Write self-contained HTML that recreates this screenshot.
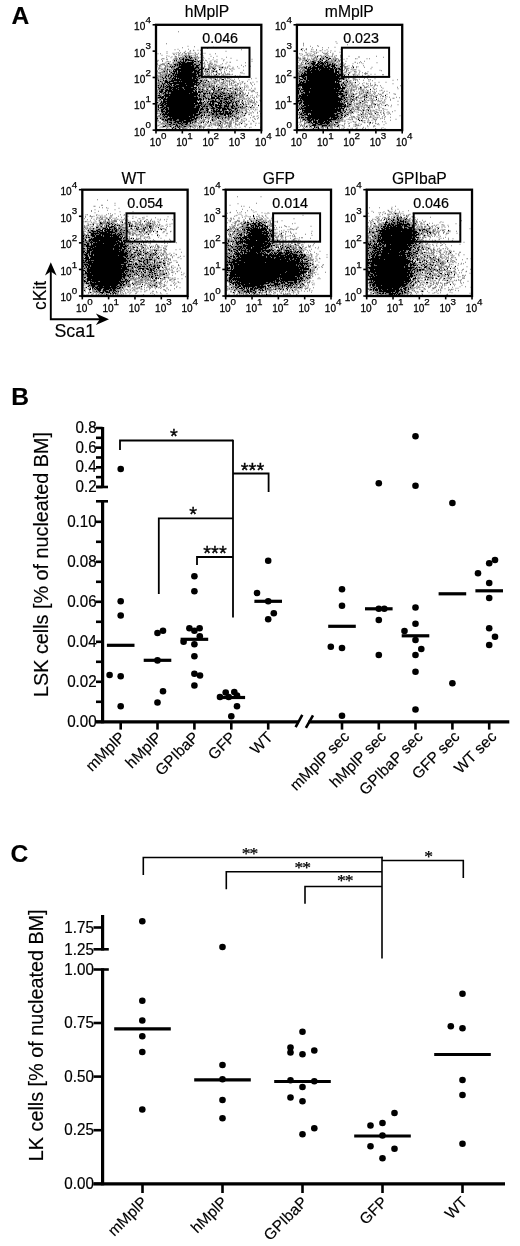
<!DOCTYPE html>
<html lang="en"><head><meta charset="utf-8"><title>Figure</title>
<style>html,body{margin:0;padding:0;background:#fff}svg{display:block}text:not([stroke-width]){stroke:#000;stroke-width:.15px}</style>
</head><body>
<svg width="520" height="1246" viewBox="0 0 520 1246" font-family='"Liberation Sans", sans-serif' fill="#000" stroke="none">
<rect width="520" height="1246" fill="#fff"/>
<text x="11.5" y="23.5" font-size="24.6" text-anchor="start" font-weight="bold">A</text>
<text x="11.2" y="405.2" font-size="24.6" text-anchor="start" font-weight="bold">B</text>
<text x="10.4" y="862" font-size="24.6" text-anchor="start" font-weight="bold">C</text>
<g>
<g transform="translate(156 25.5)" stroke="#000" stroke-width="1" fill="none" shape-rendering="crispEdges"><path d="M0 31h105" stroke-dasharray="0 29 1 3 1 176"/><path d="M0 32h105" stroke-dasharray="0 30 1 2 1 1 1 174"/><path d="M0 33h105" stroke-dasharray="0 23 1 3 1 6 1 175"/><path d="M0 34h105" stroke-dasharray="0 26 2 1 4 6 1 170"/><path d="M0 35h105" stroke-dasharray="0 18 1 1 1 6 1 1 2 1 6 172"/><path d="M0 36h105" stroke-dasharray="0 24 1 2 1 1 1 6 1 1 2 2 1 167"/><path d="M0 37h105" stroke-dasharray="0 22 2 1 4 2 7 6 1 165"/><path d="M0 38h105" stroke-dasharray="0 12 1 10 2 1 11 173"/><path d="M0 39h105" stroke-dasharray="0 18 2 1 1 1 14 1 2 3 1 166"/><path d="M0 40h105" stroke-dasharray="0 19 1 1 1 1 1 1 10 1 2 2 3 167"/><path d="M0 41h105" stroke-dasharray="0 14 1 1 1 1 1 4 15 2 2 3 1 164"/><path d="M0 42h105" stroke-dasharray="0 15 1 6 16 1 4 23 1 143"/><path d="M0 43h105" stroke-dasharray="0 20 3 2 15 2 1 4 1 9 1 152"/><path d="M0 44h105" stroke-dasharray="0 11 1 6 21 4 2 4 1 2 1 5 1 4 1 146"/><path d="M0 45h105" stroke-dasharray="0 17 1 1 2 1 19 1 2 166"/><path d="M0 46h105" stroke-dasharray="0 8 1 4 1 3 4 1 2 1 12 1 5 8 1 5 1 2 1 149"/><path d="M0 47h105" stroke-dasharray="0 15 1 2 1 1 1 1 14 2 2 1 3 1 1 164"/><path d="M0 48h105" stroke-dasharray="0 16 3 1 1 1 18 1 2 167"/><path d="M0 49h105" stroke-dasharray="0 13 1 3 1 1 22 1 1 17 1 149"/><path d="M0 50h105" stroke-dasharray="0 10 1 1 1 2 1 1 1 1 1 1 19 2 3 165"/><path d="M0 51h105" stroke-dasharray="0 9 1 2 1 2 1 2 23 1 2 3 1 162"/><path d="M0 52h105" stroke-dasharray="0 6 1 2 1 4 1 2 1 1 1 1 15 1 3 1 1 29 1 138"/><path d="M0 53h105" stroke-dasharray="0 7 1 2 1 2 1 2 4 1 1 1 13 1 4 2 1 166"/><path d="M0 54h105" stroke-dasharray="0 16 1 1 6 1 14 1 2 17 1 6 2 142"/><path d="M0 55h105" stroke-dasharray="1 1 1 4 1 1 2 4 27 2 2 4 1 159"/><path d="M0 56h105" stroke-dasharray="0 4 1 4 3 1 5 3 2 1 1 1 15 4 1 6 1 157"/><path d="M0 57h105" stroke-dasharray="0 9 5 3 20 1 5 1 1 4 1 160"/><path d="M0 58h105" stroke-dasharray="0 6 1 1 1 2 1 1 16 1 9 1 1 2 1 166"/><path d="M0 59h105" stroke-dasharray="0 7 1 4 1 1 2 2 2 3 18 1 1 167"/><path d="M0 60h105" stroke-dasharray="0 2 1 2 1 1 1 2 1 2 1 1 1 1 2 1 10 1 7 2 2 5 1 162"/><path d="M0 61h105" stroke-dasharray="0 5 1 1 1 1 1 1 4 3 20 15 1 6 1 149"/><path d="M0 62h105" stroke-dasharray="0 2 1 1 1 2 1 2 2 1 9 1 3 2 7 2 4 1 1 14 1 4 1 147"/><path d="M0 63h105" stroke-dasharray="0 3 1 5 1 3 3 1 3 1 6 1 10 1 1 18 1 7 1 1 1 5 1 9 1 125"/><path d="M0 64h105" stroke-dasharray="0 5 3 2 2 1 2 1 6 1 5 1 10 1 1 2 1 2 1 4 1 4 1 1 1 3 2 1 1 13 1 130"/><path d="M0 65h105" stroke-dasharray="0 5 2 2 7 1 20 2 1 17 1 4 1 8 1 138"/><path d="M0 66h105" stroke-dasharray="0 3 4 2 2 1 26 1 2 1 2 1 2 3 1 159"/><path d="M0 67h105" stroke-dasharray="0 4 2 2 2 2 1 2 21 1 4 1 3 8 1 3 1 8 1 12 1 130"/><path d="M0 68h105" stroke-dasharray="0 3 1 3 1 1 1 2 1 2 18 1 8 5 3 1 1 1 1 2 1 2 2 3 1 2 2 3 1 2 1 3 1 4 1 125"/><path d="M0 69h105" stroke-dasharray="0 9 33 1 1 4 1 7 1 8 1 144"/><path d="M0 70h105" stroke-dasharray="0 2 2 4 5 1 27 1 2 3 1 7 1 2 2 2 1 1 1 3 2 3 1 1 1 4 1 10 1 118"/><path d="M0 71h105" stroke-dasharray="0 4 1 1 2 1 29 2 1 2 1 3 2 6 1 3 2 1 5 6 3 134"/><path d="M0 72h105" stroke-dasharray="0 2 6 1 1 2 30 7 1 5 4 2 2 6 1 1 3 2 1 133"/><path d="M0 73h105" stroke-dasharray="0 5 2 1 2 1 31 1 2 2 1 2 1 1 1 2 4 1 4 1 2 1 1 1 1 2 1 4 1 131"/><path d="M0 74h105" stroke-dasharray="0 4 1 2 39 1 1 4 2 5 1 3 1 4 4 4 1 133"/><path d="M0 75h105" stroke-dasharray="0 7 2 2 30 1 1 1 1 11 2 1 1 4 2 8 2 10 1 123"/><path d="M0 76h105" stroke-dasharray="0 5 1 1 34 3 1 3 1 3 1 1 7 3 2 3 2 1 1 2 1 4 1 1 1 127"/><path d="M0 77h105" stroke-dasharray="0 1 1 3 1 1 3 1 31 1 3 1 1 3 1 2 1 1 2 3 3 1 1 1 2 1 2 1 2 2 1 1 1 130"/><path d="M0 78h105" stroke-dasharray="0 4 1 1 2 1 29 1 7 7 2 1 2 4 4 3 1 1 3 2 1 3 1 5 1 123"/><path d="M0 79h105" stroke-dasharray="0 5 2 1 2 1 30 1 1 2 1 3 1 3 5 1 2 1 1 1 1 5 1 1 1 3 1 3 1 3 1 2 1 122"/><path d="M0 80h105" stroke-dasharray="0 2 1 1 4 2 29 3 3 3 1 5 2 1 1 1 7 2 3 1 1 3 2 2 2 14 1 5 1 107"/><path d="M0 81h105" stroke-dasharray="0 2 1 3 2 2 29 1 4 1 1 1 2 1 2 3 2 2 2 2 2 3 5 2 2 1 1 7 1 3 1 119"/><path d="M0 82h105" stroke-dasharray="0 2 1 1 3 1 3 2 25 2 4 2 1 9 2 2 6 2 1 2 1 3 2 5 1 1 1 9 1 115"/><path d="M0 83h105" stroke-dasharray="0 7 2 1 2 1 30 2 2 3 2 3 4 3 3 1 4 1 2 3 2 1 2 129"/><path d="M0 84h105" stroke-dasharray="0 2 1 2 3 1 3 1 30 1 4 3 2 4 1 2 2 1 1 2 5 1 3 4 1 130"/><path d="M0 85h105" stroke-dasharray="0 5 2 3 33 1 1 5 2 3 1 1 2 1 1 1 2 2 2 5 1 1 1 5 1 128"/><path d="M0 86h105" stroke-dasharray="0 5 4 1 32 1 1 7 1 5 9 1 1 1 3 2 1 1 2 2 1 129"/><path d="M0 87h105" stroke-dasharray="0 6 1 2 3 1 29 1 3 2 1 2 1 1 1 1 1 2 1 1 1 3 1 2 1 1 3 1 2 1 1 5 1 3 1 123"/><path d="M0 88h105" stroke-dasharray="0 7 1 1 2 1 28 3 2 11 2 2 1 2 5 1 7 4 1 8 1 120"/><path d="M0 89h105" stroke-dasharray="1 3 1 1 31 1 6 4 1 7 2 2 2 2 3 1 2 1 2 1 1 135"/><path d="M0 90h105" stroke-dasharray="0 8 1 2 26 1 4 3 2 1 1 3 2 6 1 7 2 2 1 3 1 11 1 121"/><path d="M0 91h105" stroke-dasharray="0 7 1 1 3 1 20 1 5 6 1 13 1 3 1 8 1 1 1 3 1 131"/><path d="M0 92h105" stroke-dasharray="0 8 1 1 1 3 1 1 23 1 2 7 1 6 1 4 2 6 1 140"/><path d="M0 93h105" stroke-dasharray="0 1 1 2 1 7 24 2 3 4 1 16 1 3 1 9 1 4 1 128"/><path d="M0 94h105" stroke-dasharray="0 6 2 1 1 1 5 1 4 2 11 1 3 1 1 16 1 153"/><path d="M0 95h105" stroke-dasharray="0 9 3 2 2 1 3 3 5 2 7 19 1 153"/><path d="M0 96h105" stroke-dasharray="0 11 1 7 7 1 8 4 1 12 1 11 1 145"/><path d="M0 97h105" stroke-dasharray="0 11 1 1 3 2 2 1 2 2 1 1 5 2 1 1 1 8 1 1 1 6 1 155"/><path d="M0 98h105" stroke-dasharray="0 15 1 6 3 1 1 3 2 2 1 29 1 20 1 124"/><path d="M0 99h105" stroke-dasharray="0 13 2 2 2 1 1 4 1 3 2 179"/><path d="M0 100h105" stroke-dasharray="0 9 1 10 2 4 1 36 1 146"/><path d="M0 101h105" stroke-dasharray="0 7 2 5 1 4 1 1 1 1 1 4 2 4 1 8 1 166"/><path d="M0 102h105" stroke-dasharray="0 17 1 4 1 187"/><path d="M0 103h105" stroke-dasharray="0 16 1 2 1 3 1 186"/><path d="M0 104h105" stroke-dasharray="0 34 1 175"/></g><g transform="translate(156 25.25) scale(0.5)" stroke="#000" stroke-width="1" fill="none"><path d="M0 13h211" stroke-dasharray="0 44 2 376"/><path d="M0 18h211" stroke-dasharray="2 420"/><path d="M0 37h211" stroke-dasharray="0 20 2 400"/><path d="M0 42h211" stroke-dasharray="0 63 2 357"/><path d="M0 43h211" stroke-dasharray="0 76 2 344"/><path d="M0 44h211" stroke-dasharray="0 114 2 306"/><path d="M0 45h211" stroke-dasharray="0 52 2 65 2 301"/><path d="M0 46h211" stroke-dasharray="0 102 2 318"/><path d="M0 48h211" stroke-dasharray="0 43 2 19 2 356"/><path d="M0 49h211" stroke-dasharray="0 37 2 131 2 250"/><path d="M0 50h211" stroke-dasharray="0 74 2 7 2 3 2 332"/><path d="M0 51h211" stroke-dasharray="0 46 2 20 2 5 2 345"/><path d="M0 52h211" stroke-dasharray="0 58 2 7 2 70 2 281"/><path d="M0 53h211" stroke-dasharray="0 21 2 399"/><path d="M0 54h211" stroke-dasharray="0 56 2 9 2 353"/><path d="M0 55h211" stroke-dasharray="0 41 2 1 2 2 2 5 2 6 2 12 2 343"/><path d="M0 56h211" stroke-dasharray="0 21 2 10 2 2 2 18 2 5 2 3 2 7 2 4 2 7 2 2 2 323"/><path d="M0 57h211" stroke-dasharray="0 3 2 3 2 36 2 4 2 4 4 4 3 4 2 43 2 302"/><path d="M0 58h211" stroke-dasharray="0 34 2 4 2 2 2 18 2 15 2 5 2 17 2 313"/><path d="M0 59h211" stroke-dasharray="0 36 2 13 2 6 2 16 2 2 2 339"/><path d="M0 60h211" stroke-dasharray="0 11 2 33 2 1 2 4 4 5 4 10 2 11 2 329"/><path d="M0 61h211" stroke-dasharray="0 21 2 21 2 11 2 1 2 1 2 4 4 2 2 16 2 327"/><path d="M0 62h211" stroke-dasharray="0 25 2 11 2 12 2 1 2 1 13 7 2 2 2 25 2 10 2 299"/><path d="M0 63h211" stroke-dasharray="0 31 2 4 2 1 2 16 2 6 2 13 2 339"/><path d="M0 64h211" stroke-dasharray="0 20 2 17 2 3 2 2 3 2 3 2 4 1 2 1 6 3 2 2 2 2 2 4 2 3 2 44 2 280"/><path d="M0 65h211" stroke-dasharray="0 29 2 16 2 1 3 2 3 2 2 2 4 1 6 1 2 1 2 4 2 27 2 306"/><path d="M0 66h211" stroke-dasharray="0 37 6 3 2 5 4 3 4 4 6 3 4 2 3 9 2 52 2 271"/><path d="M0 67h211" stroke-dasharray="0 12 5 20 2 2 2 3 3 2 6 1 2 1 2 2 5 1 2 4 2 11 2 13 2 24 2 289"/><path d="M0 68h211" stroke-dasharray="0 10 2 8 4 10 2 4 3 3 4 1 6 1 9 2 2 3 2 2 2 1 2 108 2 229"/><path d="M0 69h211" stroke-dasharray="0 37 4 2 2 4 8 1 12 1 2 2 2 1 4 11 2 18 2 6 2 12 2 285"/><path d="M0 70h211" stroke-dasharray="0 3 2 28 2 1 2 2 2 3 2 2 2 3 2 2 18 6 2 7 2 1 2 2 2 61 2 259"/><path d="M0 71h211" stroke-dasharray="0 3 2 7 2 22 2 1 3 6 2 1 2 1 2 1 5 1 13 1 2 2 2 3 4 10 2 7 2 6 2 15 2 286"/><path d="M0 72h211" stroke-dasharray="0 12 2 7 3 11 2 2 4 1 9 1 2 1 4 2 2 4 11 1 7 33 2 68 2 229"/><path d="M0 73h211" stroke-dasharray="0 2 2 20 3 1 2 6 2 5 2 3 2 1 2 1 7 2 2 4 2 1 2 1 5 1 2 1 2 21 2 7 2 1 2 301"/><path d="M0 74h211" stroke-dasharray="0 19 2 12 2 4 2 1 6 1 10 2 15 12 4 4 2 4 2 5 2 30 2 4 3 272"/><path d="M0 75h211" stroke-dasharray="0 34 2 7 33 3 3 1 4 1 2 31 2 55 2 242"/><path d="M0 76h211" stroke-dasharray="0 17 2 4 5 5 3 1 3 1 2 1 6 1 24 2 10 1 2 1 2 2 2 10 3 1 2 309"/><path d="M0 77h211" stroke-dasharray="0 2 2 8 4 5 2 1 2 14 4 1 34 11 2 3 2 10 2 23 2 5 2 281"/><path d="M0 78h211" stroke-dasharray="0 9 2 5 2 9 2 1 2 4 4 1 4 1 34 1 2 3 2 9 2 4 2 5 4 2 3 303"/><path d="M0 79h211" stroke-dasharray="0 2 2 5 7 5 2 3 2 1 2 2 42 1 5 3 7 15 2 1 2 8 2 8 2 291"/><path d="M0 80h211" stroke-dasharray="0 5 2 9 2 3 3 4 2 5 2 1 10 1 30 1 9 15 2 39 2 23 2 250"/><path d="M0 81h211" stroke-dasharray="0 6 4 8 2 10 3 5 2 1 3 1 25 1 5 1 2 1 7 9 2 8 3 5 3 2 4 2 2 51 2 6 2 234"/><path d="M0 82h211" stroke-dasharray="0 19 2 1 4 1 3 2 2 1 3 1 2 4 31 3 5 1 2 3 3 4 2 5 2 5 2 5 2 3 2 2 2 18 2 39 2 232"/><path d="M0 83h211" stroke-dasharray="0 1 2 3 2 1 2 7 2 1 2 4 4 1 9 1 42 1 2 3 2 4 2 8 5 4 2 16 2 8 2 17 2 10 2 246"/><path d="M0 84h211" stroke-dasharray="0 26 2 2 4 1 2 5 44 1 4 4 2 14 2 13 2 2 4 4 2 2 2 9 2 267"/><path d="M0 85h211" stroke-dasharray="0 5 2 10 4 2 2 4 4 1 5 2 2 1 33 1 9 4 5 8 4 1 2 1 2 1 4 6 2 1 3 1 2 1 2 285"/><path d="M0 86h211" stroke-dasharray="0 5 4 2 2 3 4 20 6 3 32 2 6 2 6 9 2 4 4 3 2 10 2 5 2 1 2 10 2 10 2 255"/><path d="M0 87h211" stroke-dasharray="0 7 2 6 2 5 2 6 9 1 6 1 35 1 3 3 3 2 2 2 5 1 2 2 2 3 4 1 2 26 2 3 2 269"/><path d="M0 88h211" stroke-dasharray="0 4 2 5 2 5 3 1 6 8 54 1 2 5 2 3 4 8 4 7 4 6 2 10 2 5 2 265"/><path d="M0 89h211" stroke-dasharray="0 10 4 1 4 3 2 3 4 1 47 2 2 3 7 2 2 1 8 10 2 8 2 2 2 290"/><path d="M0 90h211" stroke-dasharray="0 7 2 13 3 2 2 5 49 1 4 9 2 7 2 2 4 26 2 9 2 21 2 246"/><path d="M0 91h211" stroke-dasharray="0 1 2 11 3 1 4 4 2 2 2 2 2 2 4 1 45 11 2 13 2 4 3 5 2 292"/><path d="M0 92h211" stroke-dasharray="0 2 2 10 4 2 3 3 2 1 2 3 8 1 5 1 26 1 10 7 2 1 2 3 3 7 8 1 2 14 2 13 2 269"/><path d="M0 93h211" stroke-dasharray="0 11 3 2 2 1 2 1 2 2 3 3 10 2 31 1 15 1 2 3 8 1 2 6 2 2 4 24 2 274"/><path d="M0 94h211" stroke-dasharray="0 1 2 3 2 1 2 3 2 5 2 4 6 2 8 1 28 1 2 1 4 1 11 14 2 2 4 7 2 7 2 4 2 33 2 249"/><path d="M0 95h211" stroke-dasharray="0 4 2 2 2 1 3 2 2 1 2 1 2 5 3 3 3 1 50 1 2 1 2 4 4 18 2 45 2 252"/><path d="M0 96h211" stroke-dasharray="0 5 4 4 2 7 2 5 2 1 6 2 2 1 44 1 2 12 5 2 2 10 2 7 2 6 2 31 2 249"/><path d="M0 97h211" stroke-dasharray="0 1 2 4 2 8 5 1 2 2 4 1 49 1 5 2 2 3 2 2 2 14 2 8 5 6 2 5 2 1 2 28 2 245"/><path d="M0 98h211" stroke-dasharray="0 8 3 2 2 4 4 2 4 4 53 1 2 1 3 1 2 14 2 8 2 4 2 17 2 5 2 268"/><path d="M0 99h211" stroke-dasharray="0 9 2 4 6 3 5 2 6 1 44 1 8 8 6 1 2 7 2 2 3 3 2 5 4 2 7 1 2 1 2 271"/><path d="M0 100h211" stroke-dasharray="4 1 2 1 2 1 4 5 2 1 10 1 3 1 2 1 41 2 6 9 2 2 5 1 2 6 2 2 2 7 2 35 2 253"/><path d="M0 101h211" stroke-dasharray="0 13 2 2 5 1 3 3 52 2 10 3 3 4 2 6 2 3 4 3 2 8 4 21 2 262"/><path d="M0 102h211" stroke-dasharray="0 3 5 1 4 4 5 1 3 3 53 1 8 1 6 5 4 7 2 5 2 13 5 15 2 4 2 258"/><path d="M0 103h211" stroke-dasharray="0 8 2 3 2 3 2 1 5 1 5 4 52 1 2 3 3 4 2 2 2 3 2 5 2 1 2 3 2 1 2 3 2 6 2 5 2 11 2 17 2 240"/><path d="M0 104h211" stroke-dasharray="0 2 3 2 7 1 5 1 2 4 6 1 2 1 43 1 3 1 2 13 3 5 2 1 2 7 5 10 2 5 2 13 2 263"/><path d="M0 105h211" stroke-dasharray="0 12 2 4 2 4 3 1 3 3 7 1 31 1 13 1 2 2 2 7 2 10 2 6 2 16 2 1 2 6 2 270"/><path d="M0 106h211" stroke-dasharray="0 1 5 1 2 2 2 1 8 3 15 2 3 1 26 1 16 1 2 5 4 4 2 2 4 5 2 6 2 1 3 5 2 4 2 54 2 221"/><path d="M0 107h211" stroke-dasharray="0 14 3 3 2 1 6 2 9 1 4 1 37 2 4 4 3 11 4 3 4 4 2 4 2 7 2 4 2 1 2 16 2 24 2 230"/><path d="M0 108h211" stroke-dasharray="0 3 2 3 8 3 3 1 2 2 22 1 35 2 2 2 3 6 3 14 3 11 5 2 2 8 2 6 2 264"/><path d="M0 109h211" stroke-dasharray="0 3 3 1 2 4 2 6 2 3 3 2 3 2 42 2 6 10 3 11 2 6 5 3 2 2 6 49 2 235"/><path d="M0 110h211" stroke-dasharray="2 1 4 2 2 3 3 1 5 3 58 1 2 1 4 4 2 1 4 19 2 1 2 14 2 7 4 268"/><path d="M0 111h211" stroke-dasharray="2 2 2 7 3 1 6 1 2 4 57 1 8 1 2 1 3 10 4 3 2 2 3 8 2 2 3 1 2 1 2 6 2 10 2 254"/><path d="M0 112h211" stroke-dasharray="0 4 2 1 4 6 7 1 11 1 2 2 10 1 32 3 2 1 2 1 2 4 2 2 3 3 2 2 2 4 2 4 2 8 2 4 2 4 2 4 3 1 2 23 2 238"/><path d="M0 113h211" stroke-dasharray="0 7 7 1 9 2 10 1 9 2 35 5 5 1 2 7 3 1 2 7 2 1 4 11 2 7 2 1 2 23 4 26 2 219"/><path d="M0 114h211" stroke-dasharray="2 1 4 2 4 3 13 4 57 3 4 1 2 15 2 9 2 3 2 1 2 2 2 6 2 8 2 1 2 32 2 227"/><path d="M0 115h211" stroke-dasharray="0 5 2 5 2 4 11 2 43 1 12 1 2 5 6 2 5 1 2 5 2 1 2 8 4 17 2 3 2 10 2 3 2 14 2 232"/><path d="M0 116h211" stroke-dasharray="0 3 4 4 7 4 3 1 52 1 6 1 2 1 4 2 3 11 2 1 3 2 2 13 7 2 2 8 2 1 2 21 2 10 2 231"/><path d="M0 117h211" stroke-dasharray="0 1 2 2 4 2 4 1 4 1 4 1 33 1 23 1 4 3 4 6 3 2 2 3 2 3 3 8 2 4 2 11 3 1 2 10 4 3 2 5 2 244"/><path d="M0 118h211" stroke-dasharray="0 7 2 3 5 1 2 2 10 3 6 3 39 1 7 1 5 2 2 2 4 15 2 7 2 9 2 19 2 25 2 4 2 224"/><path d="M0 119h211" stroke-dasharray="0 1 2 2 4 1 2 1 6 2 2 1 3 1 4 2 10 1 42 8 6 4 4 1 2 12 2 3 4 4 2 7 2 2 2 6 2 8 2 252"/><path d="M0 120h211" stroke-dasharray="0 4 2 4 2 2 2 3 4 1 9 1 27 1 17 1 6 1 2 3 4 4 2 1 2 5 3 1 4 2 2 11 2 2 4 6 2 2 2 4 5 15 2 2 2 239"/><path d="M0 121h211" stroke-dasharray="0 2 10 1 5 2 5 1 2 2 3 1 4 1 38 3 5 2 2 4 7 3 2 1 2 1 2 1 2 7 2 6 2 9 3 10 2 2 2 3 2 28 2 228"/><path d="M0 122h211" stroke-dasharray="0 7 2 1 2 1 4 1 12 1 2 1 42 6 2 2 5 4 7 3 3 1 2 2 5 2 3 3 2 5 3 3 2 1 2 39 2 237"/><path d="M0 123h211" stroke-dasharray="2 2 2 2 5 1 6 2 12 1 41 3 3 2 2 3 3 1 2 10 7 3 2 3 2 5 2 2 2 25 3 5 2 8 2 2 2 240"/><path d="M0 124h211" stroke-dasharray="0 2 4 2 10 1 5 1 19 1 8 2 27 2 3 2 2 2 2 2 2 2 8 3 6 5 4 4 2 4 2 3 2 8 3 12 2 8 2 243"/><path d="M0 125h211" stroke-dasharray="0 4 6 3 4 2 52 2 9 2 3 5 3 1 2 2 3 5 2 3 3 1 2 5 6 1 2 6 2 12 2 6 2 6 2 1 2 9 2 237"/><path d="M0 126h211" stroke-dasharray="0 5 5 3 3 1 3 2 18 1 14 1 25 3 2 1 2 3 4 4 2 8 2 4 2 4 3 5 4 1 4 9 5 6 3 3 2 1 2 6 2 12 2 5 2 223"/><path d="M0 127h211" stroke-dasharray="2 3 3 2 5 2 5 3 7 1 22 1 21 1 6 1 5 11 2 1 2 5 7 2 2 7 2 1 9 2 8 4 2 2 2 2 2 3 2 40 1 211"/><path d="M0 128h211" stroke-dasharray="0 3 4 1 16 1 20 1 10 1 25 1 12 7 2 7 3 2 2 1 2 3 8 4 2 1 4 9 2 2 8 33 2 223"/><path d="M0 129h211" stroke-dasharray="0 1 2 2 3 1 7 4 4 1 5 1 47 2 2 3 4 3 5 3 4 5 9 6 4 2 2 3 2 21 2 1 2 3 2 2 2 3 3 9 2 233"/><path d="M0 130h211" stroke-dasharray="0 5 4 1 4 1 2 1 15 1 42 1 4 3 3 2 2 1 4 1 2 4 3 1 2 5 2 7 4 1 2 4 2 1 2 2 3 3 2 5 2 7 2 1 2 5 2 5 2 3 2 6 2 227"/><path d="M0 131h211" stroke-dasharray="4 3 7 3 58 2 6 4 3 3 2 1 4 1 2 3 4 4 13 9 2 4 5 1 2 11 4 3 2 19 2 2 3 226"/><path d="M0 132h211" stroke-dasharray="3 3 11 1 4 2 52 2 4 2 4 2 5 1 2 1 7 9 8 4 4 2 2 11 5 2 2 1 3 10 5 21 3 224"/><path d="M0 133h211" stroke-dasharray="0 1 2 3 9 3 64 2 10 6 3 3 4 4 3 2 2 1 4 1 2 1 2 2 2 3 2 10 2 1 2 2 2 2 2 5 2 19 4 228"/><path d="M0 134h211" stroke-dasharray="3 1 10 1 5 1 7 1 53 2 6 1 6 3 3 3 2 6 4 2 9 1 8 3 2 4 2 2 2 5 2 6 4 1 2 249"/><path d="M0 135h211" stroke-dasharray="0 8 5 1 7 2 4 1 44 1 20 2 2 1 3 4 3 1 4 1 2 2 2 1 2 2 2 1 2 1 3 1 2 2 4 7 2 1 4 1 2 1 2 9 4 8 2 13 2 1 2 218"/><path d="M0 136h211" stroke-dasharray="0 2 6 2 2 1 8 2 4 1 38 1 17 3 2 5 6 1 8 2 4 2 6 5 3 2 6 2 2 1 2 4 3 2 2 1 4 4 4 8 2 242"/><path d="M0 137h211" stroke-dasharray="3 3 2 3 6 1 4 1 4 2 55 4 2 4 10 1 18 2 17 1 14 1 2 5 2 1 2 3 3 8 2 236"/><path d="M0 138h211" stroke-dasharray="0 1 2 3 2 4 5 1 67 1 2 1 4 3 2 9 4 1 3 5 3 2 8 5 2 4 6 1 3 1 4 1 4 3 2 4 2 2 2 243"/><path d="M0 139h211" stroke-dasharray="0 5 2 1 4 3 70 1 2 1 2 2 8 1 2 6 8 1 2 1 4 1 2 1 7 3 4 1 2 10 2 4 5 3 2 3 2 24 2 218"/><path d="M0 140h211" stroke-dasharray="0 3 9 4 10 1 62 2 2 1 3 4 8 1 2 4 5 1 4 1 3 2 12 1 10 2 6 2 2 3 5 7 2 8 2 228"/><path d="M0 141h211" stroke-dasharray="9 5 68 1 5 2 3 1 6 8 13 3 6 5 6 3 4 2 3 3 2 2 4 2 3 11 4 5 2 14 2 215"/><path d="M0 142h211" stroke-dasharray="0 7 75 3 3 1 10 4 4 3 3 4 17 1 4 6 10 1 2 8 10 3 2 19 2 220"/><path d="M0 143h211" stroke-dasharray="2 1 2 1 4 1 6 1 58 1 2 1 4 1 6 3 6 1 3 2 2 2 12 2 10 6 4 2 6 1 2 6 2 259"/><path d="M0 144h211" stroke-dasharray="0 1 16 1 3 1 63 2 2 1 10 5 2 3 8 2 11 1 2 3 3 1 8 1 4 1 2 1 4 5 2 4 2 8 2 3 2 2 2 2 2 3 2 219"/><path d="M0 145h211" stroke-dasharray="0 1 2 1 12 2 3 2 62 1 2 3 2 5 7 5 8 3 5 5 2 2 15 1 7 8 6 2 3 245"/><path d="M0 146h211" stroke-dasharray="0 2 4 1 2 1 5 1 5 1 63 1 5 3 2 2 21 1 8 2 9 1 9 2 8 3 5 18 2 7 2 226"/><path d="M0 147h211" stroke-dasharray="0 3 2 1 2 2 10 1 63 1 7 1 6 1 2 2 2 3 26 1 6 3 6 5 3 2 2 9 2 1 4 1 3 3 2 234"/><path d="M0 148h211" stroke-dasharray="0 7 3 3 83 1 5 1 8 2 2 3 4 3 7 1 2 1 9 2 4 1 5 3 2 7 2 4 2 7 2 10 2 224"/><path d="M0 149h211" stroke-dasharray="0 2 2 2 5 2 79 2 2 8 5 1 5 2 3 4 4 5 15 1 5 1 3 7 3 1 2 8 2 8 2 231"/><path d="M0 150h211" stroke-dasharray="0 1 2 5 4 2 5 2 62 1 2 1 4 3 2 8 2 5 5 1 4 2 3 1 6 1 8 1 4 1 5 1 3 4 2 2 3 4 2 16 2 4 2 9 3 212"/><path d="M0 151h211" stroke-dasharray="0 3 5 6 69 1 2 1 8 4 4 4 9 1 4 2 2 2 7 1 2 2 2 6 5 5 2 3 5 5 2 8 2 1 2 5 2 16 1 211"/><path d="M0 152h211" stroke-dasharray="0 6 2 2 3 1 69 4 4 5 2 1 3 2 19 4 15 2 2 4 2 1 4 2 3 2 4 3 2 4 2 4 2 1 5 17 2 212"/><path d="M0 153h211" stroke-dasharray="0 9 73 5 3 6 2 4 5 1 25 4 9 1 8 1 10 5 2 5 2 9 2 5 2 2 2 220"/><path d="M0 154h211" stroke-dasharray="0 1 5 2 4 1 71 2 7 1 2 5 4 3 21 1 2 2 4 1 12 1 5 1 5 2 2 4 5 13 4 1 2 5 2 219"/><path d="M0 155h211" stroke-dasharray="0 2 2 5 12 1 63 1 10 1 3 2 3 3 2 2 5 4 8 1 2 1 6 1 5 1 7 1 2 2 2 6 2 2 2 7 2 2 3 1 2 4 2 1 2 224"/><path d="M0 156h211" stroke-dasharray="2 5 4 1 4 1 59 2 14 1 3 3 2 2 2 1 4 2 7 5 11 1 15 1 4 2 6 8 3 18 2 227"/><path d="M0 157h211" stroke-dasharray="0 2 3 1 71 1 17 2 14 1 5 7 9 4 3 1 7 1 2 1 3 4 4 1 2 6 4 2 2 4 2 12 2 222"/><path d="M0 158h211" stroke-dasharray="0 7 76 1 2 1 16 2 12 1 5 1 2 1 3 1 2 2 2 3 3 1 2 6 2 2 2 2 2 6 2 4 2 3 2 2 3 1 2 7 2 1 2 221"/><path d="M0 159h211" stroke-dasharray="0 3 5 2 4 1 5 1 65 1 2 1 3 2 2 1 2 2 15 1 5 1 2 2 5 2 2 1 11 3 4 2 6 1 2 1 4 2 2 1 2 1 2 240"/><path d="M0 160h211" stroke-dasharray="90 1 9 2 10 1 3 1 31 1 9 2 5 6 2 1 3 2 2 11 2 10 2 216"/><path d="M0 161h211" stroke-dasharray="0 4 2 1 10 2 59 1 2 2 10 3 2 2 2 5 9 1 15 1 2 1 6 2 2 2 2 2 4 3 6 1 2 24 2 3 2 5 2 216"/><path d="M0 162h211" stroke-dasharray="3 1 2 5 6 2 59 1 9 2 16 3 6 3 4 4 5 5 10 1 11 1 4 4 2 3 2 6 2 4 2 2 2 230"/><path d="M0 163h211" stroke-dasharray="0 2 4 5 78 1 3 1 5 1 4 1 4 1 4 3 8 1 21 2 6 1 2 1 2 2 3 1 7 3 7 238"/><path d="M0 164h211" stroke-dasharray="0 4 2 2 81 3 5 1 2 1 2 3 2 1 2 1 26 1 2 1 6 1 10 4 3 1 4 2 3 1 2 5 2 2 4 1 4 225"/><path d="M0 165h211" stroke-dasharray="0 3 12 1 7 2 52 2 10 2 3 1 2 3 4 4 2 1 6 2 14 2 10 4 6 2 5 1 3 1 7 1 4 8 4 4 2 4 2 219"/><path d="M0 166h211" stroke-dasharray="0 1 2 2 3 1 85 2 23 2 2 1 23 3 6 1 6 2 2 4 8 243"/><path d="M0 167h211" stroke-dasharray="2 3 2 1 3 2 6 1 5 1 60 1 2 1 7 2 5 5 22 1 9 1 9 1 12 4 5 7 2 9 2 229"/><path d="M0 168h211" stroke-dasharray="0 1 5 3 7 1 8 1 61 1 9 1 8 1 2 4 5 1 6 1 5 1 20 5 6 8 2 10 3 3 2 3 2 2 2 222"/><path d="M0 169h211" stroke-dasharray="0 4 2 4 6 1 70 1 8 5 5 4 2 1 4 3 4 2 2 4 10 2 7 5 4 2 3 1 2 7 2 1 3 20 2 219"/><path d="M0 170h211" stroke-dasharray="6 1 2 1 5 2 2 1 70 1 2 1 2 3 5 6 2 1 6 1 2 1 6 2 5 1 5 3 9 1 10 2 2 2 2 7 2 240"/><path d="M0 171h211" stroke-dasharray="0 6 3 1 4 1 4 1 66 2 5 3 2 1 7 3 20 2 8 7 2 2 2 1 3 6 2 1 3 7 2 1 2 6 2 9 2 223"/><path d="M0 172h211" stroke-dasharray="0 1 2 2 2 2 10 1 65 1 4 3 2 2 3 1 5 3 4 1 19 1 11 1 4 1 13 5 4 7 2 24 2 214"/><path d="M0 173h211" stroke-dasharray="0 1 4 1 2 1 76 1 2 2 8 1 2 1 2 1 3 4 21 1 2 2 8 1 3 1 5 4 3 3 2 13 2 9 2 228"/><path d="M0 174h211" stroke-dasharray="2 8 6 2 7 1 58 2 6 1 8 1 3 1 6 1 6 1 2 1 2 2 3 2 18 2 2 2 7 1 2 2 6 5 4 19 2 218"/><path d="M0 175h211" stroke-dasharray="0 11 3 1 70 1 8 1 4 1 5 1 2 1 3 3 7 2 7 3 2 1 7 2 5 1 2 1 2 4 6 5 2 11 2 2 2 3 2 226"/><path d="M0 176h211" stroke-dasharray="0 1 4 1 4 1 71 1 7 6 5 5 2 2 26 1 16 7 2 1 2 10 2 1 4 7 2 11 2 218"/><path d="M0 177h211" stroke-dasharray="0 3 2 4 3 2 2 1 6 1 57 2 2 1 10 8 2 2 2 1 5 3 4 3 26 1 3 2 4 5 2 4 2 3 2 28 2 212"/><path d="M0 178h211" stroke-dasharray="2 6 3 1 76 3 4 1 2 2 3 6 7 1 30 1 6 2 5 2 3 4 3 4 2 6 3 234"/><path d="M0 179h211" stroke-dasharray="2 6 2 2 62 1 13 2 2 4 2 6 7 1 6 1 5 1 2 1 7 1 4 1 10 3 2 7 2 20 2 235"/><path d="M0 180h211" stroke-dasharray="0 6 3 3 2 1 4 1 54 1 9 1 2 2 5 1 3 1 2 2 5 1 3 4 9 5 2 3 5 4 3 2 2 1 5 3 2 5 2 3 2 2 3 11 2 230"/><path d="M0 181h211" stroke-dasharray="0 4 3 2 3 1 6 3 63 3 6 2 2 2 8 4 3 2 2 1 2 1 7 2 8 4 5 2 3 2 3 10 2 3 4 25 2 217"/><path d="M0 182h211" stroke-dasharray="0 6 2 4 55 1 19 2 3 2 2 4 2 1 2 5 11 2 9 6 2 1 5 1 6 3 2 1 2 3 2 29 2 4 2 6 2 211"/><path d="M0 183h211" stroke-dasharray="0 2 4 1 2 4 4 1 6 2 40 1 11 3 2 2 7 16 2 3 2 2 7 1 4 2 4 4 3 2 7 2 7 3 2 3 3 2 2 20 2 225"/><path d="M0 184h211" stroke-dasharray="0 1 2 5 4 3 3 1 4 3 5 1 46 2 8 1 2 3 2 1 3 1 2 1 3 5 2 4 2 2 4 5 2 1 2 1 5 3 7 7 3 1 2 4 2 22 2 227"/><path d="M0 185h211" stroke-dasharray="0 7 2 2 14 2 51 1 6 2 7 4 6 2 2 3 4 1 2 3 5 1 2 1 4 1 2 1 3 1 4 1 2 9 2 1 6 21 2 14 2 216"/><path d="M0 186h211" stroke-dasharray="0 1 4 3 5 3 2 1 53 1 2 1 12 2 2 22 2 2 3 2 3 2 2 2 2 3 3 1 2 2 3 4 2 3 2 3 2 2 2 9 2 243"/><path d="M0 187h211" stroke-dasharray="0 2 2 3 3 2 5 4 2 1 48 1 9 8 2 2 2 5 2 1 4 3 2 6 2 3 4 1 2 1 2 3 2 4 3 5 4 5 4 1 2 8 2 19 2 4 2 218"/><path d="M0 188h211" stroke-dasharray="0 11 9 1 11 1 48 2 2 1 2 10 2 4 2 4 4 2 2 2 2 7 2 1 4 1 2 4 4 12 3 1 3 5 2 7 2 16 2 222"/><path d="M0 189h211" stroke-dasharray="0 2 2 6 6 2 24 1 2 1 22 1 7 1 5 11 5 14 4 3 2 10 2 12 2 3 6 2 2 10 2 250"/><path d="M0 190h211" stroke-dasharray="0 4 2 6 3 3 6 3 14 2 2 1 37 1 2 2 3 4 2 14 4 2 2 6 2 7 2 3 3 1 3 33 2 11 2 228"/><path d="M0 191h211" stroke-dasharray="0 2 3 9 19 1 22 3 16 4 2 11 2 2 2 5 2 3 2 1 4 1 3 4 2 1 2 4 2 3 2 10 2 2 3 3 2 1 2 7 2 2 2 245"/><path d="M0 192h211" stroke-dasharray="0 3 2 9 4 1 6 1 3 2 2 4 44 5 2 1 2 3 3 7 2 7 3 5 2 2 6 3 5 8 2 1 2 6 7 4 2 2 2 10 2 7 2 226"/><path d="M0 193h211" stroke-dasharray="0 7 2 8 2 3 3 2 6 1 19 1 17 6 5 9 4 2 2 1 2 2 2 22 2 8 2 7 2 27 2 17 2 225"/><path d="M0 194h211" stroke-dasharray="0 7 3 5 2 5 11 1 12 1 18 2 4 1 2 1 2 1 3 4 2 1 4 2 2 6 2 4 2 7 4 2 2 5 2 6 5 5 2 7 2 263"/><path d="M0 195h211" stroke-dasharray="0 5 2 5 2 4 3 1 2 1 8 2 5 1 6 2 3 1 13 1 3 2 6 1 2 1 2 6 2 2 2 5 2 1 2 2 2 11 2 5 2 1 4 6 4 1 2 2 2 2 2 10 4 2 2 248"/><path d="M0 196h211" stroke-dasharray="2 11 2 2 2 2 2 5 4 3 6 1 12 1 9 2 4 1 3 2 3 6 2 2 2 11 2 5 3 1 4 5 2 1 5 3 2 2 4 1 2 5 2 7 2 10 2 17 2 8 2 4 2 215"/><path d="M0 197h211" stroke-dasharray="0 9 4 1 3 2 7 4 6 3 3 1 7 1 6 2 5 4 5 11 2 1 2 9 2 18 3 3 2 2 2 15 6 8 2 4 2 3 2 5 2 243"/><path d="M0 198h211" stroke-dasharray="0 11 2 2 2 4 2 1 9 1 4 1 6 2 6 1 8 1 4 12 2 14 2 10 2 7 2 6 2 6 2 2 3 4 2 2 2 10 2 20 2 6 2 231"/><path d="M0 199h211" stroke-dasharray="0 7 2 8 2 4 2 1 4 3 10 3 2 1 6 2 7 1 4 3 5 22 3 7 2 2 3 2 2 2 2 3 2 1 2 15 4 7 3 2 2 1 2 12 2 240"/><path d="M0 200h211" stroke-dasharray="0 1 2 2 2 11 6 1 2 1 2 1 3 5 6 1 3 1 4 1 2 4 7 1 2 3 2 1 2 2 2 1 3 1 2 7 2 6 2 3 2 5 2 3 7 33 2 15 2 17 2 222"/><path d="M0 201h211" stroke-dasharray="0 4 2 7 2 3 2 5 2 2 3 1 2 3 7 2 2 2 6 2 2 6 2 7 2 1 2 9 2 14 2 11 2 5 2 2 4 6 3 1 4 1 2 271"/><path d="M0 202h211" stroke-dasharray="0 1 2 10 5 1 2 5 5 4 2 1 2 2 2 1 3 1 2 4 10 1 8 3 4 5 2 1 2 3 2 1 2 4 6 19 2 10 2 2 2 1 4 6 2 17 2 244"/><path d="M0 203h211" stroke-dasharray="0 9 2 3 12 2 3 4 2 1 15 1 7 6 4 4 2 5 2 2 4 1 2 31 2 3 2 1 2 5 2 5 2 30 2 242"/><path d="M0 204h211" stroke-dasharray="0 11 4 7 2 6 2 2 5 3 10 1 6 5 2 6 2 12 5 2 2 1 2 13 2 16 2 6 2 7 2 19 2 20 2 17 2 212"/><path d="M0 205h211" stroke-dasharray="0 7 2 23 4 2 2 1 2 1 3 5 2 7 2 5 2 4 2 2 2 5 2 7 2 34 2 1 2 10 2 4 2 6 2 25 2 234"/><path d="M0 206h211" stroke-dasharray="0 20 3 2 2 4 4 3 2 6 4 2 5 4 2 4 2 7 2 4 2 2 2 1 2 3 2 27 2 4 2 10 2 279"/><path d="M0 207h211" stroke-dasharray="0 32 2 2 6 4 2 7 2 1 3 42 2 17 2 1 2 295"/><path d="M0 208h211" stroke-dasharray="0 20 2 5 2 7 2 5 2 1 2 5 4 1 2 7 3 12 2 21 3 22 2 16 2 3 2 1 2 1 2 4 2 4 2 249"/><path d="M0 209h211" stroke-dasharray="0 16 2 8 2 2 2 8 2 6 2 7 2 8 4 47 2 27 2 273"/><path d="M0 210h211" stroke-dasharray="0 4 2 27 4 4 4 12 6 5 2 6 2 4 2 12 2 10 2 8 2 15 2 48 2 235"/></g>
<rect x="156" y="24.8" width="105.32" height="105.32" fill="none" stroke="#000" stroke-width="2.3"/>
<path d="M152.6 130.12L156 130.12" stroke="#000" stroke-width="1.6" stroke-linecap="butt"/>
<path d="M156 130.12L156 133.52" stroke="#000" stroke-width="1.6" stroke-linecap="butt"/>
<text x="145.3" y="135.52" font-size="11.6" text-anchor="end" textLength="11.2" lengthAdjust="spacingAndGlyphs" stroke="#000" stroke-width=".3">10</text>
<text x="145.5" y="128.22" font-size="9.8" text-anchor="start" stroke="#000" stroke-width=".25">0</text>
<text x="161" y="145.72" font-size="11.6" text-anchor="end" textLength="11.2" lengthAdjust="spacingAndGlyphs" stroke="#000" stroke-width=".3">10</text>
<text x="160.9" y="139.02" font-size="9.8" text-anchor="start" stroke="#000" stroke-width=".25">0</text>
<path d="M152.6 103.79L156 103.79" stroke="#000" stroke-width="1.6" stroke-linecap="butt"/>
<path d="M182.33 130.12L182.33 133.52" stroke="#000" stroke-width="1.6" stroke-linecap="butt"/>
<text x="145.3" y="109.19" font-size="11.6" text-anchor="end" textLength="11.2" lengthAdjust="spacingAndGlyphs" stroke="#000" stroke-width=".3">10</text>
<text x="145.5" y="101.89" font-size="9.8" text-anchor="start" stroke="#000" stroke-width=".25">1</text>
<text x="187.33" y="145.72" font-size="11.6" text-anchor="end" textLength="11.2" lengthAdjust="spacingAndGlyphs" stroke="#000" stroke-width=".3">10</text>
<text x="187.23" y="139.02" font-size="9.8" text-anchor="start" stroke="#000" stroke-width=".25">1</text>
<path d="M152.6 77.46L156 77.46" stroke="#000" stroke-width="1.6" stroke-linecap="butt"/>
<path d="M208.66 130.12L208.66 133.52" stroke="#000" stroke-width="1.6" stroke-linecap="butt"/>
<text x="145.3" y="82.86" font-size="11.6" text-anchor="end" textLength="11.2" lengthAdjust="spacingAndGlyphs" stroke="#000" stroke-width=".3">10</text>
<text x="145.5" y="75.56" font-size="9.8" text-anchor="start" stroke="#000" stroke-width=".25">2</text>
<text x="213.66" y="145.72" font-size="11.6" text-anchor="end" textLength="11.2" lengthAdjust="spacingAndGlyphs" stroke="#000" stroke-width=".3">10</text>
<text x="213.56" y="139.02" font-size="9.8" text-anchor="start" stroke="#000" stroke-width=".25">2</text>
<path d="M152.6 51.13L156 51.13" stroke="#000" stroke-width="1.6" stroke-linecap="butt"/>
<path d="M234.99 130.12L234.99 133.52" stroke="#000" stroke-width="1.6" stroke-linecap="butt"/>
<text x="145.3" y="56.53" font-size="11.6" text-anchor="end" textLength="11.2" lengthAdjust="spacingAndGlyphs" stroke="#000" stroke-width=".3">10</text>
<text x="145.5" y="49.23" font-size="9.8" text-anchor="start" stroke="#000" stroke-width=".25">3</text>
<text x="239.99" y="145.72" font-size="11.6" text-anchor="end" textLength="11.2" lengthAdjust="spacingAndGlyphs" stroke="#000" stroke-width=".3">10</text>
<text x="239.89" y="139.02" font-size="9.8" text-anchor="start" stroke="#000" stroke-width=".25">3</text>
<path d="M152.6 24.8L156 24.8" stroke="#000" stroke-width="1.6" stroke-linecap="butt"/>
<path d="M261.32 130.12L261.32 133.52" stroke="#000" stroke-width="1.6" stroke-linecap="butt"/>
<text x="145.3" y="30.2" font-size="11.6" text-anchor="end" textLength="11.2" lengthAdjust="spacingAndGlyphs" stroke="#000" stroke-width=".3">10</text>
<text x="145.5" y="22.9" font-size="9.8" text-anchor="start" stroke="#000" stroke-width=".25">4</text>
<text x="266.32" y="145.72" font-size="11.6" text-anchor="end" textLength="11.2" lengthAdjust="spacingAndGlyphs" stroke="#000" stroke-width=".3">10</text>
<text x="266.22" y="139.02" font-size="9.8" text-anchor="start" stroke="#000" stroke-width=".25">4</text>
<rect x="201.8" y="47.7" width="47.7" height="29.2" fill="none" stroke="#000" stroke-width="2"/>
<text x="202.3" y="42.6" font-size="14.3" text-anchor="start" stroke="#000" stroke-width=".2">0.046</text>
<text x="206.96" y="17.3" font-size="15.7" text-anchor="middle">hMplP</text>
</g>
<g>
<g transform="translate(297 25.5)" stroke="#000" stroke-width="1" fill="none" shape-rendering="crispEdges"><path d="M0 24h105" stroke-dasharray="0 4 1 205"/><path d="M0 31h105" stroke-dasharray="0 20 1 7 1 181"/><path d="M0 32h105" stroke-dasharray="0 29 2 179"/><path d="M0 33h105" stroke-dasharray="0 23 1 2 1 5 2 176"/><path d="M0 34h105" stroke-dasharray="0 23 1 7 1 178"/><path d="M0 35h105" stroke-dasharray="0 9 1 15 1 3 1 8 1 171"/><path d="M0 36h105" stroke-dasharray="0 10 1 4 2 4 1 1 1 4 1 181"/><path d="M0 37h105" stroke-dasharray="0 16 3 2 2 1 2 1 1 1 2 14 1 164"/><path d="M0 38h105" stroke-dasharray="0 8 1 2 1 2 4 2 2 1 4 1 1 1 1 4 1 174"/><path d="M0 39h105" stroke-dasharray="0 15 3 1 2 1 1 2 2 3 1 1 2 1 1 1 1 172"/><path d="M0 40h105" stroke-dasharray="0 16 1 1 4 1 3 1 1 2 3 2 3 1 1 170"/><path d="M0 41h105" stroke-dasharray="0 9 1 3 1 2 2 2 6 1 5 2 4 5 1 166"/><path d="M0 42h105" stroke-dasharray="0 7 3 1 3 1 12 1 2 1 2 2 1 1 2 17 1 153"/><path d="M0 43h105" stroke-dasharray="0 8 2 1 1 1 8 1 14 1 1 1 1 1 2 167"/><path d="M0 44h105" stroke-dasharray="0 10 4 1 3 1 2 1 1 1 8 1 4 1 2 2 2 166"/><path d="M0 45h105" stroke-dasharray="0 10 3 1 8 1 14 1 2 170"/><path d="M0 46h105" stroke-dasharray="0 8 29 1 4 168"/><path d="M0 47h105" stroke-dasharray="1 6 1 2 4 1 22 1 4 168"/><path d="M0 48h105" stroke-dasharray="0 5 1 1 2 1 30 1 1 168"/><path d="M0 49h105" stroke-dasharray="1 3 1 1 35 1 2 1 1 5 1 158"/><path d="M0 50h105" stroke-dasharray="0 4 35 1 4 3 1 162"/><path d="M0 51h105" stroke-dasharray="0 2 6 2 33 3 1 163"/><path d="M0 52h105" stroke-dasharray="0 5 2 1 1 1 32 168"/><path d="M0 53h105" stroke-dasharray="0 2 1 3 3 1 37 163"/><path d="M0 54h105" stroke-dasharray="0 3 3 1 2 1 31 1 1 3 1 163"/><path d="M0 55h105" stroke-dasharray="0 2 1 6 2 1 30 7 1 160"/><path d="M0 56h105" stroke-dasharray="0 2 1 1 1 1 2 1 29 1 5 6 1 159"/><path d="M0 57h105" stroke-dasharray="1 2 4 2 29 1 1 1 1 4 1 11 1 151"/><path d="M0 58h105" stroke-dasharray="0 2 2 1 37 4 1 163"/><path d="M0 59h105" stroke-dasharray="0 1 42 1 1 2 1 162"/><path d="M0 60h105" stroke-dasharray="0 1 42 1 1 3 1 161"/><path d="M0 61h105" stroke-dasharray="0 1 1 3 38 2 1 164"/><path d="M0 62h105" stroke-dasharray="0 5 39 1 3 15 1 146"/><path d="M0 63h105" stroke-dasharray="0 1 2 3 7 1 23 1 2 1 7 162"/><path d="M0 64h105" stroke-dasharray="1 1 1 1 39 2 1 27 1 136"/><path d="M0 65h105" stroke-dasharray="2 1 1 3 35 2 2 164"/><path d="M0 66h105" stroke-dasharray="0 1 1 1 1 2 6 1 34 163"/><path d="M0 67h105" stroke-dasharray="0 1 1 2 2 2 4 1 26 1 1 2 1 4 2 20 1 139"/><path d="M0 68h105" stroke-dasharray="2 4 1 1 38 164"/><path d="M0 69h105" stroke-dasharray="0 4 37 1 4 3 1 6 1 153"/><path d="M0 70h105" stroke-dasharray="0 2 2 1 5 1 31 3 3 1 1 19 1 18 1 121"/><path d="M0 71h105" stroke-dasharray="1 1 39 3 3 7 1 1 1 10 1 142"/><path d="M0 72h105" stroke-dasharray="0 2 1 1 38 2 1 2 1 1 1 9 1 9 1 9 1 130"/><path d="M0 73h105" stroke-dasharray="0 1 1 1 42 2 1 162"/><path d="M0 74h105" stroke-dasharray="0 3 1 1 41 2 1 6 1 11 1 11 1 130"/><path d="M0 75h105" stroke-dasharray="0 1 4 1 38 3 1 162"/><path d="M0 76h105" stroke-dasharray="0 1 1 2 1 2 34 1 1 1 1 4 1 4 1 10 1 144"/><path d="M0 77h105" stroke-dasharray="1 2 2 1 37 4 1 15 1 146"/><path d="M0 78h105" stroke-dasharray="0 2 2 2 40 4 1 159"/><path d="M0 79h105" stroke-dasharray="1 1 1 4 40 1 1 3 2 24 1 131"/><path d="M0 80h105" stroke-dasharray="0 4 1 1 5 1 33 2 2 39 1 121"/><path d="M0 81h105" stroke-dasharray="0 5 2 2 40 1 1 159"/><path d="M0 82h105" stroke-dasharray="0 4 1 2 34 1 1 1 1 2 1 23 1 138"/><path d="M0 83h105" stroke-dasharray="0 2 1 1 34 1 2 1 5 163"/><path d="M0 84h105" stroke-dasharray="0 1 1 1 1 1 1 2 36 2 1 2 1 160"/><path d="M0 85h105" stroke-dasharray="0 1 1 3 9 1 29 2 1 6 1 12 1 4 1 138"/><path d="M0 86h105" stroke-dasharray="0 5 1 1 33 1 3 4 1 161"/><path d="M0 87h105" stroke-dasharray="0 2 1 3 34 3 2 2 1 7 1 154"/><path d="M0 88h105" stroke-dasharray="0 4 1 1 1 2 2 3 23 3 3 2 1 32 1 131"/><path d="M0 89h105" stroke-dasharray="0 3 2 2 4 1 1 1 24 1 2 3 1 5 1 13 1 145"/><path d="M0 90h105" stroke-dasharray="0 5 2 3 31 3 2 2 1 161"/><path d="M0 91h105" stroke-dasharray="0 11 27 2 2 5 1 162"/><path d="M0 92h105" stroke-dasharray="0 2 1 1 3 1 25 1 7 3 1 165"/><path d="M0 93h105" stroke-dasharray="0 10 4 1 17 2 1 1 4 1 1 1 1 166"/><path d="M0 94h105" stroke-dasharray="1 5 2 2 3 1 3 1 3 1 17 22 1 148"/><path d="M0 95h105" stroke-dasharray="0 8 1 2 4 1 1 1 1 2 9 1 3 28 1 1 1 145"/><path d="M0 96h105" stroke-dasharray="0 12 2 2 4 1 6 1 4 1 2 175"/><path d="M0 97h105" stroke-dasharray="0 11 2 1 1 1 4 1 5 1 6 5 3 32 1 136"/><path d="M0 98h105" stroke-dasharray="0 15 1 2 3 2 5 1 3 178"/><path d="M0 99h105" stroke-dasharray="0 16 3 2 4 5 1 6 1 172"/><path d="M0 100h105" stroke-dasharray="0 15 4 6 5 2 1 8 1 168"/><path d="M0 101h105" stroke-dasharray="0 9 1 3 1 3 1 7 1 14 1 169"/><path d="M0 102h105" stroke-dasharray="0 17 1 1 1 1 1 8 1 179"/><path d="M0 103h105" stroke-dasharray="0 16 1 4 1 8 1 179"/><path d="M0 104h105" stroke-dasharray="0 29 1 180"/></g><g transform="translate(297 25.25) scale(0.5)" stroke="#000" stroke-width="1" fill="none"><path d="M0 33h211" stroke-dasharray="0 77 2 343"/><path d="M0 36h211" stroke-dasharray="0 12 2 65 2 341"/><path d="M0 38h211" stroke-dasharray="0 12 2 408"/><path d="M0 39h211" stroke-dasharray="0 100 2 320"/><path d="M0 41h211" stroke-dasharray="0 12 2 26 2 380"/><path d="M0 42h211" stroke-dasharray="0 26 2 14 2 378"/><path d="M0 44h211" stroke-dasharray="0 75 2 345"/><path d="M0 45h211" stroke-dasharray="0 30 2 18 2 10 2 358"/><path d="M0 47h211" stroke-dasharray="0 9 4 5 2 402"/><path d="M0 48h211" stroke-dasharray="0 8 2 7 2 9 2 57 2 333"/><path d="M0 49h211" stroke-dasharray="0 7 3 8 2 11 2 5 2 10 2 7 2 361"/><path d="M0 50h211" stroke-dasharray="0 38 2 382"/><path d="M0 51h211" stroke-dasharray="0 10 2 2 2 29 4 6 2 10 2 353"/><path d="M0 52h211" stroke-dasharray="0 27 3 31 2 12 2 345"/><path d="M0 53h211" stroke-dasharray="0 31 2 2 2 385"/><path d="M0 54h211" stroke-dasharray="0 17 2 14 2 3 2 1 2 7 2 14 2 17 2 335"/><path d="M0 55h211" stroke-dasharray="0 17 2 41 2 360"/><path d="M0 56h211" stroke-dasharray="0 23 2 2 2 9 2 12 5 1 2 11 2 349"/><path d="M0 57h211" stroke-dasharray="0 4 2 1 2 10 2 13 3 20 2 2 2 359"/><path d="M0 58h211" stroke-dasharray="0 10 2 45 2 11 3 349"/><path d="M0 59h211" stroke-dasharray="0 19 3 3 2 4 3 21 2 3 2 360"/><path d="M0 60h211" stroke-dasharray="0 7 2 8 2 2 2 3 3 5 2 11 2 37 3 333"/><path d="M0 61h211" stroke-dasharray="0 14 2 7 2 4 3 9 4 1 2 5 2 3 3 1 2 6 2 5 3 9 2 331"/><path d="M0 62h211" stroke-dasharray="0 11 2 23 3 1 2 7 2 5 2 7 2 2 2 3 2 10 2 15 2 53 2 262"/><path d="M0 63h211" stroke-dasharray="0 21 2 4 2 2 2 7 2 6 2 2 3 1 2 5 2 4 2 52 2 297"/><path d="M0 64h211" stroke-dasharray="0 2 2 31 3 11 2 6 5 13 2 46 2 47 2 248"/><path d="M0 65h211" stroke-dasharray="0 5 2 4 2 1 3 18 2 1 4 7 2 2 3 2 4 1 2 10 2 9 3 333"/><path d="M0 66h211" stroke-dasharray="0 2 2 9 2 5 2 6 2 3 4 9 2 1 2 1 2 10 4 3 3 348"/><path d="M0 67h211" stroke-dasharray="0 4 4 3 6 14 2 5 2 3 2 1 2 2 4 3 11 7 7 17 2 15 2 1 2 18 2 3 2 276"/><path d="M0 68h211" stroke-dasharray="0 5 4 11 2 1 3 6 3 3 2 6 3 3 4 5 4 3 3 1 2 4 2 2 2 9 2 327"/><path d="M0 69h211" stroke-dasharray="0 13 3 1 2 4 2 4 4 7 2 2 8 5 2 3 2 9 2 1 2 8 2 334"/><path d="M0 70h211" stroke-dasharray="0 3 2 5 2 3 2 1 2 6 2 5 7 4 2 1 5 5 4 8 2 2 6 3 3 3 2 332"/><path d="M0 71h211" stroke-dasharray="0 5 2 5 2 2 4 2 2 9 2 2 2 4 2 4 3 6 5 2 2 1 3 5 2 5 4 335"/><path d="M0 72h211" stroke-dasharray="0 15 2 2 4 4 2 1 6 5 7 8 6 8 3 1 5 1 2 2 2 11 2 35 2 286"/><path d="M0 73h211" stroke-dasharray="0 10 2 8 2 4 8 1 3 1 6 1 5 2 5 1 2 1 8 3 2 8 2 41 2 294"/><path d="M0 74h211" stroke-dasharray="0 1 3 20 4 3 7 4 4 1 5 1 12 3 2 10 3 7 2 23 3 304"/><path d="M0 75h211" stroke-dasharray="0 8 2 1 3 3 3 3 2 3 10 4 10 1 4 1 4 1 2 1 2 2 5 3 2 10 3 31 2 2 2 29 2 261"/><path d="M0 76h211" stroke-dasharray="0 8 2 6 3 2 5 2 10 2 15 1 2 2 2 1 5 2 3 2 2 8 2 2 4 27 2 300"/><path d="M0 77h211" stroke-dasharray="2 3 2 9 2 2 4 2 10 4 4 1 14 1 4 3 2 1 4 1 3 4 2 3 2 7 2 13 2 18 2 289"/><path d="M0 78h211" stroke-dasharray="0 9 2 15 11 1 20 2 2 1 6 1 7 2 2 5 2 2 2 2 2 326"/><path d="M0 79h211" stroke-dasharray="2 5 2 1 3 2 6 2 3 4 12 1 3 3 6 2 15 2 4 5 4 4 2 329"/><path d="M0 80h211" stroke-dasharray="0 5 5 13 4 2 5 1 9 2 7 1 2 1 11 1 7 2 3 2 2 5 4 328"/><path d="M0 81h211" stroke-dasharray="0 2 4 21 4 1 2 1 23 1 7 1 15 11 2 8 2 5 2 20 2 288"/><path d="M0 82h211" stroke-dasharray="0 12 4 2 2 1 2 2 6 1 4 1 2 1 25 2 9 3 2 1 3 1 2 2 2 2 2 4 2 320"/><path d="M0 83h211" stroke-dasharray="0 3 5 1 2 4 2 1 4 2 4 1 2 1 6 2 13 1 12 1 9 10 2 3 2 3 4 10 4 4 2 1 2 299"/><path d="M0 84h211" stroke-dasharray="0 1 2 6 11 2 7 1 31 1 4 4 9 6 2 3 2 2 4 14 2 20 2 13 2 271"/><path d="M0 85h211" stroke-dasharray="0 4 7 2 7 2 7 1 25 1 5 1 6 2 3 1 4 2 5 2 4 17 2 2 2 4 2 302"/><path d="M0 86h211" stroke-dasharray="0 3 2 4 4 1 7 1 21 1 29 1 13 2 3 3 4 1 5 317"/><path d="M0 87h211" stroke-dasharray="0 2 4 3 2 5 8 1 18 1 33 1 2 1 5 1 2 8 2 12 2 34 2 273"/><path d="M0 88h211" stroke-dasharray="0 9 2 1 3 4 9 1 14 1 2 1 17 1 24 5 2 4 2 7 2 311"/><path d="M0 89h211" stroke-dasharray="0 6 3 4 3 3 9 1 7 1 37 2 5 2 5 10 2 7 2 4 6 303"/><path d="M0 90h211" stroke-dasharray="0 6 2 3 4 2 2 1 24 1 29 1 5 2 2 1 2 3 2 1 2 3 2 2 2 19 2 40 2 255"/><path d="M0 91h211" stroke-dasharray="5 5 2 1 6 1 6 2 46 1 5 3 2 1 4 1 2 6 2 10 2 55 2 252"/><path d="M0 92h211" stroke-dasharray="0 4 2 1 2 1 3 1 60 1 10 1 3 1 2 6 2 15 2 8 2 295"/><path d="M0 93h211" stroke-dasharray="0 1 2 2 4 6 59 2 10 1 3 7 2 8 2 5 2 1 2 22 2 279"/><path d="M0 94h211" stroke-dasharray="2 3 2 2 2 2 4 1 10 1 45 1 9 2 3 5 5 4 2 12 2 5 2 296"/><path d="M0 95h211" stroke-dasharray="4 1 8 1 4 1 67 2 2 1 2 10 4 23 2 4 2 284"/><path d="M0 96h211" stroke-dasharray="0 1 3 5 4 1 4 1 61 2 3 2 2 15 2 9 2 22 2 281"/><path d="M0 97h211" stroke-dasharray="0 1 2 1 3 2 3 1 67 2 9 1 2 5 2 22 2 9 7 41 2 238"/><path d="M0 98h211" stroke-dasharray="7 1 3 1 71 1 9 1 4 4 2 7 2 1 2 1 2 17 2 9 2 6 2 265"/><path d="M0 99h211" stroke-dasharray="2 6 2 1 78 1 4 8 2 8 2 9 2 45 4 248"/><path d="M0 100h211" stroke-dasharray="0 2 86 1 4 1 2 16 2 1 2 3 2 8 2 9 2 279"/><path d="M0 101h211" stroke-dasharray="0 3 2 3 71 1 8 1 2 3 2 6 2 39 2 277"/><path d="M0 102h211" stroke-dasharray="0 3 14 2 68 4 6 1 2 3 2 10 2 1 3 9 2 290"/><path d="M0 103h211" stroke-dasharray="0 1 17 1 76 2 2 2 2 5 2 1 3 25 2 16 2 26 2 235"/><path d="M0 104h211" stroke-dasharray="0 4 2 2 10 2 65 4 6 54 2 271"/><path d="M0 105h211" stroke-dasharray="0 1 3 6 4 1 73 1 2 2 3 20 2 304"/><path d="M0 106h211" stroke-dasharray="6 5 87 5 2 8 2 19 2 4 2 280"/><path d="M0 107h211" stroke-dasharray="0 1 2 1 5 2 7 2 75 3 2 2 2 7 4 40 2 265"/><path d="M0 108h211" stroke-dasharray="0 6 7 1 4 1 76 4 2 14 4 5 2 296"/><path d="M0 109h211" stroke-dasharray="0 2 11 1 69 1 3 2 2 1 4 1 2 14 2 4 2 21 2 1 3 52 2 220"/><path d="M0 110h211" stroke-dasharray="0 4 5 2 2 3 7 1 62 11 4 2 2 7 2 2 2 2 2 10 2 57 2 229"/><path d="M0 111h211" stroke-dasharray="0 1 2 1 2 5 6 1 67 3 2 8 2 6 3 41 2 270"/><path d="M0 112h211" stroke-dasharray="0 3 3 1 3 2 64 2 12 5 2 3 2 3 2 36 2 277"/><path d="M0 113h211" stroke-dasharray="0 3 8 1 4 1 59 1 12 4 4 3 3 1 2 15 2 299"/><path d="M0 114h211" stroke-dasharray="2 3 10 2 59 1 9 1 2 3 2 4 4 3 2 2 2 5 2 45 2 12 2 243"/><path d="M0 115h211" stroke-dasharray="76 1 3 2 3 5 4 1 4 2 2 3 2 5 2 1 2 15 2 20 2 265"/><path d="M0 116h211" stroke-dasharray="2 1 81 5 5 3 3 5 2 2 2 13 2 12 2 6 2 274"/><path d="M0 117h211" stroke-dasharray="0 4 4 1 78 2 2 1 4 7 2 4 2 19 2 9 2 48 2 229"/><path d="M0 118h211" stroke-dasharray="87 1 3 3 7 1 3 3 2 5 2 22 2 5 2 7 2 265"/><path d="M0 119h211" stroke-dasharray="0 2 84 2 4 2 2 13 3 9 3 32 2 264"/><path d="M0 120h211" stroke-dasharray="0 2 85 1 13 6 2 4 2 16 2 17 2 5 2 263"/><path d="M0 121h211" stroke-dasharray="0 1 86 1 2 1 2 2 4 6 3 2 2 4 2 1 2 11 2 8 2 2 4 4 2 4 2 4 2 38 2 214"/><path d="M0 122h211" stroke-dasharray="87 3 4 3 5 1 2 7 2 1 2 17 2 286"/><path d="M0 123h211" stroke-dasharray="0 2 3 5 78 2 2 4 2 7 2 2 2 6 2 6 2 12 3 11 2 267"/><path d="M0 124h211" stroke-dasharray="0 1 4 1 2 2 78 2 7 6 2 7 4 3 2 5 4 5 2 1 2 3 2 23 2 30 2 220"/><path d="M0 125h211" stroke-dasharray="0 1 2 2 2 3 78 2 10 8 3 6 2 7 3 5 5 12 2 269"/><path d="M0 126h211" stroke-dasharray="0 2 7 2 15 1 53 1 16 3 2 20 2 3 2 42 2 249"/><path d="M0 127h211" stroke-dasharray="0 1 6 1 67 1 20 5 2 1 2 1 4 7 2 4 5 23 2 4 2 41 2 219"/><path d="M0 128h211" stroke-dasharray="2 1 4 1 87 18 2 2 2 8 2 2 4 11 2 7 2 265"/><path d="M0 129h211" stroke-dasharray="6 2 78 3 3 2 2 2 2 2 2 3 3 1 2 2 2 5 2 3 2 9 2 6 2 6 2 266"/><path d="M0 130h211" stroke-dasharray="12 1 73 1 7 2 3 1 2 4 4 1 3 16 2 9 2 25 3 251"/><path d="M0 131h211" stroke-dasharray="4 2 2 4 72 2 7 5 2 3 2 8 2 12 2 2 3 1 2 3 3 22 2 255"/><path d="M0 132h211" stroke-dasharray="0 1 4 1 2 3 83 1 6 1 2 2 4 4 2 3 2 8 2 15 2 2 2 6 2 14 2 3 2 28 2 211"/><path d="M0 133h211" stroke-dasharray="0 2 3 1 18 1 69 1 2 2 2 23 3 5 2 3 2 2 2 10 2 267"/><path d="M0 134h211" stroke-dasharray="0 2 2 2 6 3 9 1 65 2 10 4 2 1 2 18 2 2 2 5 3 2 2 7 2 15 3 248"/><path d="M0 135h211" stroke-dasharray="0 1 6 1 6 1 63 1 4 2 4 6 5 2 2 19 3 6 2 2 6 14 2 26 2 236"/><path d="M0 136h211" stroke-dasharray="7 1 6 1 79 6 2 1 2 1 2 3 2 6 2 6 2 13 3 1 2 4 2 16 3 249"/><path d="M0 137h211" stroke-dasharray="4 5 2 1 81 1 7 7 2 1 2 4 3 4 2 2 4 6 3 14 2 5 2 29 2 227"/><path d="M0 138h211" stroke-dasharray="0 1 2 5 74 1 10 2 7 7 5 3 2 8 2 4 2 2 2 4 2 4 2 3 2 9 4 10 2 14 3 224"/><path d="M0 139h211" stroke-dasharray="7 1 87 3 2 2 5 5 5 8 2 7 3 1 2 25 2 255"/><path d="M0 140h211" stroke-dasharray="2 2 5 1 10 1 66 2 8 1 2 7 2 15 3 8 2 1 4 4 5 9 2 6 2 6 2 244"/><path d="M0 141h211" stroke-dasharray="0 3 81 2 14 2 4 2 4 10 2 7 2 2 2 1 2 4 2 5 2 4 3 16 2 244"/><path d="M0 142h211" stroke-dasharray="82 4 8 9 2 3 2 1 5 16 4 3 2 6 3 3 2 2 2 11 4 248"/><path d="M0 143h211" stroke-dasharray="2 1 79 1 2 2 10 6 2 1 5 1 2 5 4 7 2 2 4 4 2 8 2 1 2 9 2 3 2 6 2 241"/><path d="M0 144h211" stroke-dasharray="3 1 2 1 78 2 5 1 4 1 5 1 2 4 2 6 6 2 4 1 2 1 2 2 2 7 2 7 4 16 2 6 2 12 2 222"/><path d="M0 145h211" stroke-dasharray="0 2 88 1 6 1 3 2 2 1 2 4 2 2 4 15 2 1 5 15 2 44 2 216"/><path d="M0 146h211" stroke-dasharray="0 2 97 1 2 5 2 3 2 4 2 3 2 4 2 14 2 1 2 2 2 37 4 227"/><path d="M0 147h211" stroke-dasharray="0 2 3 1 85 2 3 10 4 4 2 1 2 6 4 5 3 8 2 2 2 11 2 3 2 1 2 5 2 243"/><path d="M0 148h211" stroke-dasharray="0 1 3 2 88 1 11 1 5 1 2 1 5 13 2 22 2 26 2 234"/><path d="M0 149h211" stroke-dasharray="0 6 2 1 84 3 2 3 2 3 2 2 4 20 2 2 2 7 2 1 2 6 2 15 2 245"/><path d="M0 150h211" stroke-dasharray="0 2 87 1 2 1 3 3 2 5 3 2 4 3 3 6 2 4 2 6 4 6 5 6 2 10 2 10 2 234"/><path d="M0 151h211" stroke-dasharray="0 1 9 2 77 3 4 1 6 2 2 3 3 1 2 3 2 3 2 3 2 3 4 3 2 4 4 5 2 3 2 5 2 252"/><path d="M0 152h211" stroke-dasharray="0 2 2 1 2 1 3 1 75 1 2 4 2 1 4 3 2 2 3 3 2 7 2 5 3 4 2 25 4 33 2 219"/><path d="M0 153h211" stroke-dasharray="0 2 10 1 70 1 3 1 3 1 2 2 7 3 4 20 4 15 4 8 2 8 2 2 2 245"/><path d="M0 154h211" stroke-dasharray="2 1 84 2 2 2 3 1 2 1 2 5 3 14 5 5 2 2 2 7 2 1 2 270"/><path d="M0 155h211" stroke-dasharray="5 1 4 2 80 1 4 5 3 1 2 4 3 11 2 8 2 2 2 28 2 1 2 247"/><path d="M0 156h211" stroke-dasharray="0 1 8 3 83 5 5 3 2 7 9 8 2 14 4 11 4 4 2 247"/><path d="M0 157h211" stroke-dasharray="2 1 8 1 81 1 2 4 3 2 2 7 2 10 3 1 4 14 2 4 2 3 2 261"/><path d="M0 158h211" stroke-dasharray="2 2 2 1 4 3 84 5 8 7 4 1 2 26 2 1 4 264"/><path d="M0 159h211" stroke-dasharray="2 2 4 1 3 2 81 1 2 2 3 1 4 5 2 4 2 4 2 3 2 3 4 9 2 3 2 1 2 3 5 2 2 8 4 19 2 219"/><path d="M0 160h211" stroke-dasharray="0 1 2 1 2 2 14 1 69 1 6 1 5 2 2 5 3 14 2 4 5 3 2 13 2 9 2 3 2 10 2 232"/><path d="M0 161h211" stroke-dasharray="0 1 4 3 2 1 79 1 7 1 2 2 2 4 2 11 3 2 2 5 2 7 4 1 2 5 2 4 2 12 3 4 2 238"/><path d="M0 162h211" stroke-dasharray="0 7 2 1 89 1 7 10 2 20 3 8 2 11 2 257"/><path d="M0 163h211" stroke-dasharray="0 1 4 1 3 1 5 2 86 2 3 1 2 4 2 1 5 2 2 1 5 11 3 7 2 31 2 233"/><path d="M0 164h211" stroke-dasharray="0 3 8 1 75 1 3 2 5 1 2 2 2 6 2 6 3 1 2 9 2 1 2 3 2 4 2 4 2 6 3 2 2 40 2 211"/><path d="M0 165h211" stroke-dasharray="0 1 2 5 4 2 69 1 7 3 2 3 2 1 2 7 3 3 2 2 4 7 2 7 6 3 2 270"/><path d="M0 166h211" stroke-dasharray="0 4 79 1 11 15 2 10 2 4 2 292"/><path d="M0 167h211" stroke-dasharray="0 4 2 1 69 1 19 2 2 4 2 1 3 3 2 5 3 11 2 8 2 17 3 4 4 248"/><path d="M0 168h211" stroke-dasharray="0 1 3 2 82 1 5 3 3 1 2 1 2 3 2 1 2 2 3 1 2 1 2 7 2 6 2 3 2 10 2 16 2 245"/><path d="M0 169h211" stroke-dasharray="0 1 7 2 3 2 73 3 3 3 3 3 2 3 2 1 2 4 2 2 2 7 2 6 2 1 3 15 2 18 2 241"/><path d="M0 170h211" stroke-dasharray="0 2 2 6 19 1 59 1 5 2 2 6 4 5 2 6 6 3 6 5 2 3 2 2 3 9 2 7 2 248"/><path d="M0 171h211" stroke-dasharray="0 2 2 5 80 2 5 3 4 3 3 18 2 3 2 5 2 1 2 2 2 6 2 9 2 1 2 25 2 225"/><path d="M0 172h211" stroke-dasharray="0 7 2 1 3 1 76 1 2 1 4 7 2 1 2 3 2 4 2 7 2 13 2 6 2 4 2 263"/><path d="M0 173h211" stroke-dasharray="0 6 2 2 2 1 67 1 7 1 2 1 2 2 2 6 2 3 4 2 2 14 2 4 2 7 3 8 2 14 2 6 2 7 2 230"/><path d="M0 174h211" stroke-dasharray="0 4 2 3 71 6 6 2 2 5 11 10 2 7 3 5 2 13 2 2 4 5 2 14 2 237"/><path d="M0 175h211" stroke-dasharray="0 3 3 1 4 1 71 2 6 3 4 1 4 4 2 1 2 7 2 9 2 9 2 4 2 12 3 2 2 4 2 5 2 241"/><path d="M0 176h211" stroke-dasharray="0 4 2 1 4 1 2 1 62 2 8 2 5 3 3 2 2 8 2 12 2 2 4 2 2 4 3 2 2 7 2 14 2 9 3 236"/><path d="M0 177h211" stroke-dasharray="0 5 12 1 4 5 48 2 15 13 5 27 2 5 2 3 2 4 3 15 2 247"/><path d="M0 178h211" stroke-dasharray="4 2 6 1 9 2 2 1 49 1 6 2 7 3 9 24 2 3 2 9 2 1 2 10 2 7 2 4 2 5 2 3 2 234"/><path d="M0 179h211" stroke-dasharray="0 3 7 4 8 1 3 2 55 2 2 1 2 3 2 4 3 19 3 1 2 1 5 3 2 1 3 5 4 10 3 258"/><path d="M0 180h211" stroke-dasharray="0 4 2 1 9 1 66 2 2 1 4 1 5 4 2 2 2 15 2 8 2 24 2 261"/><path d="M0 181h211" stroke-dasharray="2 7 6 1 2 1 65 1 2 1 4 4 2 27 2 24 4 9 2 7 3 29 2 215"/><path d="M0 182h211" stroke-dasharray="0 4 2 2 2 4 4 4 57 1 4 1 2 1 4 2 2 1 4 7 2 1 2 8 2 6 3 4 2 2 2 4 2 274"/><path d="M0 183h211" stroke-dasharray="0 5 3 1 4 2 2 3 56 1 11 6 2 16 4 3 2 7 2 2 2 3 2 8 2 4 2 15 2 4 2 244"/><path d="M0 184h211" stroke-dasharray="0 4 2 1 7 1 67 1 8 4 2 10 2 2 2 15 2 2 3 3 2 4 4 1 2 6 2 1 2 1 2 21 2 234"/><path d="M0 185h211" stroke-dasharray="0 4 2 2 6 2 50 1 15 1 2 3 6 10 2 3 2 3 3 4 5 29 2 17 2 246"/><path d="M0 186h211" stroke-dasharray="0 1 5 2 2 5 2 3 9 1 36 2 3 1 8 2 3 1 2 34 2 7 2 2 2 4 2 9 2 5 2 8 3 250"/><path d="M0 187h211" stroke-dasharray="0 7 2 1 55 1 19 1 6 17 2 6 3 5 2 3 2 6 2 11 2 13 2 254"/><path d="M0 188h211" stroke-dasharray="2 4 2 4 31 1 35 2 3 3 2 10 2 1 3 5 2 10 2 18 2 10 2 1 2 15 2 21 2 223"/><path d="M0 189h211" stroke-dasharray="2 8 7 2 7 1 7 1 48 1 2 3 4 12 3 1 2 8 2 1 2 29 2 2 3 262"/><path d="M0 190h211" stroke-dasharray="0 6 2 2 4 1 19 1 4 3 26 1 2 2 2 2 6 1 3 2 2 4 2 27 2 2 4 9 2 6 2 35 2 234"/><path d="M0 191h211" stroke-dasharray="0 16 2 3 10 1 9 1 18 1 9 1 6 4 3 2 3 35 2 1 4 2 4 6 2 11 2 264"/><path d="M0 192h211" stroke-dasharray="0 6 3 1 2 2 2 5 8 3 9 1 13 1 14 1 2 2 2 4 2 1 2 3 3 1 4 14 2 309"/><path d="M0 193h211" stroke-dasharray="0 7 2 9 4 1 7 2 23 1 9 1 4 6 2 3 2 2 2 14 2 9 3 2 2 11 2 9 2 13 2 12 2 3 2 245"/><path d="M0 194h211" stroke-dasharray="0 3 2 14 11 1 9 1 11 1 13 2 3 1 3 1 10 21 2 24 2 5 2 4 2 3 2 269"/><path d="M0 195h211" stroke-dasharray="0 6 2 6 3 1 3 1 4 1 3 1 35 3 2 5 6 33 3 16 3 6 5 274"/><path d="M0 196h211" stroke-dasharray="0 14 3 10 6 3 20 1 8 2 6 6 2 13 3 7 2 17 2 19 4 2 2 4 2 19 2 243"/><path d="M0 197h211" stroke-dasharray="0 15 4 2 2 2 4 1 3 2 7 1 2 1 22 4 2 5 5 18 2 53 2 3 2 258"/><path d="M0 198h211" stroke-dasharray="0 4 2 2 2 4 2 7 2 5 8 3 12 1 9 2 5 1 2 1 6 36 4 7 3 30 2 260"/><path d="M0 199h211" stroke-dasharray="0 13 2 10 2 4 19 1 2 2 2 3 6 3 3 2 2 5 2 2 2 7 2 17 2 2 2 2 2 21 2 17 2 8 2 247"/><path d="M0 200h211" stroke-dasharray="0 6 4 15 2 1 17 4 11 3 3 1 6 3 2 3 4 4 2 31 2 298"/><path d="M0 201h211" stroke-dasharray="0 1 2 7 2 1 3 3 4 1 2 3 10 5 16 1 8 4 4 5 2 6 3 11 2 11 6 2 2 13 2 11 3 266"/><path d="M0 202h211" stroke-dasharray="0 6 2 2 2 2 2 2 2 5 5 3 6 2 3 3 12 1 4 4 3 8 4 10 2 8 2 8 2 1 2 37 2 265"/><path d="M0 203h211" stroke-dasharray="0 18 4 4 2 6 2 3 4 7 3 2 2 1 2 1 2 1 5 5 2 1 2 1 2 1 2 56 2 9 2 268"/><path d="M0 204h211" stroke-dasharray="0 3 2 7 2 2 2 10 2 4 10 5 5 2 2 1 3 4 2 2 2 11 2 47 2 288"/><path d="M0 205h211" stroke-dasharray="0 19 2 3 2 8 2 2 3 1 2 3 4 9 2 6 2 24 2 23 2 50 2 249"/><path d="M0 206h211" stroke-dasharray="0 13 2 12 2 1 4 1 4 1 5 2 2 3 2 6 3 6 3 12 2 3 2 1 2 13 2 1 2 19 2 3 2 30 2 252"/><path d="M0 207h211" stroke-dasharray="0 11 2 1 2 16 2 8 4 4 3 7 3 2 2 34 2 14 4 9 2 24 2 17 2 245"/><path d="M0 208h211" stroke-dasharray="0 22 2 3 2 13 2 6 2 4 6 7 2 2 2 1 2 21 2 16 2 6 2 9 2 4 2 12 3 263"/><path d="M0 209h211" stroke-dasharray="0 6 2 16 2 8 2 2 2 1 2 4 2 9 2 2 2 1 4 105 2 246"/><path d="M0 210h211" stroke-dasharray="0 39 2 13 2 1 3 11 2 2 2 18 2 23 2 56 2 242"/></g>
<rect x="296.9" y="24.8" width="105.32" height="105.32" fill="none" stroke="#000" stroke-width="2.3"/>
<path d="M293.5 130.12L296.9 130.12" stroke="#000" stroke-width="1.6" stroke-linecap="butt"/>
<path d="M296.9 130.12L296.9 133.52" stroke="#000" stroke-width="1.6" stroke-linecap="butt"/>
<text x="286.2" y="135.52" font-size="11.6" text-anchor="end" textLength="11.2" lengthAdjust="spacingAndGlyphs" stroke="#000" stroke-width=".3">10</text>
<text x="286.4" y="128.22" font-size="9.8" text-anchor="start" stroke="#000" stroke-width=".25">0</text>
<text x="301.9" y="145.72" font-size="11.6" text-anchor="end" textLength="11.2" lengthAdjust="spacingAndGlyphs" stroke="#000" stroke-width=".3">10</text>
<text x="301.8" y="139.02" font-size="9.8" text-anchor="start" stroke="#000" stroke-width=".25">0</text>
<path d="M293.5 103.79L296.9 103.79" stroke="#000" stroke-width="1.6" stroke-linecap="butt"/>
<path d="M323.23 130.12L323.23 133.52" stroke="#000" stroke-width="1.6" stroke-linecap="butt"/>
<text x="286.2" y="109.19" font-size="11.6" text-anchor="end" textLength="11.2" lengthAdjust="spacingAndGlyphs" stroke="#000" stroke-width=".3">10</text>
<text x="286.4" y="101.89" font-size="9.8" text-anchor="start" stroke="#000" stroke-width=".25">1</text>
<text x="328.23" y="145.72" font-size="11.6" text-anchor="end" textLength="11.2" lengthAdjust="spacingAndGlyphs" stroke="#000" stroke-width=".3">10</text>
<text x="328.13" y="139.02" font-size="9.8" text-anchor="start" stroke="#000" stroke-width=".25">1</text>
<path d="M293.5 77.46L296.9 77.46" stroke="#000" stroke-width="1.6" stroke-linecap="butt"/>
<path d="M349.56 130.12L349.56 133.52" stroke="#000" stroke-width="1.6" stroke-linecap="butt"/>
<text x="286.2" y="82.86" font-size="11.6" text-anchor="end" textLength="11.2" lengthAdjust="spacingAndGlyphs" stroke="#000" stroke-width=".3">10</text>
<text x="286.4" y="75.56" font-size="9.8" text-anchor="start" stroke="#000" stroke-width=".25">2</text>
<text x="354.56" y="145.72" font-size="11.6" text-anchor="end" textLength="11.2" lengthAdjust="spacingAndGlyphs" stroke="#000" stroke-width=".3">10</text>
<text x="354.46" y="139.02" font-size="9.8" text-anchor="start" stroke="#000" stroke-width=".25">2</text>
<path d="M293.5 51.13L296.9 51.13" stroke="#000" stroke-width="1.6" stroke-linecap="butt"/>
<path d="M375.89 130.12L375.89 133.52" stroke="#000" stroke-width="1.6" stroke-linecap="butt"/>
<text x="286.2" y="56.53" font-size="11.6" text-anchor="end" textLength="11.2" lengthAdjust="spacingAndGlyphs" stroke="#000" stroke-width=".3">10</text>
<text x="286.4" y="49.23" font-size="9.8" text-anchor="start" stroke="#000" stroke-width=".25">3</text>
<text x="380.89" y="145.72" font-size="11.6" text-anchor="end" textLength="11.2" lengthAdjust="spacingAndGlyphs" stroke="#000" stroke-width=".3">10</text>
<text x="380.79" y="139.02" font-size="9.8" text-anchor="start" stroke="#000" stroke-width=".25">3</text>
<path d="M293.5 24.8L296.9 24.8" stroke="#000" stroke-width="1.6" stroke-linecap="butt"/>
<path d="M402.22 130.12L402.22 133.52" stroke="#000" stroke-width="1.6" stroke-linecap="butt"/>
<text x="286.2" y="30.2" font-size="11.6" text-anchor="end" textLength="11.2" lengthAdjust="spacingAndGlyphs" stroke="#000" stroke-width=".3">10</text>
<text x="286.4" y="22.9" font-size="9.8" text-anchor="start" stroke="#000" stroke-width=".25">4</text>
<text x="407.22" y="145.72" font-size="11.6" text-anchor="end" textLength="11.2" lengthAdjust="spacingAndGlyphs" stroke="#000" stroke-width=".3">10</text>
<text x="407.12" y="139.02" font-size="9.8" text-anchor="start" stroke="#000" stroke-width=".25">4</text>
<rect x="341.9" y="47.7" width="47.2" height="29.2" fill="none" stroke="#000" stroke-width="2"/>
<text x="343.2" y="42.6" font-size="14.3" text-anchor="start" stroke="#000" stroke-width=".2">0.023</text>
<text x="349.26" y="17.3" font-size="15.7" text-anchor="middle">mMplP</text>
</g>
<g>
<g transform="translate(83 190.5)" stroke="#000" stroke-width="1" fill="none" shape-rendering="crispEdges"><path d="M0 29h105" stroke-dasharray="0 25 1 184"/><path d="M0 31h105" stroke-dasharray="0 61 1 148"/><path d="M0 32h105" stroke-dasharray="0 17 1 6 1 14 1 5 1 164"/><path d="M0 33h105" stroke-dasharray="0 17 2 6 1 2 1 38 1 142"/><path d="M0 34h105" stroke-dasharray="0 10 1 15 1 2 1 2 1 13 1 163"/><path d="M0 35h105" stroke-dasharray="0 23 1 1 1 5 1 2 1 1 1 9 1 1 1 161"/><path d="M0 36h105" stroke-dasharray="0 18 1 4 1 1 1 2 3 15 1 1 1 3 1 13 2 142"/><path d="M0 37h105" stroke-dasharray="0 13 2 8 1 2 3 2 1 23 1 6 1 3 1 8 1 134"/><path d="M0 38h105" stroke-dasharray="0 10 1 9 3 1 1 1 1 4 2 3 1 11 1 4 1 6 1 6 1 142"/><path d="M0 39h105" stroke-dasharray="0 15 2 2 1 2 6 1 1 1 1 1 1 4 1 15 1 6 1 16 1 131"/><path d="M0 40h105" stroke-dasharray="0 5 1 2 2 3 2 2 3 1 2 1 3 2 1 2 2 3 1 3 1 2 1 16 1 148"/><path d="M0 41h105" stroke-dasharray="0 9 4 1 3 2 1 2 8 2 2 10 1 11 1 13 1 3 1 135"/><path d="M0 42h105" stroke-dasharray="0 6 2 2 1 3 1 1 8 1 7 5 1 2 1 22 1 146"/><path d="M0 43h105" stroke-dasharray="0 8 8 1 10 1 1 3 1 2 1 2 1 171"/><path d="M0 44h105" stroke-dasharray="0 8 3 1 1 3 2 1 10 1 3 1 1 1 3 26 1 144"/><path d="M0 45h105" stroke-dasharray="1 2 1 1 1 2 4 1 5 1 1 1 13 1 2 37 1 135"/><path d="M0 46h105" stroke-dasharray="1 8 3 1 7 1 6 1 1 1 6 1 1 1 1 170"/><path d="M0 47h105" stroke-dasharray="0 3 1 1 2 4 25 2 1 2 1 168"/><path d="M0 48h105" stroke-dasharray="1 7 1 1 29 1 1 3 1 3 1 1 1 159"/><path d="M0 49h105" stroke-dasharray="0 2 1 3 32 172"/><path d="M0 50h105" stroke-dasharray="0 2 1 3 2 1 7 1 18 1 3 1 3 2 1 5 1 158"/><path d="M0 51h105" stroke-dasharray="1 5 1 1 1 1 23 1 2 2 1 1 2 2 4 162"/><path d="M0 52h105" stroke-dasharray="0 3 1 3 3 2 1 1 23 1 2 1 2 17 1 149"/><path d="M0 53h105" stroke-dasharray="0 4 2 2 1 1 10 1 13 1 5 1 1 7 1 6 1 153"/><path d="M0 54h105" stroke-dasharray="0 1 2 1 2 2 1 1 22 1 9 16 1 151"/><path d="M0 55h105" stroke-dasharray="0 3 3 2 23 1 4 1 3 2 1 1 1 165"/><path d="M0 56h105" stroke-dasharray="0 3 9 1 23 1 7 166"/><path d="M0 57h105" stroke-dasharray="0 4 1 2 3 1 28 1 2 8 2 2 1 5 1 6 1 142"/><path d="M0 58h105" stroke-dasharray="2 2 4 1 21 1 8 2 2 2 1 164"/><path d="M0 59h105" stroke-dasharray="0 4 1 1 24 1 5 1 1 1 3 168"/><path d="M0 60h105" stroke-dasharray="0 4 5 1 28 1 2 2 1 3 1 5 2 1 1 3 1 10 1 1 1 136"/><path d="M0 61h105" stroke-dasharray="2 2 3 2 27 1 4 3 1 1 1 10 1 152"/><path d="M0 62h105" stroke-dasharray="1 1 1 1 3 1 33 1 2 7 2 7 1 3 1 7 1 137"/><path d="M0 63h105" stroke-dasharray="0 3 2 1 1 1 37 10 1 6 2 6 1 2 1 136"/><path d="M0 64h105" stroke-dasharray="0 1 3 2 1 1 2 1 33 4 2 4 1 1 2 9 1 4 1 137"/><path d="M0 65h105" stroke-dasharray="0 2 3 1 4 1 24 1 7 1 1 3 1 6 1 4 1 6 1 142"/><path d="M0 66h105" stroke-dasharray="0 3 2 2 33 2 3 2 1 3 1 23 1 134"/><path d="M0 67h105" stroke-dasharray="0 2 4 2 33 2 1 5 2 8 1 6 1 2 1 4 1 135"/><path d="M0 68h105" stroke-dasharray="0 1 5 1 36 1 2 12 1 1 1 14 1 134"/><path d="M0 69h105" stroke-dasharray="0 3 40 4 1 2 1 12 2 1 3 141"/><path d="M0 70h105" stroke-dasharray="1 1 2 1 1 1 1 3 33 2 1 8 2 4 1 2 1 6 1 8 1 129"/><path d="M0 71h105" stroke-dasharray="0 2 1 2 38 1 1 1 3 7 3 1 1 3 1 6 1 138"/><path d="M0 72h105" stroke-dasharray="2 1 6 1 31 3 1 15 1 3 1 6 1 4 2 132"/><path d="M0 73h105" stroke-dasharray="0 5 39 8 2 7 1 2 1 15 2 128"/><path d="M0 74h105" stroke-dasharray="0 1 4 1 32 3 2 2 4 1 1 1 3 3 1 3 1 4 1 142"/><path d="M0 75h105" stroke-dasharray="0 2 1 1 3 1 35 2 1 20 1 4 1 2 1 1 1 4 1 128"/><path d="M0 76h105" stroke-dasharray="1 2 1 1 2 1 31 1 3 1 4 3 1 3 3 1 3 2 1 3 1 1 2 138"/><path d="M0 77h105" stroke-dasharray="0 3 1 1 39 5 1 2 1 1 1 11 1 5 1 1 3 2 1 130"/><path d="M0 78h105" stroke-dasharray="0 1 1 2 2 1 31 1 5 5 1 6 5 2 2 2 1 2 2 3 1 134"/><path d="M0 79h105" stroke-dasharray="0 4 42 9 1 3 2 3 2 1 2 4 1 136"/><path d="M0 80h105" stroke-dasharray="2 2 38 3 1 1 1 1 1 3 1 8 1 4 2 1 1 6 1 132"/><path d="M0 81h105" stroke-dasharray="0 2 1 1 37 1 3 2 1 1 2 3 1 1 1 3 1 7 1 2 1 138"/><path d="M0 82h105" stroke-dasharray="0 2 2 1 2 1 33 1 1 7 1 7 1 2 2 3 2 1 1 140"/><path d="M0 83h105" stroke-dasharray="0 2 37 1 2 1 1 9 1 17 2 10 1 126"/><path d="M0 84h105" stroke-dasharray="1 3 39 3 2 3 1 2 1 5 1 5 1 2 1 10 2 128"/><path d="M0 85h105" stroke-dasharray="0 4 5 1 29 1 3 1 2 9 1 4 1 4 1 6 1 1 1 135"/><path d="M0 86h105" stroke-dasharray="0 4 38 3 1 1 1 1 1 8 1 3 1 3 1 1 2 140"/><path d="M0 87h105" stroke-dasharray="0 1 2 2 34 1 2 4 1 12 1 8 1 4 1 7 1 128"/><path d="M0 88h105" stroke-dasharray="0 4 35 2 1 27 1 2 2 1 1 1 1 132"/><path d="M0 89h105" stroke-dasharray="0 4 4 1 29 1 1 2 2 166"/><path d="M0 90h105" stroke-dasharray="0 1 1 2 34 4 1 1 1 1 1 24 1 138"/><path d="M0 91h105" stroke-dasharray="0 1 2 1 1 2 1 1 6 2 19 1 5 1 1 1 1 164"/><path d="M0 92h105" stroke-dasharray="0 3 1 3 2 2 1 1 24 1 1 1 1 2 1 29 1 136"/><path d="M0 93h105" stroke-dasharray="0 3 3 1 31 1 1 3 1 5 1 160"/><path d="M0 94h105" stroke-dasharray="0 8 27 2 2 1 2 8 1 8 1 150"/><path d="M0 95h105" stroke-dasharray="0 6 1 1 4 3 19 3 2 1 1 26 1 3 1 138"/><path d="M0 96h105" stroke-dasharray="0 5 1 3 3 2 6 1 6 1 5 1 2 9 1 12 1 14 1 136"/><path d="M0 97h105" stroke-dasharray="0 3 1 5 2 1 3 1 18 2 2 1 1 170"/><path d="M0 98h105" stroke-dasharray="0 7 1 1 1 1 1 1 6 2 7 1 4 1 3 173"/><path d="M0 99h105" stroke-dasharray="0 6 2 4 1 1 4 2 6 1 2 1 2 178"/><path d="M0 100h105" stroke-dasharray="0 1 1 13 3 2 3 3 3 1 3 177"/><path d="M0 101h105" stroke-dasharray="0 13 1 2 1 3 1 1 3 1 1 3 1 2 1 1 1 174"/><path d="M0 102h105" stroke-dasharray="0 7 1 9 4 2 4 2 1 1 1 178"/><path d="M0 103h105" stroke-dasharray="0 19 1 7 1 2 1 1 1 177"/><path d="M0 104h105" stroke-dasharray="0 23 1 186"/><path d="M0 105h105" stroke-dasharray="0 18 1 191"/></g><g transform="translate(82.5 189.75) scale(0.5)" stroke="#000" stroke-width="1" fill="none"><path d="M0 20h211" stroke-dasharray="0 29 2 391"/><path d="M0 21h211" stroke-dasharray="0 49 2 371"/><path d="M0 27h211" stroke-dasharray="0 64 2 356"/><path d="M0 31h211" stroke-dasharray="0 37 4 23 2 356"/><path d="M0 33h211" stroke-dasharray="0 22 4 396"/><path d="M0 35h211" stroke-dasharray="0 33 2 387"/><path d="M0 36h211" stroke-dasharray="0 39 2 6 2 373"/><path d="M0 37h211" stroke-dasharray="0 50 2 20 2 348"/><path d="M0 40h211" stroke-dasharray="0 24 2 38 2 356"/><path d="M0 41h211" stroke-dasharray="0 49 2 371"/><path d="M0 42h211" stroke-dasharray="0 17 2 403"/><path d="M0 43h211" stroke-dasharray="0 17 2 12 2 389"/><path d="M0 44h211" stroke-dasharray="0 74 2 24 2 320"/><path d="M0 46h211" stroke-dasharray="0 24 2 396"/><path d="M0 48h211" stroke-dasharray="0 51 2 2 2 7 2 356"/><path d="M0 50h211" stroke-dasharray="0 6 2 1 2 17 2 17 2 10 2 14 2 6 2 337"/><path d="M0 51h211" stroke-dasharray="0 27 2 3 2 4 2 42 2 338"/><path d="M0 52h211" stroke-dasharray="0 15 2 27 2 9 5 362"/><path d="M0 53h211" stroke-dasharray="0 5 2 7 3 5 2 11 2 34 2 17 2 8 2 26 2 292"/><path d="M0 54h211" stroke-dasharray="0 17 4 17 2 4 2 10 2 112 2 250"/><path d="M0 55h211" stroke-dasharray="0 5 2 21 4 2 2 4 2 11 2 1 2 19 2 27 2 14 2 298"/><path d="M0 56h211" stroke-dasharray="0 35 2 1 2 4 2 1 2 18 2 50 2 24 2 275"/><path d="M0 57h211" stroke-dasharray="0 17 2 30 2 2 4 3 2 2 2 17 2 14 3 20 2 298"/><path d="M0 58h211" stroke-dasharray="0 3 2 23 2 2 3 2 4 6 2 63 4 306"/><path d="M0 59h211" stroke-dasharray="0 22 2 3 2 9 2 5 2 3 3 11 2 2 4 4 2 10 2 30 2 15 2 11 2 3 2 11 2 252"/><path d="M0 60h211" stroke-dasharray="0 9 2 24 2 1 2 2 2 7 3 3 2 21 4 2 2 39 4 32 2 14 2 241"/><path d="M0 61h211" stroke-dasharray="0 15 2 16 2 9 2 7 2 3 2 3 3 7 2 15 2 17 2 5 2 18 2 16 2 266"/><path d="M0 62h211" stroke-dasharray="0 24 2 6 2 11 2 4 2 8 2 1 5 9 2 5 2 28 2 8 2 8 2 285"/><path d="M0 63h211" stroke-dasharray="0 6 2 25 2 6 2 1 2 4 2 6 2 3 2 1 2 9 2 9 2 4 2 6 2 19 2 6 2 7 2 1 2 5 2 15 2 253"/><path d="M0 64h211" stroke-dasharray="0 2 2 1 3 2 2 2 2 10 2 8 2 6 4 5 2 1 2 2 2 2 5 6 2 2 2 18 2 1 4 4 2 3 3 5 2 2 2 6 2 2 2 281"/><path d="M0 65h211" stroke-dasharray="0 17 2 3 2 11 2 4 2 6 2 1 3 3 2 1 2 16 2 10 2 1 2 17 2 17 2 10 2 5 3 268"/><path d="M0 66h211" stroke-dasharray="0 33 8 2 2 1 2 1 5 5 2 15 2 1 2 3 5 2 6 8 4 3 2 1 2 12 5 8 2 278"/><path d="M0 67h211" stroke-dasharray="0 10 2 8 4 2 2 7 13 1 10 1 2 1 2 19 2 6 5 29 2 2 3 1 3 1 2 2 3 277"/><path d="M0 68h211" stroke-dasharray="0 30 2 3 4 8 3 1 3 3 2 3 2 5 2 13 5 5 2 2 2 4 4 2 2 3 2 2 2 11 2 1 2 1 2 38 2 242"/><path d="M0 69h211" stroke-dasharray="0 10 2 4 2 1 4 5 2 3 6 1 2 5 2 3 3 4 4 2 5 4 2 4 4 3 9 2 2 6 6 2 2 2 3 5 5 8 2 4 2 2 2 2 2 13 2 4 2 7 2 237"/><path d="M0 70h211" stroke-dasharray="0 12 2 1 2 4 2 11 2 3 2 3 4 2 2 1 4 1 3 3 3 4 2 4 4 12 2 4 2 13 3 1 2 6 2 2 2 1 3 5 3 10 2 266"/><path d="M0 71h211" stroke-dasharray="0 11 2 15 3 8 2 5 3 1 3 10 2 4 6 3 2 8 2 3 2 2 2 1 2 3 2 6 3 5 4 3 2 2 2 1 2 5 2 6 2 14 2 254"/><path d="M0 72h211" stroke-dasharray="0 3 2 3 4 9 2 9 6 5 2 2 6 4 4 2 9 1 3 3 2 1 2 3 2 4 7 8 2 7 3 7 9 1 2 1 2 5 2 4 2 3 2 262"/><path d="M0 73h211" stroke-dasharray="0 6 2 10 3 9 3 3 3 4 2 2 2 1 5 2 7 12 2 14 11 1 4 1 3 4 2 3 3 5 2 1 8 1 2 2 2 13 2 7 2 3 2 246"/><path d="M0 74h211" stroke-dasharray="0 3 2 9 2 2 2 6 3 1 2 3 5 5 4 1 4 1 12 5 7 9 4 1 2 2 3 3 5 9 3 6 2 5 5 10 2 6 2 264"/><path d="M0 75h211" stroke-dasharray="0 4 2 3 2 16 5 4 2 2 2 4 3 3 7 1 2 1 5 4 6 1 5 27 3 11 5 3 6 12 2 269"/><path d="M0 76h211" stroke-dasharray="0 3 2 1 2 7 2 10 4 1 2 4 12 2 10 1 2 1 3 2 2 7 2 2 4 1 3 4 2 9 6 7 7 2 2 2 2 1 2 2 2 4 2 3 2 14 2 253"/><path d="M0 77h211" stroke-dasharray="0 8 2 2 2 4 7 3 2 2 2 1 2 1 2 1 10 2 16 3 5 3 6 10 4 3 2 2 4 5 2 2 4 1 2 8 2 2 2 1 2 12 2 264"/><path d="M0 78h211" stroke-dasharray="2 3 2 2 2 2 5 3 2 3 2 5 2 5 7 1 3 2 2 7 6 3 4 2 2 10 2 4 4 5 2 1 2 2 2 3 2 3 2 1 2 1 2 1 3 2 5 15 2 2 5 258"/><path d="M0 79h211" stroke-dasharray="0 7 2 12 3 6 6 3 18 1 3 1 10 3 6 5 2 2 2 4 2 2 2 6 11 2 5 26 2 1 4 7 2 254"/><path d="M0 80h211" stroke-dasharray="0 3 2 6 3 1 2 3 2 4 11 2 3 2 22 1 3 1 2 1 2 1 2 3 2 8 3 4 2 6 4 1 2 5 3 1 2 4 4 2 2 2 2 3 2 11 2 5 3 16 2 237"/><path d="M0 81h211" stroke-dasharray="0 11 2 3 7 4 4 1 9 2 12 1 16 3 2 1 7 4 2 1 2 8 2 1 3 2 2 6 2 3 2 10 2 2 2 281"/><path d="M0 82h211" stroke-dasharray="0 9 5 2 5 1 4 1 7 1 6 2 4 1 7 3 4 2 5 1 4 1 5 2 4 2 3 11 2 15 6 6 5 1 2 5 2 20 2 254"/><path d="M0 83h211" stroke-dasharray="0 2 2 1 2 4 2 3 11 1 13 2 19 2 7 2 3 4 2 7 3 4 2 1 2 4 2 1 2 3 2 2 4 9 2 1 2 6 2 6 2 25 2 244"/><path d="M0 84h211" stroke-dasharray="0 2 2 8 4 2 18 2 5 1 25 1 2 2 6 2 2 5 6 17 5 4 3 2 5 4 4 2 2 4 4 10 4 10 2 245"/><path d="M0 85h211" stroke-dasharray="0 1 2 5 2 3 6 1 11 2 17 1 17 2 2 2 6 1 3 6 4 10 2 9 4 8 3 3 2 14 2 271"/><path d="M0 86h211" stroke-dasharray="0 10 7 2 5 2 2 1 36 1 4 2 5 1 7 5 2 1 4 3 3 5 2 4 2 5 2 3 3 6 2 23 2 260"/><path d="M0 87h211" stroke-dasharray="0 2 2 11 19 1 27 3 2 1 2 1 3 2 3 2 4 1 5 1 2 1 3 1 2 2 2 13 2 4 2 4 2 14 2 20 2 252"/><path d="M0 88h211" stroke-dasharray="0 1 3 6 2 5 38 1 3 1 2 1 4 1 7 1 4 6 2 5 2 7 2 1 2 9 2 6 2 6 2 34 2 252"/><path d="M0 89h211" stroke-dasharray="0 4 2 3 2 5 7 1 35 1 8 1 11 2 3 2 2 4 2 5 3 9 4 7 2 3 2 1 2 16 2 271"/><path d="M0 90h211" stroke-dasharray="2 1 3 4 2 4 11 1 2 3 5 1 33 1 10 7 2 3 2 2 2 5 4 2 2 5 2 10 2 5 2 10 2 270"/><path d="M0 91h211" stroke-dasharray="6 1 6 1 11 2 11 1 30 1 8 2 6 12 5 4 2 1 2 6 2 29 2 271"/><path d="M0 92h211" stroke-dasharray="0 1 2 1 2 1 2 2 2 1 2 1 21 1 3 1 32 1 2 1 2 6 3 26 2 3 2 26 2 2 2 11 2 254"/><path d="M0 93h211" stroke-dasharray="3 4 2 2 2 4 25 1 16 1 18 1 2 2 2 3 2 3 2 20 2 305"/><path d="M0 94h211" stroke-dasharray="3 2 2 1 2 4 2 3 6 2 28 2 16 1 4 1 2 4 2 3 2 16 2 8 2 4 2 4 4 288"/><path d="M0 95h211" stroke-dasharray="0 2 15 5 51 3 5 1 7 4 2 20 2 11 2 3 2 16 2 269"/><path d="M0 96h211" stroke-dasharray="2 5 2 2 4 2 4 2 56 2 4 13 2 24 2 2 2 292"/><path d="M0 97h211" stroke-dasharray="0 1 3 2 4 4 2 1 62 2 5 1 5 1 2 2 2 2 2 4 2 3 2 8 3 9 2 20 2 264"/><path d="M0 98h211" stroke-dasharray="5 9 2 1 2 1 59 1 4 5 2 4 4 2 2 5 2 2 2 1 2 15 2 288"/><path d="M0 99h211" stroke-dasharray="0 1 3 1 2 5 66 2 4 4 4 1 2 5 2 5 3 1 2 3 2 55 2 247"/><path d="M0 100h211" stroke-dasharray="0 2 2 1 2 5 68 3 4 1 2 2 2 11 3 1 2 14 2 14 2 279"/><path d="M0 101h211" stroke-dasharray="3 2 4 3 21 2 36 1 8 1 8 1 4 9 2 58 2 10 2 245"/><path d="M0 102h211" stroke-dasharray="0 3 4 1 2 1 6 1 53 1 7 2 7 1 5 1 2 6 4 9 2 1 2 5 2 1 2 4 2 3 2 1 2 277"/><path d="M0 103h211" stroke-dasharray="0 1 3 2 3 1 10 1 54 2 2 1 5 1 11 2 2 3 2 1 2 10 2 8 2 14 2 29 2 244"/><path d="M0 104h211" stroke-dasharray="3 1 2 2 4 1 3 1 51 1 5 2 11 2 10 6 2 20 2 23 2 268"/><path d="M0 105h211" stroke-dasharray="4 1 5 1 2 1 7 1 2 1 50 1 5 1 5 9 2 23 2 4 2 6 2 21 2 14 2 246"/><path d="M0 106h211" stroke-dasharray="0 4 2 1 5 2 7 1 5 1 53 2 4 7 3 3 2 6 4 5 2 2 2 1 4 36 2 21 2 233"/><path d="M0 107h211" stroke-dasharray="0 2 2 2 7 1 5 2 61 1 7 9 2 1 2 9 2 6 2 9 2 29 2 4 2 251"/><path d="M0 108h211" stroke-dasharray="4 5 7 1 2 1 21 1 28 1 15 4 7 1 3 5 2 4 3 20 2 285"/><path d="M0 109h211" stroke-dasharray="0 1 6 2 5 3 2 1 45 1 19 1 2 2 2 5 3 7 5 2 2 1 2 28 2 273"/><path d="M0 110h211" stroke-dasharray="2 1 11 2 73 2 2 1 3 5 2 13 2 3 4 22 2 272"/><path d="M0 111h211" stroke-dasharray="4 2 8 2 71 1 4 11 2 6 2 3 2 4 2 2 2 17 2 275"/><path d="M0 112h211" stroke-dasharray="0 2 62 1 8 1 8 2 9 5 2 5 2 12 2 3 3 6 2 14 3 6 2 4 2 2 2 252"/><path d="M0 113h211" stroke-dasharray="0 1 3 3 18 1 47 1 15 2 2 1 2 2 5 3 4 2 2 2 4 8 2 7 2 1 3 6 2 1 2 268"/><path d="M0 114h211" stroke-dasharray="0 2 89 3 3 3 2 14 2 1 2 15 2 7 2 3 3 11 2 1 2 253"/><path d="M0 115h211" stroke-dasharray="0 9 70 1 6 2 2 2 2 1 2 4 4 2 4 7 2 1 2 2 2 8 2 15 2 268"/><path d="M0 116h211" stroke-dasharray="3 5 4 2 8 1 56 1 10 4 2 3 6 1 2 1 2 7 5 6 3 3 2 2 2 2 3 4 4 2 2 3 2 259"/><path d="M0 117h211" stroke-dasharray="0 1 5 2 72 3 6 2 8 11 2 6 2 2 4 24 2 10 2 1 2 255"/><path d="M0 118h211" stroke-dasharray="6 2 9 1 44 1 19 1 5 3 3 6 3 6 2 1 2 3 3 6 2 2 3 14 2 13 2 258"/><path d="M0 119h211" stroke-dasharray="2 2 2 2 54 1 11 1 3 1 7 1 5 3 2 1 2 1 2 4 3 7 2 15 3 6 2 5 2 12 4 26 2 226"/><path d="M0 120h211" stroke-dasharray="3 1 2 3 2 2 75 8 4 2 3 3 2 3 4 4 5 1 2 9 2 1 2 2 2 9 3 8 2 17 2 234"/><path d="M0 121h211" stroke-dasharray="0 2 5 2 10 1 57 1 6 2 7 2 2 6 8 2 2 6 2 2 2 12 2 2 2 2 6 1 2 266"/><path d="M0 122h211" stroke-dasharray="0 1 3 2 80 1 3 2 2 1 3 9 4 1 4 4 3 12 3 5 6 7 2 3 4 257"/><path d="M0 123h211" stroke-dasharray="5 2 8 1 71 1 3 1 4 3 2 4 5 5 4 3 4 8 2 9 2 16 4 255"/><path d="M0 124h211" stroke-dasharray="5 4 6 1 2 1 54 1 10 2 5 1 6 13 2 2 2 1 2 5 2 1 2 3 2 3 2 7 2 273"/><path d="M0 125h211" stroke-dasharray="3 2 3 1 6 2 73 2 6 3 7 1 2 2 2 1 2 3 3 4 5 2 2 1 2 4 3 3 2 1 2 7 2 33 2 223"/><path d="M0 126h211" stroke-dasharray="0 1 82 1 6 1 3 2 2 4 7 2 2 2 3 3 2 1 3 2 2 14 2 9 2 6 4 254"/><path d="M0 127h211" stroke-dasharray="3 1 2 1 5 1 81 1 2 5 2 4 2 1 3 2 2 5 6 2 2 4 9 1 2 8 2 15 2 6 2 238"/><path d="M0 128h211" stroke-dasharray="2 2 2 1 9 1 74 2 2 2 2 1 2 1 2 4 8 1 2 5 5 2 3 1 2 2 4 3 3 1 2 7 3 4 2 253"/><path d="M0 129h211" stroke-dasharray="0 2 13 2 76 3 6 3 2 2 2 1 7 3 2 1 4 1 2 2 5 3 2 1 2 8 2 3 3 1 2 6 2 12 2 234"/><path d="M0 130h211" stroke-dasharray="9 1 2 1 3 1 4 1 68 3 2 1 10 3 2 2 5 6 2 3 2 4 3 1 8 2 2 8 2 7 3 6 2 8 2 233"/><path d="M0 131h211" stroke-dasharray="0 5 6 2 9 1 49 1 15 1 3 1 8 3 9 1 2 2 5 2 2 4 2 1 6 1 4 2 2 5 2 5 2 13 2 244"/><path d="M0 132h211" stroke-dasharray="0 2 9 1 10 1 71 2 3 4 3 5 2 4 2 1 3 4 2 4 4 2 2 1 2 2 2 8 4 6 2 8 2 4 2 238"/><path d="M0 133h211" stroke-dasharray="0 3 8 1 71 1 7 4 3 3 9 2 3 11 2 9 5 9 2 4 2 8 2 26 2 5 2 218"/><path d="M0 134h211" stroke-dasharray="0 6 6 2 68 1 8 1 10 1 2 6 3 10 4 2 8 9 2 2 2 10 2 14 2 241"/><path d="M0 135h211" stroke-dasharray="2 3 8 1 71 1 4 2 4 3 7 3 2 7 3 3 5 2 5 3 2 5 2 1 2 2 2 14 2 21 2 228"/><path d="M0 136h211" stroke-dasharray="0 1 2 2 8 3 67 3 6 2 9 1 2 4 2 1 2 1 2 1 2 5 2 5 4 1 4 2 2 1 4 12 2 2 2 10 2 9 2 230"/><path d="M0 137h211" stroke-dasharray="13 2 73 1 5 1 5 12 2 1 9 4 3 1 3 1 2 10 7 9 5 253"/><path d="M0 138h211" stroke-dasharray="0 3 10 1 74 1 7 4 2 2 2 3 2 1 2 2 4 1 3 1 2 7 2 2 4 1 2 6 3 3 4 1 2 6 3 1 2 20 2 224"/><path d="M0 139h211" stroke-dasharray="0 6 82 7 10 1 4 6 2 4 2 2 5 2 7 4 3 5 2 2 2 6 2 5 2 2 2 245"/><path d="M0 140h211" stroke-dasharray="0 1 3 1 89 1 2 4 2 6 4 3 4 2 2 1 15 2 3 2 2 8 2 13 2 248"/><path d="M0 141h211" stroke-dasharray="4 1 5 1 3 1 2 1 77 6 8 2 4 2 3 1 4 1 2 1 5 1 2 6 4 3 2 9 4 1 3 6 2 245"/><path d="M0 142h211" stroke-dasharray="10 1 9 2 68 2 3 16 6 6 2 1 2 1 2 3 2 2 7 1 2 6 2 5 2 19 2 2 2 234"/><path d="M0 143h211" stroke-dasharray="4 1 5 1 81 1 12 5 2 1 6 2 2 2 2 1 3 12 2 8 2 9 2 3 4 249"/><path d="M0 144h211" stroke-dasharray="2 1 4 1 80 1 3 1 7 13 12 2 8 8 5 1 2 4 4 3 3 257"/><path d="M0 145h211" stroke-dasharray="0 1 83 2 2 1 5 3 3 1 2 3 4 2 3 3 2 1 3 5 2 1 2 1 2 1 2 3 2 5 2 1 8 16 2 8 4 231"/><path d="M0 146h211" stroke-dasharray="5 1 14 1 70 1 2 5 2 4 2 5 2 7 14 3 3 2 2 2 10 4 2 1 3 6 4 245"/><path d="M0 147h211" stroke-dasharray="0 2 2 2 85 10 8 3 2 2 2 2 12 7 2 1 3 1 4 6 2 3 6 2 2 1 2 248"/><path d="M0 148h211" stroke-dasharray="0 2 6 2 80 1 4 1 3 1 2 3 5 3 4 6 2 4 2 4 2 5 2 4 2 2 2 6 5 257"/><path d="M0 149h211" stroke-dasharray="0 2 9 1 65 5 5 1 11 2 2 2 7 3 4 3 2 1 2 1 2 2 10 1 3 4 2 10 2 5 2 1 2 248"/><path d="M0 150h211" stroke-dasharray="0 2 9 1 75 1 2 1 9 1 2 1 7 2 2 1 3 1 9 2 2 2 3 6 2 2 4 4 3 2 2 1 2 5 3 17 2 229"/><path d="M0 151h211" stroke-dasharray="4 1 2 1 80 3 2 5 4 3 4 1 10 2 4 1 2 2 9 1 11 1 2 1 2 5 2 26 2 229"/><path d="M0 152h211" stroke-dasharray="2 2 11 1 72 2 7 1 2 2 3 3 2 6 2 2 2 6 4 1 2 1 2 4 4 3 2 1 3 8 4 13 2 10 2 228"/><path d="M0 153h211" stroke-dasharray="0 1 2 2 4 1 5 1 64 1 6 1 9 1 2 2 3 6 6 2 6 1 2 1 3 5 3 1 7 2 2 2 2 2 2 6 2 2 2 5 2 243"/><path d="M0 154h211" stroke-dasharray="4 2 3 1 91 1 3 1 19 1 6 1 2 1 10 3 4 1 4 264"/><path d="M0 155h211" stroke-dasharray="0 2 3 1 3 2 79 2 2 3 5 3 2 1 9 6 3 2 2 3 3 5 14 4 2 1 4 11 2 5 2 236"/><path d="M0 156h211" stroke-dasharray="0 5 84 1 3 3 2 1 2 1 5 2 2 1 2 2 2 3 3 1 2 3 2 1 2 1 2 1 2 3 3 2 6 4 2 4 4 9 2 14 2 226"/><path d="M0 157h211" stroke-dasharray="0 3 75 1 14 3 2 1 4 4 2 1 2 1 19 2 4 3 6 2 5 12 2 5 2 6 2 6 2 231"/><path d="M0 158h211" stroke-dasharray="2 1 2 4 4 1 76 3 2 1 5 5 2 2 13 1 2 1 6 1 11 5 3 8 2 5 2 25 2 225"/><path d="M0 159h211" stroke-dasharray="0 1 2 2 2 2 85 1 3 3 2 8 5 3 5 2 7 1 7 1 2 3 2 3 3 12 2 2 2 5 2 8 2 232"/><path d="M0 160h211" stroke-dasharray="0 7 87 2 2 2 2 4 2 2 3 1 3 2 5 4 6 1 5 1 5 1 2 14 3 2 2 3 2 247"/><path d="M0 161h211" stroke-dasharray="5 2 78 1 8 1 7 2 2 1 2 3 2 5 8 7 12 4 4 1 4 1 2 3 2 2 2 5 2 244"/><path d="M0 162h211" stroke-dasharray="7 2 76 1 2 2 8 1 4 1 6 4 3 7 3 4 8 1 3 4 3 3 4 2 4 16 2 11 2 228"/><path d="M0 163h211" stroke-dasharray="0 4 4 1 83 2 12 2 3 2 5 3 3 1 2 3 4 1 4 4 4 2 2 3 4 1 4 25 2 232"/><path d="M0 164h211" stroke-dasharray="3 1 4 1 75 1 8 2 2 2 4 5 4 1 2 2 2 1 3 3 2 2 2 2 2 1 2 4 2 1 3 4 2 10 2 3 2 10 2 5 2 231"/><path d="M0 165h211" stroke-dasharray="2 3 11 1 67 1 2 1 7 2 6 3 2 3 2 4 3 3 4 1 2 2 5 1 7 2 2 1 2 8 2 9 2 4 4 16 2 223"/><path d="M0 166h211" stroke-dasharray="2 3 5 1 73 1 5 4 4 3 9 4 2 1 2 4 4 5 10 10 4 2 2 2 2 3 2 11 2 240"/><path d="M0 167h211" stroke-dasharray="0 3 82 2 5 5 4 2 6 1 2 6 2 9 2 1 3 2 3 3 6 6 3 3 2 3 3 33 2 218"/><path d="M0 168h211" stroke-dasharray="3 1 76 1 5 1 2 1 2 1 4 10 2 2 3 1 2 1 6 1 2 1 2 6 2 1 3 1 4 1 3 3 2 4 2 1 6 3 2 11 2 235"/><path d="M0 169h211" stroke-dasharray="4 1 86 2 5 4 9 3 2 2 2 1 2 1 2 6 4 2 3 1 2 2 2 1 2 2 12 3 2 2 2 248"/><path d="M0 170h211" stroke-dasharray="6 2 80 2 7 1 4 1 2 4 2 6 6 5 2 2 5 1 3 2 3 8 2 2 2 1 4 32 2 1 2 220"/><path d="M0 171h211" stroke-dasharray="0 4 84 1 8 2 2 1 2 2 3 2 3 4 5 1 2 1 7 2 2 7 7 27 2 241"/><path d="M0 172h211" stroke-dasharray="4 4 11 1 60 1 12 3 2 4 2 2 2 3 4 2 2 2 2 1 2 2 2 1 2 3 2 1 4 1 4 1 8 1 3 5 6 250"/><path d="M0 173h211" stroke-dasharray="0 1 2 6 77 1 6 2 2 1 3 11 2 3 2 3 6 2 5 2 4 15 2 4 2 258"/><path d="M0 174h211" stroke-dasharray="0 4 83 3 7 1 4 13 8 2 3 5 3 1 10 6 2 50 2 215"/><path d="M0 175h211" stroke-dasharray="0 1 6 2 80 1 2 1 2 5 2 1 2 6 2 1 2 3 3 1 2 1 4 3 2 2 2 1 2 4 4 1 4 8 2 1 3 1 3 249"/><path d="M0 176h211" stroke-dasharray="0 3 4 4 69 1 4 8 3 5 2 4 2 3 3 4 3 6 2 2 2 2 6 2 5 12 6 3 2 2 2 8 2 236"/><path d="M0 177h211" stroke-dasharray="2 1 2 3 72 2 3 7 2 3 4 1 2 1 2 1 3 1 2 3 3 5 2 4 2 2 2 2 3 3 8 2 2 6 2 6 2 5 4 240"/><path d="M0 178h211" stroke-dasharray="0 4 2 2 81 1 2 2 3 1 2 1 2 9 3 7 2 3 3 9 2 4 4 2 2 2 6 29 2 6 2 222"/><path d="M0 179h211" stroke-dasharray="3 4 82 1 2 4 2 2 4 2 2 2 2 3 2 1 2 2 5 3 2 2 3 10 2 11 6 8 2 7 4 235"/><path d="M0 180h211" stroke-dasharray="2 3 2 1 10 1 59 1 2 4 5 1 2 3 2 5 5 8 4 8 5 8 4 1 2 28 4 2 2 238"/><path d="M0 181h211" stroke-dasharray="0 2 5 1 70 1 2 3 3 1 3 2 4 1 2 4 2 11 4 1 2 4 2 1 2 1 2 7 2 1 2 7 2 1 3 12 4 245"/><path d="M0 182h211" stroke-dasharray="0 1 4 4 69 3 11 1 2 7 2 7 6 1 2 5 3 6 13 35 2 238"/><path d="M0 183h211" stroke-dasharray="0 2 6 1 3 3 17 2 60 10 5 1 2 4 2 7 2 2 2 6 2 2 4 12 2 6 2 2 2 251"/><path d="M0 184h211" stroke-dasharray="0 2 9 4 3 1 14 1 39 1 11 1 3 1 5 13 4 2 2 4 2 14 2 4 2 6 2 3 2 21 2 10 2 230"/><path d="M0 185h211" stroke-dasharray="0 4 2 1 2 1 4 1 4 1 59 1 12 7 2 4 3 3 2 3 2 1 2 2 2 1 2 12 2 4 3 6 2 6 2 18 2 6 2 229"/><path d="M0 186h211" stroke-dasharray="0 3 2 2 3 2 10 1 3 1 49 1 6 4 2 3 3 7 2 3 3 3 2 1 3 1 2 9 2 1 3 9 3 3 3 1 2 10 2 24 2 226"/><path d="M0 187h211" stroke-dasharray="3 1 10 1 67 5 3 9 2 3 4 17 4 1 2 2 2 1 2 3 3 2 3 2 4 25 2 3 2 234"/><path d="M0 188h211" stroke-dasharray="0 6 8 1 63 1 4 2 4 2 3 4 4 1 3 4 2 3 2 11 2 15 2 10 3 262"/><path d="M0 189h211" stroke-dasharray="0 2 2 9 2 1 56 2 6 1 4 3 8 5 2 6 2 1 5 2 2 3 2 6 2 4 3 3 2 7 4 6 2 19 2 236"/><path d="M0 190h211" stroke-dasharray="2 6 2 1 2 2 56 1 8 1 7 6 2 5 2 1 4 4 2 5 2 11 4 6 2 2 2 14 2 258"/><path d="M0 191h211" stroke-dasharray="0 4 2 6 14 1 2 1 41 1 2 1 4 2 3 4 9 3 2 6 2 14 2 3 2 3 3 3 8 1 2 15 2 7 4 4 2 237"/><path d="M0 192h211" stroke-dasharray="0 1 2 8 5 1 10 1 42 2 13 1 2 19 2 14 2 10 2 1 3 1 4 10 2 5 3 256"/><path d="M0 193h211" stroke-dasharray="0 9 4 1 13 1 14 1 12 1 11 1 8 1 2 1 2 3 2 4 3 1 2 6 2 12 3 10 4 4 2 7 2 6 2 3 2 1 2 23 2 232"/><path d="M0 194h211" stroke-dasharray="0 11 2 5 8 1 28 1 17 1 4 5 2 4 6 19 2 1 2 18 2 5 7 10 2 259"/><path d="M0 195h211" stroke-dasharray="0 1 2 1 5 4 4 1 5 1 8 1 36 1 2 1 4 2 3 22 2 6 2 16 2 1 2 1 2 1 2 6 2 4 2 32 2 233"/><path d="M0 196h211" stroke-dasharray="0 7 2 10 4 1 47 2 8 3 2 8 2 3 2 1 2 6 2 1 2 8 2 2 2 15 2 5 2 4 2 9 2 24 2 226"/><path d="M0 197h211" stroke-dasharray="0 4 2 8 3 2 2 1 4 1 14 1 15 1 18 2 5 23 6 2 2 1 2 14 4 18 2 265"/><path d="M0 198h211" stroke-dasharray="0 2 2 6 3 2 2 2 3 1 2 1 14 1 27 1 7 22 2 45 2 21 2 13 2 237"/><path d="M0 199h211" stroke-dasharray="0 12 5 2 2 3 15 2 12 2 4 1 8 3 2 1 4 3 2 1 2 1 2 12 5 2 2 8 2 302"/><path d="M0 200h211" stroke-dasharray="0 4 2 7 4 3 8 1 8 3 25 1 5 5 3 10 2 3 2 20 2 5 2 8 2 26 4 6 2 249"/><path d="M0 201h211" stroke-dasharray="0 2 4 7 2 4 5 3 11 2 9 1 2 1 15 22 2 3 2 31 2 34 2 9 2 245"/><path d="M0 202h211" stroke-dasharray="0 3 2 21 2 2 8 1 9 2 2 1 6 1 7 2 5 1 6 2 2 14 2 1 4 20 2 37 2 255"/><path d="M0 203h211" stroke-dasharray="0 13 2 5 2 1 2 2 2 2 6 2 12 1 8 1 2 1 2 1 7 1 2 5 2 26 2 27 4 23 2 254"/><path d="M0 204h211" stroke-dasharray="0 5 2 13 4 1 6 1 3 5 4 1 10 3 2 1 2 1 5 2 2 19 2 12 2 8 2 5 3 21 2 273"/><path d="M0 205h211" stroke-dasharray="0 15 2 6 2 3 4 3 9 1 11 3 2 2 5 1 2 4 3 12 2 4 2 10 2 312"/><path d="M0 206h211" stroke-dasharray="0 11 8 6 2 3 2 1 11 3 9 2 7 6 2 6 2 4 2 51 2 8 2 5 2 265"/><path d="M0 207h211" stroke-dasharray="0 11 2 7 3 10 2 1 5 5 2 3 2 1 3 4 11 3 2 17 2 11 2 26 2 285"/><path d="M0 208h211" stroke-dasharray="0 27 2 9 3 2 3 2 2 5 8 2 3 13 2 3 2 17 2 33 2 14 2 10 2 252"/><path d="M0 209h211" stroke-dasharray="0 28 2 1 2 4 2 1 5 2 2 1 2 7 4 5 3 3 2 1 2 1 2 340"/><path d="M0 210h211" stroke-dasharray="0 10 2 5 5 4 2 4 2 1 2 9 6 3 2 3 2 3 2 3 2 49 2 20 2 277"/><path d="M0 211h211" stroke-dasharray="0 3 2 2 2 15 2 6 2 3 2 10 9 7 3 2 2 12 2 7 2 23 2 2 2 34 2 262"/><path d="M0 212h211" stroke-dasharray="0 23 2 11 8 1 3 4 2 2 5 17 2 12 2 35 2 291"/></g>
<rect x="82.3" y="189.7" width="105.32" height="106.3" fill="none" stroke="#000" stroke-width="2.3"/>
<path d="M78.9 296L82.3 296" stroke="#000" stroke-width="1.6" stroke-linecap="butt"/>
<path d="M82.3 296L82.3 299.4" stroke="#000" stroke-width="1.6" stroke-linecap="butt"/>
<text x="71.6" y="301.4" font-size="11.6" text-anchor="end" textLength="11.2" lengthAdjust="spacingAndGlyphs" stroke="#000" stroke-width=".3">10</text>
<text x="71.8" y="294.1" font-size="9.8" text-anchor="start" stroke="#000" stroke-width=".25">0</text>
<text x="87.3" y="311.6" font-size="11.6" text-anchor="end" textLength="11.2" lengthAdjust="spacingAndGlyphs" stroke="#000" stroke-width=".3">10</text>
<text x="87.2" y="304.9" font-size="9.8" text-anchor="start" stroke="#000" stroke-width=".25">0</text>
<path d="M78.9 269.43L82.3 269.43" stroke="#000" stroke-width="1.6" stroke-linecap="butt"/>
<path d="M108.63 296L108.63 299.4" stroke="#000" stroke-width="1.6" stroke-linecap="butt"/>
<text x="71.6" y="274.82" font-size="11.6" text-anchor="end" textLength="11.2" lengthAdjust="spacingAndGlyphs" stroke="#000" stroke-width=".3">10</text>
<text x="71.8" y="267.53" font-size="9.8" text-anchor="start" stroke="#000" stroke-width=".25">1</text>
<text x="113.63" y="311.6" font-size="11.6" text-anchor="end" textLength="11.2" lengthAdjust="spacingAndGlyphs" stroke="#000" stroke-width=".3">10</text>
<text x="113.53" y="304.9" font-size="9.8" text-anchor="start" stroke="#000" stroke-width=".25">1</text>
<path d="M78.9 242.85L82.3 242.85" stroke="#000" stroke-width="1.6" stroke-linecap="butt"/>
<path d="M134.96 296L134.96 299.4" stroke="#000" stroke-width="1.6" stroke-linecap="butt"/>
<text x="71.6" y="248.25" font-size="11.6" text-anchor="end" textLength="11.2" lengthAdjust="spacingAndGlyphs" stroke="#000" stroke-width=".3">10</text>
<text x="71.8" y="240.95" font-size="9.8" text-anchor="start" stroke="#000" stroke-width=".25">2</text>
<text x="139.96" y="311.6" font-size="11.6" text-anchor="end" textLength="11.2" lengthAdjust="spacingAndGlyphs" stroke="#000" stroke-width=".3">10</text>
<text x="139.86" y="304.9" font-size="9.8" text-anchor="start" stroke="#000" stroke-width=".25">2</text>
<path d="M78.9 216.28L82.3 216.28" stroke="#000" stroke-width="1.6" stroke-linecap="butt"/>
<path d="M161.29 296L161.29 299.4" stroke="#000" stroke-width="1.6" stroke-linecap="butt"/>
<text x="71.6" y="221.68" font-size="11.6" text-anchor="end" textLength="11.2" lengthAdjust="spacingAndGlyphs" stroke="#000" stroke-width=".3">10</text>
<text x="71.8" y="214.38" font-size="9.8" text-anchor="start" stroke="#000" stroke-width=".25">3</text>
<text x="166.29" y="311.6" font-size="11.6" text-anchor="end" textLength="11.2" lengthAdjust="spacingAndGlyphs" stroke="#000" stroke-width=".3">10</text>
<text x="166.19" y="304.9" font-size="9.8" text-anchor="start" stroke="#000" stroke-width=".25">3</text>
<path d="M78.9 189.7L82.3 189.7" stroke="#000" stroke-width="1.6" stroke-linecap="butt"/>
<path d="M187.62 296L187.62 299.4" stroke="#000" stroke-width="1.6" stroke-linecap="butt"/>
<text x="71.6" y="195.1" font-size="11.6" text-anchor="end" textLength="11.2" lengthAdjust="spacingAndGlyphs" stroke="#000" stroke-width=".3">10</text>
<text x="71.8" y="187.8" font-size="9.8" text-anchor="start" stroke="#000" stroke-width=".25">4</text>
<text x="192.62" y="311.6" font-size="11.6" text-anchor="end" textLength="11.2" lengthAdjust="spacingAndGlyphs" stroke="#000" stroke-width=".3">10</text>
<text x="192.52" y="304.9" font-size="9.8" text-anchor="start" stroke="#000" stroke-width=".25">4</text>
<rect x="126.5" y="213.3" width="48" height="28.4" fill="none" stroke="#000" stroke-width="2"/>
<text x="127.3" y="208.1" font-size="14.3" text-anchor="start" stroke="#000" stroke-width=".2">0.054</text>
<text x="133.66" y="183.6" font-size="15.7" text-anchor="middle">WT</text>
</g>
<g>
<g transform="translate(226 190.5)" stroke="#000" stroke-width="1" fill="none" shape-rendering="crispEdges"><path d="M0 25h105" stroke-dasharray="0 27 1 182"/><path d="M0 26h105" stroke-dasharray="0 27 1 182"/><path d="M0 28h105" stroke-dasharray="0 28 1 181"/><path d="M0 30h105" stroke-dasharray="0 30 1 179"/><path d="M0 31h105" stroke-dasharray="0 25 1 6 1 177"/><path d="M0 32h105" stroke-dasharray="0 19 1 1 2 4 1 2 1 2 2 3 1 1 1 169"/><path d="M0 33h105" stroke-dasharray="0 18 1 7 4 2 2 1 1 174"/><path d="M0 34h105" stroke-dasharray="0 21 2 1 1 3 2 2 2 2 2 172"/><path d="M0 35h105" stroke-dasharray="0 21 1 3 3 1 2 1 5 1 2 170"/><path d="M0 36h105" stroke-dasharray="0 16 1 8 1 1 1 1 4 2 2 2 3 5 1 162"/><path d="M0 37h105" stroke-dasharray="0 20 4 2 2 1 1 1 1 1 1 2 1 1 1 2 1 168"/><path d="M0 38h105" stroke-dasharray="0 22 1 1 2 1 5 1 1 1 5 1 1 168"/><path d="M0 39h105" stroke-dasharray="0 2 1 8 1 4 1 1 1 1 4 1 16 2 1 166"/><path d="M0 40h105" stroke-dasharray="0 1 1 16 1 2 17 1 2 2 1 1 2 163"/><path d="M0 41h105" stroke-dasharray="0 8 1 12 1 2 12 2 1 1 2 2 1 165"/><path d="M0 42h105" stroke-dasharray="0 18 1 2 3 1 16 1 1 167"/><path d="M0 43h105" stroke-dasharray="0 11 1 3 1 4 1 2 13 1 6 1 1 10 1 154"/><path d="M0 44h105" stroke-dasharray="0 4 1 8 3 6 16 2 2 3 1 164"/><path d="M0 45h105" stroke-dasharray="0 12 1 1 2 2 1 2 4 1 16 1 1 1 2 163"/><path d="M0 46h105" stroke-dasharray="0 18 3 1 21 2 1 164"/><path d="M0 47h105" stroke-dasharray="0 7 1 3 1 1 2 1 25 1 1 3 1 163"/><path d="M0 48h105" stroke-dasharray="0 8 1 1 1 1 1 1 2 1 4 2 19 1 1 166"/><path d="M0 49h105" stroke-dasharray="0 14 3 2 4 1 18 1 1 2 1 163"/><path d="M0 50h105" stroke-dasharray="0 2 1 6 1 4 1 1 1 1 1 1 10 1 13 2 1 4 1 158"/><path d="M0 51h105" stroke-dasharray="0 2 1 2 1 1 1 2 1 1 27 2 2 1 2 164"/><path d="M0 52h105" stroke-dasharray="1 9 3 1 3 1 24 1 1 3 1 162"/><path d="M0 53h105" stroke-dasharray="0 1 1 8 2 1 2 1 1 3 17 1 7 1 1 163"/><path d="M0 54h105" stroke-dasharray="0 6 1 4 2 4 2 3 19 1 3 24 1 140"/><path d="M0 55h105" stroke-dasharray="1 1 1 1 1 12 23 1 3 1 1 1 2 7 1 153"/><path d="M0 56h105" stroke-dasharray="0 5 1 3 2 1 4 1 3 1 6 1 10 1 5 1 1 8 1 4 1 4 1 145"/><path d="M0 57h105" stroke-dasharray="0 6 1 4 1 2 2 1 1 2 5 1 9 1 7 7 1 1 1 3 1 4 2 11 1 135"/><path d="M0 58h105" stroke-dasharray="0 11 1 1 2 1 1 1 1 1 5 1 15 14 1 4 1 2 1 11 1 134"/><path d="M0 59h105" stroke-dasharray="0 2 2 3 3 2 2 1 1 3 1 2 15 2 1 3 1 1 1 9 1 8 1 2 1 142"/><path d="M0 60h105" stroke-dasharray="0 3 1 1 1 4 2 1 1 1 5 1 2 1 11 1 9 1 2 3 3 5 4 147"/><path d="M0 61h105" stroke-dasharray="0 5 1 2 1 2 1 3 1 2 2 2 1 1 11 1 2 2 4 8 1 7 1 1 1 1 2 3 1 1 2 1 1 135"/><path d="M0 62h105" stroke-dasharray="0 9 2 1 1 1 3 1 12 1 3 1 1 2 1 2 2 2 1 2 1 2 1 1 3 2 1 1 4 1 1 2 1 1 2 1 1 1 1 134"/><path d="M0 63h105" stroke-dasharray="1 2 1 4 1 1 4 2 1 1 1 2 10 1 6 1 1 4 1 1 1 1 3 1 5 2 4 1 3 143"/><path d="M0 64h105" stroke-dasharray="0 9 6 1 20 1 5 1 3 1 1 1 1 1 4 4 3 1 2 1 5 3 3 1 1 131"/><path d="M0 65h105" stroke-dasharray="0 7 1 3 2 1 22 2 22 1 5 1 5 1 1 1 2 1 2 130"/><path d="M0 66h105" stroke-dasharray="0 1 1 2 2 1 2 1 3 1 26 1 3 1 8 1 4 1 7 1 4 2 1 1 1 1 2 131"/><path d="M0 67h105" stroke-dasharray="0 2 2 3 2 3 2 1 25 1 4 1 2 2 23 1 4 132"/><path d="M0 68h105" stroke-dasharray="0 3 2 4 1 1 37 1 10 1 3 1 3 1 2 1 4 1 1 133"/><path d="M0 69h105" stroke-dasharray="0 6 3 1 44 1 8 1 2 2 6 1 1 2 3 129"/><path d="M0 70h105" stroke-dasharray="0 3 1 3 6 2 49 1 4 1 4 2 1 5 1 127"/><path d="M0 71h105" stroke-dasharray="0 1 1 1 1 2 55 1 12 1 2 3 2 128"/><path d="M0 72h105" stroke-dasharray="1 1 7 2 7 1 20 1 33 1 1 1 1 133"/><path d="M0 73h105" stroke-dasharray="0 5 1 1 75 2 1 125"/><path d="M0 74h105" stroke-dasharray="2 1 3 1 5 1 57 1 2 1 3 1 1 1 1 5 1 123"/><path d="M0 75h105" stroke-dasharray="2 2 3 1 62 1 1 1 1 1 3 3 1 2 1 125"/><path d="M0 76h105" stroke-dasharray="0 5 2 1 64 1 2 1 2 2 1 1 1 127"/><path d="M0 77h105" stroke-dasharray="0 1 1 1 1 1 2 1 70 1 1 9 1 120"/><path d="M0 78h105" stroke-dasharray="0 1 3 1 2 1 65 1 9 127"/><path d="M0 79h105" stroke-dasharray="0 1 1 3 1 1 69 1 6 1 1 125"/><path d="M0 80h105" stroke-dasharray="74 1 1 1 1 6 1 125"/><path d="M0 81h105" stroke-dasharray="0 5 55 1 20 3 1 125"/><path d="M0 82h105" stroke-dasharray="0 1 1 2 55 1 13 1 6 2 1 127"/><path d="M0 83h105" stroke-dasharray="0 4 74 132"/><path d="M0 84h105" stroke-dasharray="0 1 1 2 5 1 44 1 20 2 1 2 1 129"/><path d="M0 85h105" stroke-dasharray="0 1 1 1 71 1 1 1 1 4 2 126"/><path d="M0 86h105" stroke-dasharray="1 3 65 2 3 3 2 131"/><path d="M0 87h105" stroke-dasharray="0 3 4 1 1 1 1 1 1 1 39 1 17 1 1 1 2 4 1 2 1 126"/><path d="M0 88h105" stroke-dasharray="0 3 3 1 44 1 1 1 1 1 15 1 1 1 3 4 1 128"/><path d="M0 89h105" stroke-dasharray="0 3 2 1 47 1 20 1 1 134"/><path d="M0 90h105" stroke-dasharray="0 1 1 1 1 1 1 1 1 1 1 1 38 1 4 1 16 3 1 1 1 1 1 131"/><path d="M0 91h105" stroke-dasharray="0 3 1 1 1 4 2 1 34 1 1 1 3 1 2 1 1 1 3 6 3 2 2 135"/><path d="M0 92h105" stroke-dasharray="0 4 2 1 7 1 25 2 2 1 4 2 1 3 4 2 6 1 3 2 1 136"/><path d="M0 93h105" stroke-dasharray="0 6 2 1 1 1 12 1 19 5 4 1 1 1 2 1 1 3 1 1 3 2 1 6 1 133"/><path d="M0 94h105" stroke-dasharray="0 4 1 2 1 1 2 1 2 1 3 1 19 6 1 3 6 5 3 2 1 2 1 2 1 6 1 132"/><path d="M0 95h105" stroke-dasharray="0 9 2 2 2 1 18 1 2 4 3 1 3 1 1 1 1 4 1 1 1 3 3 1 1 7 1 135"/><path d="M0 96h105" stroke-dasharray="0 12 3 2 12 2 9 2 1 6 1 2 1 3 1 3 1 1 1 147"/><path d="M0 97h105" stroke-dasharray="0 5 1 3 1 1 2 2 1 1 2 1 1 1 1 3 2 1 1 1 7 1 1 4 1 11 1 4 1 3 1 2 1 3 1 1 1 135"/><path d="M0 98h105" stroke-dasharray="0 10 1 2 4 1 1 1 1 1 1 1 3 1 4 2 2 3 1 1 1 11 1 6 1 149"/><path d="M0 99h105" stroke-dasharray="0 17 1 3 1 2 3 1 1 4 1 2 1 2 1 9 1 4 1 2 1 3 1 148"/><path d="M0 100h105" stroke-dasharray="0 8 1 7 1 4 2 1 1 2 2 5 1 1 2 28 1 143"/><path d="M0 101h105" stroke-dasharray="0 12 1 5 2 1 2 1 2 3 1 10 1 169"/><path d="M0 102h105" stroke-dasharray="0 7 1 5 1 6 1 1 1 4 1 1 1 3 1 176"/><path d="M0 103h105" stroke-dasharray="0 23 1 4 1 181"/><path d="M0 104h105" stroke-dasharray="0 40 1 169"/></g><g transform="translate(225.5 189.75) scale(0.5)" stroke="#000" stroke-width="1" fill="none"><path d="M0 14h211" stroke-dasharray="0 23 2 45 2 350"/><path d="M0 27h211" stroke-dasharray="0 61 2 359"/><path d="M0 28h211" stroke-dasharray="0 24 2 396"/><path d="M0 31h211" stroke-dasharray="0 8 2 412"/><path d="M0 33h211" stroke-dasharray="0 31 2 3 2 384"/><path d="M0 35h211" stroke-dasharray="0 47 2 373"/><path d="M0 39h211" stroke-dasharray="0 33 2 387"/><path d="M0 40h211" stroke-dasharray="0 51 2 369"/><path d="M0 42h211" stroke-dasharray="0 1 2 18 2 20 2 9 2 366"/><path d="M0 44h211" stroke-dasharray="0 31 2 27 2 360"/><path d="M0 45h211" stroke-dasharray="0 9 2 45 2 364"/><path d="M0 46h211" stroke-dasharray="0 8 2 13 2 3 2 9 2 31 2 10 2 336"/><path d="M0 47h211" stroke-dasharray="0 3 2 73 2 6 2 334"/><path d="M0 48h211" stroke-dasharray="0 82 2 338"/><path d="M0 49h211" stroke-dasharray="0 26 2 2 2 31 2 357"/><path d="M0 51h211" stroke-dasharray="0 22 2 16 2 13 2 9 2 11 2 73 2 266"/><path d="M0 52h211" stroke-dasharray="0 1 2 17 2 10 2 21 2 15 2 348"/><path d="M0 53h211" stroke-dasharray="0 17 2 23 2 11 2 9 2 5 2 5 2 340"/><path d="M0 54h211" stroke-dasharray="0 38 2 6 2 1 2 4 3 3 2 1 2 356"/><path d="M0 55h211" stroke-dasharray="0 33 2 40 2 15 2 328"/><path d="M0 56h211" stroke-dasharray="0 26 2 28 2 9 2 1 2 10 2 338"/><path d="M0 57h211" stroke-dasharray="0 3 2 4 4 2 2 22 2 7 2 7 2 3 2 20 2 336"/><path d="M0 58h211" stroke-dasharray="0 26 2 19 2 3 2 2 3 4 2 6 4 3 2 11 2 43 2 284"/><path d="M0 59h211" stroke-dasharray="0 16 2 29 2 19 3 1 2 348"/><path d="M0 60h211" stroke-dasharray="0 11 2 23 2 10 3 7 2 2 2 1 2 1 2 2 2 6 2 340"/><path d="M0 61h211" stroke-dasharray="0 6 2 1 2 12 2 11 2 12 4 1 2 1 2 1 4 1 6 4 2 9 2 1 2 330"/><path d="M0 62h211" stroke-dasharray="0 24 4 15 3 4 2 9 3 11 2 3 2 12 2 16 2 308"/><path d="M0 63h211" stroke-dasharray="0 9 2 11 2 2 3 7 2 12 4 7 2 2 2 7 2 2 3 3 3 2 2 12 2 317"/><path d="M0 64h211" stroke-dasharray="0 8 2 8 5 3 2 7 2 2 2 2 2 6 2 1 3 1 3 3 5 2 5 10 2 8 2 2 2 320"/><path d="M0 65h211" stroke-dasharray="0 32 2 3 4 2 5 7 2 4 2 4 5 2 5 2 2 5 2 13 2 317"/><path d="M0 66h211" stroke-dasharray="0 3 2 9 2 3 3 9 2 5 4 1 4 8 2 2 6 1 8 3 6 1 2 3 2 331"/><path d="M0 67h211" stroke-dasharray="0 17 4 8 2 4 7 3 3 1 20 1 4 5 2 13 2 42 2 282"/><path d="M0 68h211" stroke-dasharray="0 26 2 2 3 3 4 3 2 1 4 2 9 3 10 2 2 10 7 38 2 287"/><path d="M0 69h211" stroke-dasharray="0 31 6 1 2 2 20 2 6 3 5 6 2 4 4 328"/><path d="M0 70h211" stroke-dasharray="0 11 3 5 2 3 4 6 2 5 6 2 2 5 15 1 5 1 3 7 2 332"/><path d="M0 71h211" stroke-dasharray="0 17 2 4 2 8 2 7 5 2 15 1 16 5 2 5 2 1 2 324"/><path d="M0 72h211" stroke-dasharray="0 14 2 2 2 4 2 9 11 4 7 1 6 1 10 2 4 2 2 2 2 1 4 5 2 16 2 303"/><path d="M0 73h211" stroke-dasharray="0 1 2 15 2 11 4 8 2 5 3 1 3 1 11 1 5 4 8 2 5 1 2 22 2 49 2 250"/><path d="M0 74h211" stroke-dasharray="0 7 3 2 2 1 2 13 2 1 4 1 2 1 2 1 4 2 7 1 9 1 17 10 2 24 2 3 2 294"/><path d="M0 75h211" stroke-dasharray="0 13 5 9 4 1 2 3 21 1 2 1 4 1 3 2 4 1 8 22 2 2 2 31 2 276"/><path d="M0 76h211" stroke-dasharray="0 9 2 6 2 2 2 5 2 5 2 3 10 2 13 2 2 3 8 2 3 2 2 5 2 1 2 2 2 319"/><path d="M0 77h211" stroke-dasharray="2 10 3 1 2 5 5 3 3 2 2 1 3 3 21 1 2 1 15 3 2 52 2 278"/><path d="M0 78h211" stroke-dasharray="0 8 4 6 3 13 5 1 2 1 4 1 6 1 26 2 4 42 3 290"/><path d="M0 79h211" stroke-dasharray="0 2 2 1 8 2 2 2 7 3 2 2 6 1 43 3 3 1 4 2 2 4 2 28 3 3 2 1 2 279"/><path d="M0 80h211" stroke-dasharray="0 1 2 2 2 16 4 6 3 1 2 2 8 1 34 2 5 7 3 23 2 2 2 5 2 285"/><path d="M0 81h211" stroke-dasharray="0 3 2 7 2 5 3 2 3 7 7 2 34 1 5 3 4 1 6 19 2 304"/><path d="M0 82h211" stroke-dasharray="0 3 2 1 4 7 2 4 2 1 5 1 2 2 4 3 40 4 8 16 2 309"/><path d="M0 83h211" stroke-dasharray="0 6 2 1 2 1 2 3 2 1 2 4 7 3 3 1 2 1 2 3 25 2 4 1 14 13 2 63 2 248"/><path d="M0 84h211" stroke-dasharray="0 10 2 2 6 1 5 8 4 2 6 2 27 1 10 2 4 1 2 24 4 2 2 2 2 291"/><path d="M0 85h211" stroke-dasharray="0 7 2 6 2 8 2 1 3 3 16 1 32 1 4 1 3 2 2 2 2 2 2 8 2 1 2 305"/><path d="M0 86h211" stroke-dasharray="0 2 2 12 2 8 3 2 4 1 3 3 45 5 4 33 2 291"/><path d="M0 87h211" stroke-dasharray="2 4 2 6 6 1 7 3 2 3 2 2 4 2 28 1 13 1 4 3 4 8 2 1 2 18 2 7 2 29 2 249"/><path d="M0 88h211" stroke-dasharray="0 8 2 3 2 8 3 3 4 1 2 1 2 1 51 5 2 2 4 7 2 6 2 301"/><path d="M0 89h211" stroke-dasharray="0 6 2 1 2 2 2 6 2 4 6 1 2 1 2 4 43 1 6 42 2 22 2 261"/><path d="M0 90h211" stroke-dasharray="0 1 2 2 3 1 3 2 3 3 2 1 2 2 7 1 2 4 2 2 32 1 2 1 4 5 3 14 6 6 2 301"/><path d="M0 91h211" stroke-dasharray="0 18 2 1 2 1 3 1 8 1 2 2 10 1 33 2 3 1 4 1 2 1 2 13 2 21 2 33 2 248"/><path d="M0 92h211" stroke-dasharray="0 7 4 1 2 3 2 6 2 1 5 4 2 3 53 1 4 5 2 4 4 13 3 2 2 287"/><path d="M0 93h211" stroke-dasharray="0 7 5 8 2 2 2 4 2 4 57 5 2 2 2 1 2 3 2 12 2 11 2 283"/><path d="M0 94h211" stroke-dasharray="0 1 2 7 2 6 4 6 6 1 8 1 44 2 5 15 2 1 2 5 2 12 2 2 2 282"/><path d="M0 95h211" stroke-dasharray="2 13 6 1 9 1 51 1 4 2 5 4 2 1 4 8 2 3 2 301"/><path d="M0 96h211" stroke-dasharray="3 8 3 1 2 1 2 1 4 1 5 2 57 2 5 4 2 8 2 34 2 2 4 267"/><path d="M0 97h211" stroke-dasharray="0 1 2 1 2 1 2 1 2 5 2 1 23 3 39 2 3 29 2 8 2 8 2 28 2 251"/><path d="M0 98h211" stroke-dasharray="0 2 2 13 6 2 2 1 5 1 52 1 5 3 3 4 2 8 2 23 2 3 2 278"/><path d="M0 99h211" stroke-dasharray="0 11 3 5 2 7 9 2 47 1 4 2 2 8 2 4 2 3 2 20 2 8 2 274"/><path d="M0 100h211" stroke-dasharray="10 6 3 1 8 1 7 2 9 1 42 1 5 2 2 2 2 16 2 13 2 285"/><path d="M0 101h211" stroke-dasharray="4 1 2 1 2 3 2 1 2 1 3 7 2 1 4 1 24 1 28 1 6 3 2 1 6 10 2 11 9 281"/><path d="M0 102h211" stroke-dasharray="0 5 2 4 3 5 4 1 16 1 20 2 27 2 4 1 3 3 2 9 4 8 2 13 2 2 2 1 2 272"/><path d="M0 103h211" stroke-dasharray="0 3 10 1 3 4 2 2 54 1 16 8 6 2 4 4 2 14 2 284"/><path d="M0 104h211" stroke-dasharray="0 5 2 1 2 1 8 1 61 1 6 1 5 1 4 12 2 1 2 4 2 1 2 10 6 4 2 4 2 269"/><path d="M0 105h211" stroke-dasharray="0 1 2 5 2 5 2 1 9 1 61 2 3 1 5 1 4 2 2 1 2 1 3 21 2 4 2 277"/><path d="M0 106h211" stroke-dasharray="8 5 2 5 16 1 49 1 3 2 6 11 2 1 2 1 3 2 2 4 2 3 2 21 2 1 2 263"/><path d="M0 107h211" stroke-dasharray="0 2 4 7 4 3 5 1 9 3 38 1 15 1 2 1 2 9 2 11 2 9 4 3 2 3 7 27 2 243"/><path d="M0 108h211" stroke-dasharray="6 3 2 6 2 2 11 1 2 3 2 1 56 1 5 6 2 2 4 8 2 19 2 274"/><path d="M0 109h211" stroke-dasharray="2 11 3 2 4 1 4 1 4 1 6 1 2 1 40 1 7 12 7 3 2 13 2 7 4 11 2 21 2 245"/><path d="M0 110h211" stroke-dasharray="0 1 6 1 2 3 2 3 2 1 6 3 4 1 8 1 40 1 6 2 2 3 6 4 3 4 4 1 2 1 4 2 2 7 4 2 2 8 2 266"/><path d="M0 111h211" stroke-dasharray="3 1 4 1 2 12 5 4 2 1 58 1 5 2 2 9 4 4 2 3 2 2 3 8 3 1 3 4 2 12 2 255"/><path d="M0 112h211" stroke-dasharray="12 3 5 1 3 2 56 1 7 1 8 3 4 5 4 7 2 3 2 3 5 7 2 23 2 3 2 246"/><path d="M0 113h211" stroke-dasharray="0 2 2 3 6 1 2 3 5 1 17 1 35 1 11 1 3 4 4 3 2 2 2 1 2 1 2 1 4 2 3 1 4 6 4 4 2 5 4 11 2 252"/><path d="M0 114h211" stroke-dasharray="0 4 2 4 23 1 22 1 32 1 3 8 4 4 2 3 2 3 2 1 2 4 4 3 2 10 2 16 4 253"/><path d="M0 115h211" stroke-dasharray="0 3 2 1 2 3 4 1 2 1 2 2 5 1 5 1 2 1 13 1 43 6 6 2 2 2 3 1 2 3 5 2 5 1 2 2 3 5 4 2 2 6 2 5 2 15 2 235"/><path d="M0 116h211" stroke-dasharray="0 2 2 1 2 3 2 1 2 1 2 2 5 1 14 1 10 2 19 1 14 7 2 2 5 2 2 3 6 4 9 3 2 2 2 3 2 2 2 1 4 7 2 18 2 241"/><path d="M0 117h211" stroke-dasharray="0 1 3 5 6 1 2 3 19 1 11 1 34 5 3 10 2 3 8 3 5 1 2 3 10 5 2 2 2 3 2 264"/><path d="M0 118h211" stroke-dasharray="2 3 5 5 3 1 2 1 4 1 4 1 3 1 47 1 2 3 5 1 2 10 2 1 4 2 2 3 3 3 2 9 2 9 5 30 2 236"/><path d="M0 119h211" stroke-dasharray="0 2 2 1 7 3 8 1 9 3 2 1 4 1 31 1 7 3 7 4 2 8 6 15 4 1 5 4 3 3 2 8 2 11 2 249"/><path d="M0 120h211" stroke-dasharray="10 5 7 2 5 1 11 1 35 1 3 2 6 1 5 3 3 2 5 3 15 2 5 2 3 2 4 2 2 3 4 5 2 260"/><path d="M0 121h211" stroke-dasharray="0 5 5 1 4 5 21 1 29 1 19 1 5 1 2 3 8 4 18 2 2 3 2 4 4 5 2 10 2 253"/><path d="M0 122h211" stroke-dasharray="4 3 6 2 5 1 4 2 2 1 18 1 48 4 9 1 2 5 9 1 2 7 4 5 2 1 5 2 2 5 2 257"/><path d="M0 123h211" stroke-dasharray="0 1 4 2 2 1 4 2 4 3 2 5 3 2 7 2 4 1 31 1 10 3 4 5 4 1 2 1 2 4 11 1 5 1 2 1 3 1 5 2 3 17 2 17 2 232"/><path d="M0 124h211" stroke-dasharray="0 10 4 2 11 2 6 1 35 1 5 2 11 2 4 2 5 2 2 1 4 4 2 3 2 2 11 2 3 2 4 2 4 2 2 265"/><path d="M0 125h211" stroke-dasharray="0 9 2 2 2 3 9 2 7 1 36 1 2 1 5 1 6 2 2 1 2 1 3 1 14 1 3 1 9 1 3 3 9 1 4 1 2 12 2 10 2 243"/><path d="M0 126h211" stroke-dasharray="0 1 7 4 2 4 6 1 11 1 25 1 6 1 10 3 5 2 6 1 5 1 3 1 7 1 18 1 6 1 4 2 8 6 2 259"/><path d="M0 127h211" stroke-dasharray="4 1 5 3 2 2 18 2 40 1 3 2 2 1 2 1 7 1 6 2 12 1 18 2 2 1 2 2 3 3 3 268"/><path d="M0 128h211" stroke-dasharray="0 1 4 1 3 2 2 2 4 1 9 3 4 1 2 3 21 1 19 4 4 1 3 2 6 2 10 1 12 1 12 2 2 4 2 5 2 11 2 10 2 239"/><path d="M0 129h211" stroke-dasharray="2 2 2 3 3 6 67 2 7 1 2 1 3 1 12 2 2 1 6 2 4 1 11 1 2 2 7 2 3 4 2 4 3 11 2 236"/><path d="M0 130h211" stroke-dasharray="0 2 4 2 2 1 2 1 18 1 40 1 27 1 9 1 13 1 17 1 2 1 13 2 2 8 2 28 2 218"/><path d="M0 131h211" stroke-dasharray="0 2 2 2 4 1 2 2 2 2 55 2 69 1 3 1 11 5 4 252"/><path d="M0 132h211" stroke-dasharray="0 1 2 1 2 2 2 3 4 5 5 1 46 1 47 1 10 1 15 1 5 1 5 10 2 9 2 238"/><path d="M0 133h211" stroke-dasharray="0 3 3 3 11 1 6 1 80 1 8 1 15 1 9 1 5 1 3 2 4 1 4 2 2 3 3 248"/><path d="M0 134h211" stroke-dasharray="6 2 5 2 5 1 60 2 7 1 53 2 16 2 2 14 2 240"/><path d="M0 135h211" stroke-dasharray="2 1 7 5 4 1 3 1 57 1 9 2 64 4 2 1 2 36 2 218"/><path d="M0 136h211" stroke-dasharray="2 2 5 1 4 1 7 2 6 1 61 1 5 2 47 1 11 6 3 1 2 1 2 248"/><path d="M0 137h211" stroke-dasharray="0 6 6 4 2 1 3 1 74 1 21 1 7 1 8 1 5 1 8 1 10 1 4 1 4 8 2 5 2 233"/><path d="M0 138h211" stroke-dasharray="0 1 5 1 15 1 133 4 4 24 2 232"/><path d="M0 139h211" stroke-dasharray="2 2 2 2 2 2 97 1 18 1 5 2 14 1 3 1 9 4 2 5 2 5 2 238"/><path d="M0 140h211" stroke-dasharray="2 1 3 1 2 1 9 2 128 2 3 2 7 1 2 3 6 247"/><path d="M0 141h211" stroke-dasharray="0 4 2 1 3 2 2 1 12 1 2 1 108 1 9 2 4 2 3 3 5 4 2 248"/><path d="M0 142h211" stroke-dasharray="6 1 2 1 120 1 21 1 2 10 7 1 2 7 2 238"/><path d="M0 143h211" stroke-dasharray="5 1 3 1 2 1 142 3 2 1 4 10 2 2 2 241"/><path d="M0 144h211" stroke-dasharray="0 2 3 1 117 1 25 2 14 257"/><path d="M0 145h211" stroke-dasharray="0 1 3 1 14 3 15 1 110 1 2 1 8 3 4 1 2 16 2 234"/><path d="M0 146h211" stroke-dasharray="0 1 79 1 75 2 5 5 2 3 3 246"/><path d="M0 147h211" stroke-dasharray="0 4 2 1 7 1 152 1 3 251"/><path d="M0 148h211" stroke-dasharray="0 3 2 1 2 3 155 2 5 1 2 246"/><path d="M0 149h211" stroke-dasharray="26 1 114 1 6 1 6 1 3 1 8 5 4 245"/><path d="M0 150h211" stroke-dasharray="5 1 8 1 140 2 7 9 3 6 2 11 2 225"/><path d="M0 151h211" stroke-dasharray="6 3 6 1 133 1 9 3 6 1 2 1 2 10 2 7 2 227"/><path d="M0 152h211" stroke-dasharray="7 2 133 1 2 1 12 1 2 2 2 1 5 5 2 244"/><path d="M0 153h211" stroke-dasharray="5 5 6 1 128 1 6 1 4 2 9 13 2 239"/><path d="M0 154h211" stroke-dasharray="2 2 2 4 6 1 141 2 4 1 5 5 3 1 2 10 2 229"/><path d="M0 155h211" stroke-dasharray="0 2 4 1 2 1 6 1 146 2 2 6 2 1 2 1 4 3 2 5 2 227"/><path d="M0 156h211" stroke-dasharray="9 1 147 1 4 4 2 3 2 6 2 241"/><path d="M0 157h211" stroke-dasharray="0 3 6 1 5 1 151 10 2 243"/><path d="M0 158h211" stroke-dasharray="9 1 5 1 131 1 22 4 2 7 2 237"/><path d="M0 159h211" stroke-dasharray="0 1 7 3 2 2 152 2 3 2 2 246"/><path d="M0 160h211" stroke-dasharray="0 3 2 1 2 1 5 1 139 1 13 1 2 5 2 4 2 238"/><path d="M0 161h211" stroke-dasharray="154 1 5 1 2 5 4 1 2 2 2 243"/><path d="M0 162h211" stroke-dasharray="0 1 149 1 6 1 3 3 2 1 5 3 2 245"/><path d="M0 163h211" stroke-dasharray="4 1 3 2 112 1 45 1 3 1 2 247"/><path d="M0 164h211" stroke-dasharray="0 8 2 1 152 4 4 3 2 246"/><path d="M0 165h211" stroke-dasharray="5 1 141 1 15 2 5 4 2 4 2 17 2 221"/><path d="M0 166h211" stroke-dasharray="0 3 2 1 2 1 111 1 41 3 2 1 4 5 2 243"/><path d="M0 167h211" stroke-dasharray="0 6 2 1 148 2 2 4 2 1 7 1 2 244"/><path d="M0 168h211" stroke-dasharray="2 7 151 12 2 248"/><path d="M0 169h211" stroke-dasharray="6 2 12 1 89 1 47 2 3 2 6 13 2 236"/><path d="M0 170h211" stroke-dasharray="2 1 4 1 144 3 2 4 3 9 2 4 2 241"/><path d="M0 171h211" stroke-dasharray="0 2 151 2 5 5 5 1 3 248"/><path d="M0 172h211" stroke-dasharray="0 2 3 2 142 1 3 2 2 1 3 2 7 252"/><path d="M0 173h211" stroke-dasharray="0 1 2 6 130 3 8 4 8 7 2 3 2 246"/><path d="M0 174h211" stroke-dasharray="0 1 2 1 2 1 152 1 2 2 2 2 2 3 2 247"/><path d="M0 175h211" stroke-dasharray="0 7 9 1 2 1 7 1 79 1 40 1 9 1 7 1 2 253"/><path d="M0 176h211" stroke-dasharray="4 1 19 1 119 1 9 7 2 1 2 1 4 15 2 234"/><path d="M0 177h211" stroke-dasharray="0 1 2 3 97 1 8 1 30 2 11 2 2 1 4 1 6 250"/><path d="M0 178h211" stroke-dasharray="0 3 2 1 7 1 94 1 39 1 8 2 2 2 4 17 2 2 2 232"/><path d="M0 179h211" stroke-dasharray="0 2 3 1 101 2 40 1 6 3 3 4 2 254"/><path d="M0 180h211" stroke-dasharray="0 6 5 1 137 1 4 2 2 6 2 256"/><path d="M0 181h211" stroke-dasharray="5 1 7 1 3 2 80 1 9 1 34 1 14 4 2 257"/><path d="M0 182h211" stroke-dasharray="0 2 8 1 3 1 6 1 121 3 2 1 3 1 2 1 4 1 2 5 2 4 2 246"/><path d="M0 183h211" stroke-dasharray="0 4 11 2 3 1 92 1 3 1 7 5 4 2 8 2 5 1 2 2 2 10 2 252"/><path d="M0 184h211" stroke-dasharray="4 2 4 1 3 4 8 1 69 1 3 1 6 1 23 1 2 2 8 1 6 1 2 6 2 5 2 253"/><path d="M0 185h211" stroke-dasharray="0 6 2 1 20 1 69 3 5 4 8 1 15 1 7 2 4 2 2 5 2 3 2 1 2 254"/><path d="M0 186h211" stroke-dasharray="0 7 7 1 14 1 52 2 5 1 16 2 12 3 23 1 3 7 3 4 5 3 2 248"/><path d="M0 187h211" stroke-dasharray="3 4 2 3 10 1 24 1 40 2 16 1 9 1 3 3 5 1 12 2 3 1 2 3 4 7 2 11 2 244"/><path d="M0 188h211" stroke-dasharray="0 11 7 1 68 1 4 2 2 1 12 1 12 2 3 1 8 2 3 1 2 1 2 3 5 267"/><path d="M0 189h211" stroke-dasharray="0 7 4 2 4 2 18 1 45 1 2 2 3 3 2 1 13 4 2 3 7 2 3 1 5 1 6 1 7 1 4 265"/><path d="M0 190h211" stroke-dasharray="0 8 3 4 2 1 5 1 6 1 47 2 2 2 2 3 5 1 17 1 3 1 8 1 7 2 2 1 2 1 3 6 2 2 4 6 2 7 2 1 2 244"/><path d="M0 191h211" stroke-dasharray="0 12 2 5 4 1 2 1 42 1 10 3 22 3 2 3 3 1 3 3 9 1 2 2 3 1 4 3 3 1 2 2 2 7 2 255"/><path d="M0 192h211" stroke-dasharray="3 4 2 1 2 2 2 3 12 2 43 2 3 2 6 1 7 1 4 1 7 1 4 1 7 1 11 7 2 5 2 5 3 1 2 260"/><path d="M0 193h211" stroke-dasharray="0 4 2 10 4 1 10 2 48 4 2 5 15 3 2 1 3 1 6 2 4 1 5 1 2 2 2 6 2 3 3 266"/><path d="M0 194h211" stroke-dasharray="0 3 2 8 4 1 4 2 9 1 26 2 20 2 5 2 2 6 3 3 4 1 5 1 2 3 6 2 2 5 8 3 2 2 2 6 2 3 2 256"/><path d="M0 195h211" stroke-dasharray="0 1 2 7 4 2 2 1 8 4 18 1 7 1 3 1 15 1 4 3 7 1 2 1 5 7 2 3 2 2 2 4 2 2 2 1 3 4 4 4 2 1 4 1 2 267"/><path d="M0 196h211" stroke-dasharray="0 6 2 3 2 2 2 1 3 1 5 4 3 1 4 2 2 1 4 1 2 2 24 1 4 6 3 9 2 2 4 2 2 1 2 8 4 2 5 1 4 2 6 1 5 11 2 9 2 245"/><path d="M0 197h211" stroke-dasharray="0 7 2 6 2 4 3 3 9 1 2 2 2 1 3 2 17 2 9 1 3 1 4 1 5 3 2 3 6 1 2 3 2 1 3 2 7 3 2 2 2 4 2 10 2 4 2 1 4 257"/><path d="M0 198h211" stroke-dasharray="0 2 4 2 2 2 2 6 4 3 8 2 6 1 3 2 6 1 18 4 4 1 4 12 3 3 9 7 2 6 2 13 2 1 2 11 2 6 2 252"/><path d="M0 199h211" stroke-dasharray="0 7 2 4 2 1 11 1 2 3 5 3 5 2 7 1 4 1 2 2 5 1 5 2 4 2 4 3 2 1 10 1 2 1 5 2 2 3 2 1 2 14 4 7 2 7 2 261"/><path d="M0 200h211" stroke-dasharray="0 4 2 4 4 6 2 9 3 1 4 3 6 1 13 4 5 1 3 4 2 2 2 1 6 2 2 2 3 8 2 2 4 6 2 2 2 2 4 2 2 28 2 253"/><path d="M0 201h211" stroke-dasharray="4 13 3 2 3 1 2 1 6 3 2 2 5 1 4 1 6 1 2 3 2 1 10 1 4 1 2 1 3 2 2 22 2 5 2 8 2 4 2 1 2 278"/><path d="M0 202h211" stroke-dasharray="0 16 4 6 2 4 7 1 7 2 5 1 4 5 2 2 3 1 6 11 3 10 2 3 2 5 2 6 2 3 3 3 3 8 2 5 2 14 2 3 2 248"/><path d="M0 203h211" stroke-dasharray="0 9 4 12 8 3 18 5 5 5 2 10 2 3 5 12 2 7 2 5 2 14 3 19 2 4 2 257"/><path d="M0 204h211" stroke-dasharray="0 19 2 3 4 5 2 1 5 1 6 1 7 1 5 11 2 4 4 12 2 10 2 3 2 12 3 15 4 274"/><path d="M0 205h211" stroke-dasharray="0 10 2 3 4 7 4 5 4 1 4 1 12 1 4 4 4 6 2 1 2 6 2 2 2 4 4 31 2 1 2 1 2 31 2 249"/><path d="M0 206h211" stroke-dasharray="0 14 4 9 2 1 4 2 2 2 8 4 2 1 7 3 10 3 2 1 2 3 2 22 2 32 2 276"/><path d="M0 207h211" stroke-dasharray="0 24 2 2 2 2 2 13 2 8 2 8 2 12 2 15 2 10 3 2 2 2 2 5 2 17 2 275"/><path d="M0 208h211" stroke-dasharray="0 17 2 8 2 2 3 1 2 2 4 4 2 3 9 1 2 7 2 22 2 26 2 3 2 5 2 285"/><path d="M0 209h211" stroke-dasharray="0 6 2 8 2 5 2 3 2 5 2 5 2 6 2 3 2 1 2 3 2 2 2 3 4 5 2 3 5 12 2 10 2 3 5 1 2 13 2 279"/><path d="M0 210h211" stroke-dasharray="0 21 2 17 2 2 2 4 3 3 2 3 3 1 2 10 2 1 6 4 2 24 4 9 2 11 2 278"/><path d="M0 211h211" stroke-dasharray="0 32 2 2 3 3 4 11 2 2 2 1 2 8 2 6 2 13 2 323"/><path d="M0 212h211" stroke-dasharray="0 2 2 11 2 4 2 2 3 3 3 7 2 3 2 7 2 3 2 1 2 2 2 5 4 15 2 46 2 6 2 271"/></g>
<rect x="225.7" y="189.7" width="105.32" height="106.3" fill="none" stroke="#000" stroke-width="2.3"/>
<path d="M222.3 296L225.7 296" stroke="#000" stroke-width="1.6" stroke-linecap="butt"/>
<path d="M225.7 296L225.7 299.4" stroke="#000" stroke-width="1.6" stroke-linecap="butt"/>
<text x="215" y="301.4" font-size="11.6" text-anchor="end" textLength="11.2" lengthAdjust="spacingAndGlyphs" stroke="#000" stroke-width=".3">10</text>
<text x="215.2" y="294.1" font-size="9.8" text-anchor="start" stroke="#000" stroke-width=".25">0</text>
<text x="230.7" y="311.6" font-size="11.6" text-anchor="end" textLength="11.2" lengthAdjust="spacingAndGlyphs" stroke="#000" stroke-width=".3">10</text>
<text x="230.6" y="304.9" font-size="9.8" text-anchor="start" stroke="#000" stroke-width=".25">0</text>
<path d="M222.3 269.43L225.7 269.43" stroke="#000" stroke-width="1.6" stroke-linecap="butt"/>
<path d="M252.03 296L252.03 299.4" stroke="#000" stroke-width="1.6" stroke-linecap="butt"/>
<text x="215" y="274.82" font-size="11.6" text-anchor="end" textLength="11.2" lengthAdjust="spacingAndGlyphs" stroke="#000" stroke-width=".3">10</text>
<text x="215.2" y="267.53" font-size="9.8" text-anchor="start" stroke="#000" stroke-width=".25">1</text>
<text x="257.03" y="311.6" font-size="11.6" text-anchor="end" textLength="11.2" lengthAdjust="spacingAndGlyphs" stroke="#000" stroke-width=".3">10</text>
<text x="256.93" y="304.9" font-size="9.8" text-anchor="start" stroke="#000" stroke-width=".25">1</text>
<path d="M222.3 242.85L225.7 242.85" stroke="#000" stroke-width="1.6" stroke-linecap="butt"/>
<path d="M278.36 296L278.36 299.4" stroke="#000" stroke-width="1.6" stroke-linecap="butt"/>
<text x="215" y="248.25" font-size="11.6" text-anchor="end" textLength="11.2" lengthAdjust="spacingAndGlyphs" stroke="#000" stroke-width=".3">10</text>
<text x="215.2" y="240.95" font-size="9.8" text-anchor="start" stroke="#000" stroke-width=".25">2</text>
<text x="283.36" y="311.6" font-size="11.6" text-anchor="end" textLength="11.2" lengthAdjust="spacingAndGlyphs" stroke="#000" stroke-width=".3">10</text>
<text x="283.26" y="304.9" font-size="9.8" text-anchor="start" stroke="#000" stroke-width=".25">2</text>
<path d="M222.3 216.28L225.7 216.28" stroke="#000" stroke-width="1.6" stroke-linecap="butt"/>
<path d="M304.69 296L304.69 299.4" stroke="#000" stroke-width="1.6" stroke-linecap="butt"/>
<text x="215" y="221.68" font-size="11.6" text-anchor="end" textLength="11.2" lengthAdjust="spacingAndGlyphs" stroke="#000" stroke-width=".3">10</text>
<text x="215.2" y="214.38" font-size="9.8" text-anchor="start" stroke="#000" stroke-width=".25">3</text>
<text x="309.69" y="311.6" font-size="11.6" text-anchor="end" textLength="11.2" lengthAdjust="spacingAndGlyphs" stroke="#000" stroke-width=".3">10</text>
<text x="309.59" y="304.9" font-size="9.8" text-anchor="start" stroke="#000" stroke-width=".25">3</text>
<path d="M222.3 189.7L225.7 189.7" stroke="#000" stroke-width="1.6" stroke-linecap="butt"/>
<path d="M331.02 296L331.02 299.4" stroke="#000" stroke-width="1.6" stroke-linecap="butt"/>
<text x="215" y="195.1" font-size="11.6" text-anchor="end" textLength="11.2" lengthAdjust="spacingAndGlyphs" stroke="#000" stroke-width=".3">10</text>
<text x="215.2" y="187.8" font-size="9.8" text-anchor="start" stroke="#000" stroke-width=".25">4</text>
<text x="336.02" y="311.6" font-size="11.6" text-anchor="end" textLength="11.2" lengthAdjust="spacingAndGlyphs" stroke="#000" stroke-width=".3">10</text>
<text x="335.92" y="304.9" font-size="9.8" text-anchor="start" stroke="#000" stroke-width=".25">4</text>
<rect x="273.1" y="213.3" width="47" height="28.4" fill="none" stroke="#000" stroke-width="2"/>
<text x="272.3" y="208.1" font-size="14.3" text-anchor="start" stroke="#000" stroke-width=".2">0.014</text>
<text x="278.96" y="184" font-size="15.7" text-anchor="middle">GFP</text>
</g>
<g>
<g transform="translate(367 190.5)" stroke="#000" stroke-width="1" fill="none" shape-rendering="crispEdges"><path d="M0 23h105" stroke-dasharray="0 28 1 181"/><path d="M0 27h105" stroke-dasharray="0 27 1 2 1 3 1 175"/><path d="M0 28h105" stroke-dasharray="0 30 1 8 1 170"/><path d="M0 29h105" stroke-dasharray="0 17 1 3 1 4 1 3 2 6 1 171"/><path d="M0 30h105" stroke-dasharray="0 24 1 1 1 4 1 1 1 2 1 173"/><path d="M0 31h105" stroke-dasharray="0 19 1 5 1 4 1 2 4 1 1 171"/><path d="M0 32h105" stroke-dasharray="0 18 3 5 2 2 3 3 1 1 1 171"/><path d="M0 33h105" stroke-dasharray="0 7 1 10 1 3 1 1 1 2 1 2 1 1 3 1 1 3 2 6 1 161"/><path d="M0 34h105" stroke-dasharray="0 17 3 1 2 1 3 3 13 17 1 149"/><path d="M0 35h105" stroke-dasharray="0 18 1 1 4 1 2 1 6 1 1 1 3 2 1 2 1 164"/><path d="M0 36h105" stroke-dasharray="0 14 1 1 3 1 2 1 2 1 3 1 5 2 4 4 1 164"/><path d="M0 37h105" stroke-dasharray="0 11 1 4 2 1 16 2 1 3 6 163"/><path d="M0 38h105" stroke-dasharray="0 5 1 8 2 1 5 1 13 1 3 2 3 1 1 15 1 8 1 138"/><path d="M0 39h105" stroke-dasharray="0 9 1 5 3 1 26 1 2 4 1 3 2 152"/><path d="M0 40h105" stroke-dasharray="0 11 35 6 2 1 1 3 1 21 1 128"/><path d="M0 41h105" stroke-dasharray="0 2 1 6 2 2 21 1 15 10 1 149"/><path d="M0 42h105" stroke-dasharray="0 2 1 2 2 6 1 1 30 1 5 11 2 146"/><path d="M0 43h105" stroke-dasharray="0 12 33 1 3 2 1 2 1 5 1 2 1 146"/><path d="M0 44h105" stroke-dasharray="0 14 34 1 3 158"/><path d="M0 45h105" stroke-dasharray="0 7 1 3 2 1 10 1 25 7 1 152"/><path d="M0 46h105" stroke-dasharray="0 5 1 2 1 2 1 1 32 3 1 161"/><path d="M0 47h105" stroke-dasharray="0 11 3 1 30 1 2 1 3 158"/><path d="M0 48h105" stroke-dasharray="0 8 1 2 1 1 1 1 33 162"/><path d="M0 49h105" stroke-dasharray="0 11 2 1 30 1 4 1 1 159"/><path d="M0 50h105" stroke-dasharray="0 6 1 3 38 1 1 160"/><path d="M0 51h105" stroke-dasharray="0 3 1 2 2 2 6 1 32 161"/><path d="M0 52h105" stroke-dasharray="0 10 1 1 1 1 32 7 1 156"/><path d="M0 53h105" stroke-dasharray="0 1 1 1 1 3 1 1 1 2 2 1 32 1 1 3 1 157"/><path d="M0 54h105" stroke-dasharray="0 1 3 3 3 1 4 2 1 1 4 1 16 1 3 5 1 160"/><path d="M0 55h105" stroke-dasharray="0 2 1 1 1 1 1 2 1 1 1 1 1 1 2 2 26 1 2 162"/><path d="M0 56h105" stroke-dasharray="0 6 2 1 3 3 2 2 22 1 1 3 1 5 1 157"/><path d="M0 57h105" stroke-dasharray="0 2 2 1 1 1 3 2 3 1 26 1 2 2 1 3 1 3 1 154"/><path d="M0 58h105" stroke-dasharray="0 1 1 4 5 1 2 1 29 4 1 1 1 10 1 148"/><path d="M0 59h105" stroke-dasharray="0 8 1 1 4 2 7 1 20 2 1 4 1 4 1 153"/><path d="M0 60h105" stroke-dasharray="0 1 1 4 4 2 1 1 22 1 2 3 2 7 1 158"/><path d="M0 61h105" stroke-dasharray="1 4 1 1 1 2 4 1 18 1 5 2 1 7 2 159"/><path d="M0 62h105" stroke-dasharray="0 3 1 1 2 1 4 1 1 1 17 1 5 3 3 2 3 8 1 25 1 126"/><path d="M0 63h105" stroke-dasharray="0 1 1 2 1 2 2 1 11 1 21 1 1 4 2 4 1 154"/><path d="M0 64h105" stroke-dasharray="1 3 1 1 2 1 3 2 24 2 1 1 2 2 1 163"/><path d="M0 65h105" stroke-dasharray="0 2 1 2 3 1 2 3 18 1 1 1 4 1 3 1 2 14 1 149"/><path d="M0 66h105" stroke-dasharray="0 4 3 1 31 1 3 6 1 7 1 152"/><path d="M0 67h105" stroke-dasharray="0 2 1 2 2 1 32 3 1 2 1 16 1 2 1 143"/><path d="M0 68h105" stroke-dasharray="1 3 8 1 26 2 1 1 1 1 1 4 1 159"/><path d="M0 69h105" stroke-dasharray="17 1 23 5 1 3 1 20 1 138"/><path d="M0 70h105" stroke-dasharray="0 1 1 1 1 1 38 2 1 4 1 6 1 9 1 3 1 8 1 129"/><path d="M0 71h105" stroke-dasharray="0 5 41 2 1 6 1 3 1 9 1 10 1 129"/><path d="M0 72h105" stroke-dasharray="43 2 1 1 1 4 2 12 1 143"/><path d="M0 73h105" stroke-dasharray="3 1 38 1 1 2 2 11 1 13 1 136"/><path d="M0 74h105" stroke-dasharray="1 2 4 1 31 1 1 2 4 9 1 6 1 146"/><path d="M0 75h105" stroke-dasharray="0 1 1 2 3 3 31 2 2 1 3 1 1 3 1 2 1 7 1 2 1 141"/><path d="M0 76h105" stroke-dasharray="0 4 33 1 3 2 1 14 2 28 1 121"/><path d="M0 77h105" stroke-dasharray="0 1 36 1 9 2 1 2 1 4 2 5 1 145"/><path d="M0 78h105" stroke-dasharray="0 2 43 3 1 13 1 17 1 2 1 126"/><path d="M0 79h105" stroke-dasharray="0 3 4 1 33 2 1 2 2 2 1 1 2 1 2 6 1 3 1 4 1 4 1 132"/><path d="M0 80h105" stroke-dasharray="1 2 41 1 1 4 1 1 2 16 1 139"/><path d="M0 81h105" stroke-dasharray="43 1 1 2 1 2 1 13 1 145"/><path d="M0 82h105" stroke-dasharray="0 1 2 1 4 1 31 1 2 1 1 2 1 7 1 28 1 125"/><path d="M0 83h105" stroke-dasharray="0 1 2 3 41 13 1 2 1 9 2 135"/><path d="M0 84h105" stroke-dasharray="0 1 1 1 3 1 35 1 2 4 1 12 1 15 1 1 1 6 1 122"/><path d="M0 85h105" stroke-dasharray="0 1 1 2 2 1 2 1 32 1 3 1 1 17 1 15 1 128"/><path d="M0 86h105" stroke-dasharray="0 2 5 1 32 1 5 13 1 11 1 138"/><path d="M0 87h105" stroke-dasharray="0 3 1 1 38 1 1 3 1 12 1 148"/><path d="M0 88h105" stroke-dasharray="0 3 40 3 3 16 1 3 1 7 1 132"/><path d="M0 89h105" stroke-dasharray="42 1 1 2 1 11 1 1 1 149"/><path d="M0 90h105" stroke-dasharray="0 4 1 1 38 36 1 129"/><path d="M0 91h105" stroke-dasharray="0 4 1 1 1 1 29 1 5 2 1 5 1 158"/><path d="M0 92h105" stroke-dasharray="0 2 4 1 33 1 1 2 1 3 1 10 2 149"/><path d="M0 93h105" stroke-dasharray="0 6 31 2 2 2 1 166"/><path d="M0 94h105" stroke-dasharray="0 3 1 1 3 1 31 6 1 36 1 126"/><path d="M0 95h105" stroke-dasharray="0 3 1 1 3 1 5 1 24 6 2 163"/><path d="M0 96h105" stroke-dasharray="0 6 1 2 25 1 3 172"/><path d="M0 97h105" stroke-dasharray="0 4 1 2 2 2 22 1 1 3 2 3 1 166"/><path d="M0 98h105" stroke-dasharray="0 6 2 1 1 1 14 1 6 4 3 2 1 168"/><path d="M0 99h105" stroke-dasharray="0 3 2 1 1 1 3 1 2 1 5 1 11 1 2 2 2 2 1 168"/><path d="M0 100h105" stroke-dasharray="0 6 1 1 3 1 3 1 12 1 4 1 1 3 1 171"/><path d="M0 101h105" stroke-dasharray="0 12 16 1 3 2 2 1 1 3 1 13 1 154"/><path d="M0 102h105" stroke-dasharray="0 10 1 5 1 2 5 1 1 2 3 4 1 1 2 171"/><path d="M0 103h105" stroke-dasharray="0 6 1 5 2 1 2 1 1 3 7 1 1 1 2 1 1 174"/><path d="M0 104h105" stroke-dasharray="0 22 4 1 1 1 1 1 2 177"/><path d="M0 105h105" stroke-dasharray="0 11 1 2 1 1 1 4 2 2 4 2 1 3 1 174"/></g><g transform="translate(366.5 189.75) scale(0.5)" stroke="#000" stroke-width="1" fill="none"><path d="M0 33h211" stroke-dasharray="0 57 2 363"/><path d="M0 35h211" stroke-dasharray="0 50 2 370"/><path d="M0 36h211" stroke-dasharray="0 5 2 18 2 395"/><path d="M0 38h211" stroke-dasharray="0 49 2 371"/><path d="M0 39h211" stroke-dasharray="0 50 2 10 2 358"/><path d="M0 41h211" stroke-dasharray="0 42 2 13 2 363"/><path d="M0 42h211" stroke-dasharray="0 43 2 38 2 337"/><path d="M0 43h211" stroke-dasharray="0 10 2 32 2 4 2 13 2 355"/><path d="M0 44h211" stroke-dasharray="0 34 2 10 2 8 2 14 2 348"/><path d="M0 45h211" stroke-dasharray="0 13 2 31 2 374"/><path d="M0 46h211" stroke-dasharray="0 24 2 1 2 3 2 15 2 3 2 9 2 355"/><path d="M0 47h211" stroke-dasharray="0 3 2 32 2 16 7 1 2 3 2 22 2 328"/><path d="M0 48h211" stroke-dasharray="0 36 2 12 2 5 2 1 2 10 2 348"/><path d="M0 49h211" stroke-dasharray="0 25 2 14 8 3 2 3 2 27 2 334"/><path d="M0 50h211" stroke-dasharray="0 31 2 29 2 3 2 15 2 336"/><path d="M0 51h211" stroke-dasharray="0 54 2 3 6 8 4 3 2 1 2 337"/><path d="M0 52h211" stroke-dasharray="0 42 3 15 2 17 2 341"/><path d="M0 53h211" stroke-dasharray="0 4 2 20 2 17 2 3 2 4 2 5 2 3 2 9 2 1 2 338"/><path d="M0 54h211" stroke-dasharray="0 20 2 22 2 8 2 2 2 1 3 3 2 11 2 8 3 329"/><path d="M0 55h211" stroke-dasharray="0 18 2 3 2 9 2 7 2 4 2 2 4 4 2 1 2 1 4 5 2 3 2 9 2 33 2 293"/><path d="M0 56h211" stroke-dasharray="0 35 4 3 2 11 2 3 4 1 2 1 3 4 2 19 2 324"/><path d="M0 57h211" stroke-dasharray="0 21 2 1 2 5 2 5 2 2 4 6 2 4 5 3 4 3 4 2 2 6 2 333"/><path d="M0 58h211" stroke-dasharray="0 1 2 17 2 14 2 1 2 4 2 2 2 1 2 7 6 1 5 5 3 4 2 335"/><path d="M0 59h211" stroke-dasharray="0 11 2 1 2 8 2 9 2 3 2 1 6 3 5 3 6 1 2 7 3 1 3 18 2 319"/><path d="M0 60h211" stroke-dasharray="0 17 2 5 2 3 2 4 2 2 2 2 2 1 2 4 4 2 2 1 4 3 4 1 8 1 6 2 2 5 2 323"/><path d="M0 61h211" stroke-dasharray="0 20 2 1 2 8 2 4 2 8 2 1 8 2 8 3 2 1 2 2 2 10 2 17 2 309"/><path d="M0 62h211" stroke-dasharray="0 5 2 2 4 13 5 9 3 2 2 1 8 2 2 2 3 1 9 3 2 3 5 3 2 6 2 88 2 231"/><path d="M0 63h211" stroke-dasharray="0 22 2 15 2 10 3 6 6 1 12 1 2 1 5 3 2 3 2 2 2 15 2 303"/><path d="M0 64h211" stroke-dasharray="0 7 2 3 3 6 2 15 4 2 6 1 2 3 3 1 3 1 12 1 6 16 2 4 3 6 2 32 2 272"/><path d="M0 65h211" stroke-dasharray="0 24 2 11 7 1 2 1 2 1 8 1 16 1 8 11 2 1 4 11 2 36 2 268"/><path d="M0 66h211" stroke-dasharray="0 3 2 3 3 11 2 6 5 1 8 5 2 1 6 1 8 1 2 2 4 1 2 1 2 4 5 1 3 14 2 35 2 274"/><path d="M0 67h211" stroke-dasharray="0 7 2 5 4 15 2 2 2 1 2 2 3 2 3 2 4 1 12 1 4 4 6 2 2 4 2 1 2 8 3 15 2 4 2 289"/><path d="M0 68h211" stroke-dasharray="0 15 2 8 4 1 2 4 5 2 16 2 3 1 10 2 2 1 6 9 4 1 2 8 2 66 2 242"/><path d="M0 69h211" stroke-dasharray="0 10 2 5 2 4 4 1 2 3 9 1 16 1 28 1 3 5 3 8 2 2 2 1 2 4 2 299"/><path d="M0 70h211" stroke-dasharray="0 8 2 18 4 3 12 1 8 2 31 2 2 6 2 2 2 15 3 19 2 6 4 268"/><path d="M0 71h211" stroke-dasharray="0 16 2 5 5 2 4 2 4 1 8 1 6 1 17 1 7 2 3 1 2 1 3 4 2 8 2 11 4 10 2 2 2 13 2 6 2 22 2 234"/><path d="M0 72h211" stroke-dasharray="0 8 2 3 2 3 2 8 3 4 5 1 29 1 11 1 4 1 11 3 2 28 2 288"/><path d="M0 73h211" stroke-dasharray="0 3 2 3 2 4 4 1 4 2 2 1 4 1 6 1 6 1 4 1 7 1 27 3 3 1 3 9 2 2 2 3 5 3 2 5 2 5 2 11 2 2 2 266"/><path d="M0 74h211" stroke-dasharray="0 1 2 4 2 7 4 3 2 3 17 2 25 3 9 2 2 2 3 1 2 5 2 1 2 3 3 4 2 7 2 3 2 31 2 257"/><path d="M0 75h211" stroke-dasharray="0 13 3 6 3 3 2 2 6 1 33 3 3 2 15 4 2 1 2 4 3 5 2 8 2 3 2 7 2 2 2 10 2 264"/><path d="M0 76h211" stroke-dasharray="0 5 2 1 2 8 8 1 2 4 40 1 8 1 12 10 2 4 2 3 2 8 2 13 2 7 2 270"/><path d="M0 77h211" stroke-dasharray="0 3 2 6 4 3 2 2 3 3 6 1 11 1 26 1 7 3 11 3 2 1 2 17 2 3 4 7 2 5 2 277"/><path d="M0 78h211" stroke-dasharray="0 5 2 4 2 12 2 2 5 1 56 1 6 5 2 3 6 1 2 5 5 3 2 11 2 61 2 214"/><path d="M0 79h211" stroke-dasharray="0 6 4 6 2 1 2 3 2 3 62 1 9 2 5 2 2 1 4 1 7 12 2 2 2 279"/><path d="M0 80h211" stroke-dasharray="0 4 2 2 2 2 2 5 8 4 7 1 59 2 4 1 5 1 9 5 3 5 3 14 2 2 4 264"/><path d="M0 81h211" stroke-dasharray="0 1 3 1 3 1 3 2 2 3 2 2 70 1 2 1 3 2 2 1 5 1 2 4 4 11 4 1 2 8 2 3 2 9 2 257"/><path d="M0 82h211" stroke-dasharray="0 21 75 2 2 5 4 2 2 1 2 3 7 6 2 8 2 7 4 8 2 1 2 254"/><path d="M0 83h211" stroke-dasharray="0 5 2 1 2 2 2 4 6 2 76 2 5 2 2 1 3 1 7 2 2 4 4 3 2 3 2 17 2 13 2 241"/><path d="M0 84h211" stroke-dasharray="0 5 6 1 11 1 45 1 31 9 2 2 2 5 2 2 2 5 2 2 2 4 2 11 2 5 2 2 2 254"/><path d="M0 85h211" stroke-dasharray="0 5 4 1 6 8 5 1 73 7 7 1 6 1 10 7 2 10 2 266"/><path d="M0 86h211" stroke-dasharray="0 4 3 4 4 1 2 2 6 1 64 1 15 10 2 1 2 3 4 10 2 3 2 7 2 267"/><path d="M0 87h211" stroke-dasharray="0 1 3 4 2 1 5 6 2 1 66 1 9 2 4 1 7 6 2 4 2 4 2 3 2 3 2 8 2 4 2 1 3 15 2 240"/><path d="M0 88h211" stroke-dasharray="0 3 5 6 4 4 78 3 2 4 2 10 3 3 2 1 2 2 3 23 2 260"/><path d="M0 89h211" stroke-dasharray="0 10 2 4 2 2 2 2 74 1 7 1 2 1 2 2 2 19 3 284"/><path d="M0 90h211" stroke-dasharray="0 7 3 6 3 1 6 2 70 1 6 1 2 3 2 8 2 1 3 1 2 7 2 5 2 12 2 26 2 234"/><path d="M0 91h211" stroke-dasharray="2 1 4 1 5 2 2 3 7 1 22 1 51 3 3 5 6 10 2 5 2 5 2 277"/><path d="M0 92h211" stroke-dasharray="2 12 6 2 79 1 4 9 2 1 2 1 4 297"/><path d="M0 93h211" stroke-dasharray="0 2 2 6 4 3 3 2 3 1 74 4 2 7 2 8 2 1 2 3 2 2 2 9 3 273"/><path d="M0 94h211" stroke-dasharray="0 3 2 6 11 1 2 1 66 2 2 1 4 14 2 8 3 12 2 280"/><path d="M0 95h211" stroke-dasharray="0 2 6 5 3 4 10 1 61 1 5 1 6 2 2 2 2 1 2 1 2 38 2 263"/><path d="M0 96h211" stroke-dasharray="0 2 2 3 2 2 2 1 2 1 4 1 8 1 67 1 9 4 2 4 2 7 2 15 2 276"/><path d="M0 97h211" stroke-dasharray="0 5 4 4 3 1 4 1 3 1 3 1 68 4 3 7 2 34 2 3 2 8 2 257"/><path d="M0 98h211" stroke-dasharray="0 3 2 10 4 1 78 3 2 1 2 6 2 58 2 248"/><path d="M0 99h211" stroke-dasharray="2 5 4 1 2 8 67 2 8 2 2 1 2 2 2 15 2 18 2 275"/><path d="M0 100h211" stroke-dasharray="2 2 2 4 4 1 2 1 9 1 71 1 6 3 4 31 2 17 2 257"/><path d="M0 101h211" stroke-dasharray="0 7 3 3 4 1 79 2 3 4 2 10 2 11 2 3 2 284"/><path d="M0 102h211" stroke-dasharray="0 1 2 1 2 2 2 1 4 6 77 1 3 4 4 2 3 22 2 32 2 249"/><path d="M0 103h211" stroke-dasharray="0 1 4 2 3 2 89 1 2 5 7 1 2 51 2 250"/><path d="M0 104h211" stroke-dasharray="2 3 5 2 6 2 14 1 65 3 3 1 2 12 2 7 2 2 2 5 2 279"/><path d="M0 105h211" stroke-dasharray="0 1 4 1 4 2 2 2 2 3 2 1 69 1 9 4 2 1 2 30 2 50 2 226"/><path d="M0 106h211" stroke-dasharray="0 2 2 2 2 1 2 1 2 1 4 1 3 1 4 1 67 2 2 6 4 7 2 5 2 6 2 2 2 9 2 273"/><path d="M0 107h211" stroke-dasharray="0 3 2 1 4 5 2 2 2 4 71 1 3 5 5 1 2 8 2 25 2 4 2 266"/><path d="M0 108h211" stroke-dasharray="0 3 2 1 7 2 6 2 7 1 65 1 3 4 3 13 2 18 2 280"/><path d="M0 109h211" stroke-dasharray="2 1 6 2 10 2 8 3 3 1 10 1 32 1 8 1 2 3 6 1 2 3 2 2 2 4 3 65 2 234"/><path d="M0 110h211" stroke-dasharray="9 5 23 1 51 1 2 2 4 1 4 15 2 2 2 2 2 3 2 18 2 4 2 263"/><path d="M0 111h211" stroke-dasharray="11 1 4 3 10 1 7 1 54 1 5 3 7 1 3 21 2 4 2 8 2 271"/><path d="M0 112h211" stroke-dasharray="0 5 2 2 13 1 3 1 2 1 6 2 54 1 9 8 3 1 2 8 2 21 2 20 2 251"/><path d="M0 113h211" stroke-dasharray="0 3 4 1 3 1 14 4 6 2 45 1 3 1 4 1 3 3 2 3 4 6 2 2 2 20 2 280"/><path d="M0 114h211" stroke-dasharray="0 1 2 1 2 5 7 1 69 2 6 1 2 5 4 2 3 13 2 30 2 262"/><path d="M0 115h211" stroke-dasharray="0 3 6 1 11 4 60 1 6 3 4 2 6 1 2 1 2 2 2 3 2 12 2 286"/><path d="M0 116h211" stroke-dasharray="4 1 8 1 7 1 10 1 52 2 10 1 3 1 4 4 4 4 5 1 2 34 2 260"/><path d="M0 117h211" stroke-dasharray="0 1 5 2 2 1 78 1 2 4 3 2 4 5 4 4 2 3 2 1 2 17 2 275"/><path d="M0 118h211" stroke-dasharray="0 2 3 1 5 2 11 1 4 2 60 6 2 2 2 1 2 3 2 2 2 8 4 6 2 7 2 8 3 2 2 3 2 258"/><path d="M0 119h211" stroke-dasharray="0 2 2 2 5 1 8 1 8 3 59 1 5 4 6 4 4 1 3 3 2 4 2 4 3 24 2 259"/><path d="M0 120h211" stroke-dasharray="0 10 4 3 12 1 18 1 41 2 4 2 2 2 3 1 4 2 3 4 2 6 2 4 2 6 2 5 2 272"/><path d="M0 121h211" stroke-dasharray="5 1 2 4 9 1 5 2 44 1 6 1 2 2 4 3 2 6 6 15 2 6 2 1 2 1 3 7 4 17 2 254"/><path d="M0 122h211" stroke-dasharray="0 2 3 1 2 1 2 1 11 1 58 1 18 2 2 2 4 8 2 7 2 18 2 6 2 6 2 256"/><path d="M0 123h211" stroke-dasharray="0 1 2 3 2 3 3 1 3 1 49 1 13 1 4 5 2 3 6 3 2 1 2 12 2 4 2 2 2 4 2 1 2 22 2 1 2 2 3 246"/><path d="M0 124h211" stroke-dasharray="6 2 6 1 4 1 9 1 49 4 3 2 6 4 5 1 2 28 2 8 4 10 4 3 2 255"/><path d="M0 125h211" stroke-dasharray="2 4 4 1 4 1 13 1 47 3 2 1 16 9 2 1 2 1 5 10 3 13 2 7 3 10 2 16 4 233"/><path d="M0 126h211" stroke-dasharray="0 4 6 1 14 1 40 1 23 3 6 2 2 1 3 2 2 3 4 1 2 1 4 5 6 10 2 10 2 5 4 252"/><path d="M0 127h211" stroke-dasharray="5 2 6 1 6 1 67 1 2 3 2 1 6 4 3 1 2 7 2 6 2 10 2 5 2 14 2 257"/><path d="M0 128h211" stroke-dasharray="0 3 4 2 3 1 30 1 54 1 5 5 4 11 4 1 2 2 2 23 2 5 2 1 2 8 2 4 2 236"/><path d="M0 129h211" stroke-dasharray="0 1 7 1 2 1 65 1 2 1 3 1 4 1 9 3 2 3 3 8 2 11 4 11 2 1 6 8 2 257"/><path d="M0 130h211" stroke-dasharray="4 2 11 2 7 2 49 1 2 1 10 2 2 1 2 1 2 11 6 40 2 2 2 7 2 10 2 9 2 226"/><path d="M0 131h211" stroke-dasharray="18 1 5 4 41 1 10 1 6 1 6 1 2 2 2 3 3 7 2 2 2 1 2 1 2 2 2 4 2 11 2 19 2 252"/><path d="M0 132h211" stroke-dasharray="2 2 3 4 54 1 21 1 5 3 4 3 2 1 2 4 2 7 2 2 2 3 2 2 2 3 2 7 2 5 2 13 2 2 2 8 2 236"/><path d="M0 133h211" stroke-dasharray="0 4 2 2 8 1 62 1 8 1 2 1 2 2 5 2 2 10 4 3 2 14 2 10 2 11 2 7 2 248"/><path d="M0 134h211" stroke-dasharray="3 1 3 1 71 2 7 2 6 2 5 4 4 4 2 5 2 1 2 9 2 8 3 8 2 263"/><path d="M0 135h211" stroke-dasharray="0 1 2 1 4 3 79 2 5 15 2 1 4 1 2 3 4 4 5 5 2 2 4 3 2 3 2 2 2 4 2 251"/><path d="M0 136h211" stroke-dasharray="0 5 3 3 4 1 65 3 2 1 2 1 5 2 2 2 2 4 6 8 2 1 2 1 3 3 2 2 2 11 2 9 2 7 4 2 3 243"/><path d="M0 137h211" stroke-dasharray="3 5 72 2 4 1 2 1 3 1 4 2 4 1 2 3 2 7 4 5 2 1 2 21 2 266"/><path d="M0 138h211" stroke-dasharray="0 1 3 2 20 1 62 2 2 1 2 2 8 3 2 2 4 9 6 2 2 1 4 2 4 3 3 6 2 2 2 2 2 31 3 5 2 212"/><path d="M0 139h211" stroke-dasharray="35 1 48 1 3 5 2 5 4 1 5 16 2 1 3 1 4 1 2 1 4 12 3 9 2 7 2 242"/><path d="M0 140h211" stroke-dasharray="83 4 2 1 2 1 2 4 7 6 5 1 2 8 2 2 2 8 3 1 2 31 2 10 2 229"/><path d="M0 141h211" stroke-dasharray="0 2 3 2 82 2 2 8 2 1 4 6 6 3 2 5 2 2 4 5 2 1 4 11 4 3 2 252"/><path d="M0 142h211" stroke-dasharray="0 3 3 1 3 1 77 2 3 3 4 1 2 3 4 2 5 2 3 5 2 6 4 4 3 8 2 5 2 8 4 247"/><path d="M0 143h211" stroke-dasharray="6 2 2 1 82 4 2 6 2 4 2 6 2 7 5 6 2 1 4 5 3 2 2 3 2 4 3 5 2 245"/><path d="M0 144h211" stroke-dasharray="2 4 4 1 83 3 2 12 2 1 2 3 4 16 2 3 5 1 2 9 2 7 2 4 2 244"/><path d="M0 145h211" stroke-dasharray="88 2 8 7 5 5 2 4 3 2 4 1 6 13 2 1 2 3 2 12 2 23 2 223"/><path d="M0 146h211" stroke-dasharray="89 2 2 2 3 4 8 1 2 3 2 4 2 1 2 3 2 1 3 2 2 1 5 2 5 1 2 7 2 1 2 4 2 4 2 242"/><path d="M0 147h211" stroke-dasharray="7 2 76 1 3 1 2 1 4 1 4 5 3 9 2 5 2 12 2 5 2 2 2 1 2 1 2 30 2 231"/><path d="M0 148h211" stroke-dasharray="85 1 14 13 8 6 2 4 2 12 4 1 4 27 2 8 2 227"/><path d="M0 149h211" stroke-dasharray="3 1 12 1 68 1 14 2 4 5 4 3 2 3 8 1 2 6 2 2 2 4 2 13 2 2 2 17 2 232"/><path d="M0 150h211" stroke-dasharray="6 1 72 1 4 1 10 1 2 1 2 3 2 1 5 1 5 3 2 3 4 2 2 2 2 4 2 4 2 2 4 10 2 4 2 248"/><path d="M0 151h211" stroke-dasharray="0 1 5 1 77 1 7 1 6 1 3 6 4 2 2 3 2 2 2 4 5 2 5 7 5 11 2 15 2 238"/><path d="M0 152h211" stroke-dasharray="2 1 2 3 7 1 2 2 64 2 6 1 6 1 3 3 2 1 2 4 2 3 3 4 6 4 2 3 4 12 2 262"/><path d="M0 153h211" stroke-dasharray="2 2 2 2 76 2 6 2 3 3 2 13 6 1 2 20 3 1 2 5 6 1 2 1 2 10 2 243"/><path d="M0 154h211" stroke-dasharray="0 4 2 1 69 1 7 3 2 1 6 7 3 5 4 2 4 4 5 5 3 6 2 2 3 7 2 3 2 4 2 6 2 21 2 220"/><path d="M0 155h211" stroke-dasharray="0 2 73 1 20 3 12 4 4 1 2 2 2 3 2 1 2 1 3 9 2 1 5 4 3 1 3 9 2 245"/><path d="M0 156h211" stroke-dasharray="0 1 100 3 3 1 2 5 7 1 3 3 2 13 3 1 2 272"/><path d="M0 157h211" stroke-dasharray="0 2 90 2 9 12 2 2 3 1 4 2 2 1 2 11 6 2 3 5 2 4 2 3 5 4 2 239"/><path d="M0 158h211" stroke-dasharray="4 1 91 1 2 1 2 4 2 1 2 1 3 5 2 2 3 1 2 1 5 2 2 21 2 4 2 253"/><path d="M0 159h211" stroke-dasharray="0 7 8 1 74 1 7 2 4 1 11 11 5 3 2 1 2 4 3 2 3 3 2 1 5 14 2 14 2 12 2 213"/><path d="M0 160h211" stroke-dasharray="2 1 3 1 77 2 6 1 4 1 12 1 6 3 9 4 7 2 2 1 2 8 2 19 2 13 2 229"/><path d="M0 161h211" stroke-dasharray="5 2 87 2 2 1 5 1 5 1 8 1 2 2 2 1 2 3 4 1 3 1 2 2 2 1 2 3 2 1 3 2 2 20 2 237"/><path d="M0 162h211" stroke-dasharray="4 2 83 1 3 1 5 2 3 1 5 2 2 4 2 1 2 6 2 1 2 6 3 4 6 3 2 6 4 6 2 14 2 230"/><path d="M0 163h211" stroke-dasharray="0 1 92 1 4 1 6 3 2 6 4 9 2 1 2 4 7 3 2 9 2 1 2 2 2 8 2 21 2 221"/><path d="M0 164h211" stroke-dasharray="88 1 2 4 2 1 2 1 2 3 3 9 4 2 8 13 2 23 2 1 4 21 2 222"/><path d="M0 165h211" stroke-dasharray="17 1 70 1 2 1 2 1 2 1 2 2 3 6 2 10 2 1 2 15 4 4 2 7 4 3 4 5 2 244"/><path d="M0 166h211" stroke-dasharray="0 3 4 1 73 1 11 2 2 1 3 5 2 2 3 3 4 11 4 9 2 10 2 5 4 2 2 7 2 5 2 2 2 231"/><path d="M0 167h211" stroke-dasharray="0 1 6 1 2 2 84 5 4 2 2 7 2 2 9 4 2 1 2 3 2 2 6 10 2 2 2 39 2 214"/><path d="M0 168h211" stroke-dasharray="0 2 8 1 85 1 2 7 2 4 2 3 2 2 2 3 4 8 2 7 4 4 2 5 2 6 2 3 2 1 2 242"/><path d="M0 169h211" stroke-dasharray="0 2 83 2 5 6 3 3 3 2 2 9 2 3 3 4 2 1 3 5 2 5 2 5 2 2 5 9 2 245"/><path d="M0 170h211" stroke-dasharray="5 1 7 2 81 3 4 3 4 15 6 7 3 8 2 1 2 3 6 2 2 1 2 5 2 5 2 238"/><path d="M0 171h211" stroke-dasharray="0 1 6 1 5 1 84 1 2 1 5 4 6 1 2 7 2 2 2 2 2 7 4 6 4 5 2 10 2 15 2 3 2 223"/><path d="M0 172h211" stroke-dasharray="0 2 3 1 14 1 64 2 6 2 4 11 2 5 2 4 2 6 5 1 2 1 3 1 2 4 3 10 2 9 2 15 2 1 2 226"/><path d="M0 173h211" stroke-dasharray="82 1 11 2 2 1 3 5 2 9 4 4 2 13 6 8 2 6 2 17 2 238"/><path d="M0 174h211" stroke-dasharray="0 4 11 1 78 2 2 5 2 12 5 6 2 1 2 10 2 1 2 1 2 1 2 3 2 3 2 2 2 18 2 7 2 225"/><path d="M0 175h211" stroke-dasharray="4 2 4 1 80 1 2 3 2 6 2 7 2 2 4 1 7 1 2 5 2 22 2 5 8 6 2 7 2 228"/><path d="M0 176h211" stroke-dasharray="0 6 3 1 77 2 2 5 3 2 4 2 2 1 2 3 2 4 4 1 2 1 2 2 2 12 4 9 2 2 2 1 3 252"/><path d="M0 177h211" stroke-dasharray="0 1 2 1 2 1 81 5 7 4 2 4 2 5 2 3 2 7 4 2 4 12 4 8 2 2 2 20 6 225"/><path d="M0 178h211" stroke-dasharray="0 2 87 3 10 1 4 3 2 14 4 1 2 5 5 2 4 6 2 1 2 2 4 256"/><path d="M0 179h211" stroke-dasharray="85 1 3 2 8 2 2 13 3 2 4 1 2 25 2 13 2 252"/><path d="M0 180h211" stroke-dasharray="0 1 84 1 3 3 3 22 2 2 2 9 2 10 3 20 2 14 2 4 2 231"/><path d="M0 181h211" stroke-dasharray="0 4 2 2 81 1 2 2 4 3 4 2 2 6 2 1 2 2 2 20 3 4 3 1 5 1 2 12 2 2 2 3 2 1 2 233"/><path d="M0 182h211" stroke-dasharray="0 2 2 2 5 2 77 3 2 1 2 4 2 5 3 14 3 1 2 3 4 21 4 14 2 242"/><path d="M0 183h211" stroke-dasharray="0 1 2 3 5 1 3 2 73 1 3 3 2 4 4 5 2 18 2 31 2 1 2 2 2 13 2 13 2 218"/><path d="M0 184h211" stroke-dasharray="0 5 3 1 67 1 11 2 4 4 7 23 2 13 2 277"/><path d="M0 185h211" stroke-dasharray="0 5 81 1 4 6 2 1 2 3 2 7 3 2 4 10 2 4 2 19 2 1 2 6 2 249"/><path d="M0 186h211" stroke-dasharray="0 2 11 1 68 1 2 4 3 2 2 1 3 6 2 1 2 1 2 5 4 1 2 8 2 6 3 2 2 12 2 2 2 20 2 4 2 227"/><path d="M0 187h211" stroke-dasharray="0 2 2 2 6 1 72 1 3 5 2 3 2 26 3 4 2 3 2 1 2 4 4 4 2 1 4 9 2 15 2 231"/><path d="M0 188h211" stroke-dasharray="2 1 5 2 66 2 5 3 5 2 3 1 2 8 2 7 2 3 2 5 2 8 2 15 2 1 2 262"/><path d="M0 189h211" stroke-dasharray="0 7 11 1 64 3 2 5 3 5 2 8 2 6 2 12 2 5 2 13 2 10 2 4 2 1 2 244"/><path d="M0 190h211" stroke-dasharray="2 3 5 1 71 1 4 2 3 1 3 12 2 2 2 18 2 7 2 8 2 14 2 253"/><path d="M0 191h211" stroke-dasharray="0 1 2 3 4 1 71 3 3 3 5 5 2 2 4 4 2 11 5 27 2 30 2 230"/><path d="M0 192h211" stroke-dasharray="0 4 5 2 7 1 11 1 48 1 2 2 2 1 8 42 2 7 2 3 2 2 2 18 2 245"/><path d="M0 193h211" stroke-dasharray="0 1 2 3 2 4 6 1 58 3 4 2 4 1 2 6 2 16 2 3 3 2 2 293"/><path d="M0 194h211" stroke-dasharray="0 6 3 1 5 1 54 1 8 3 2 4 2 3 2 7 4 20 2 10 3 8 2 35 2 9 2 223"/><path d="M0 195h211" stroke-dasharray="2 6 13 1 53 1 8 1 4 1 3 5 2 2 2 2 2 2 4 11 2 9 2 7 2 2 3 19 2 35 2 212"/><path d="M0 196h211" stroke-dasharray="2 4 6 3 4 4 44 2 2 1 2 1 7 1 2 2 2 6 3 6 2 17 2 7 2 1 4 24 2 257"/><path d="M0 197h211" stroke-dasharray="4 9 4 1 3 1 45 1 3 2 7 2 3 4 5 6 2 12 2 16 2 16 2 26 2 2 2 238"/><path d="M0 198h211" stroke-dasharray="0 2 4 1 2 2 6 2 33 1 12 2 3 3 8 2 3 1 3 4 2 4 2 13 2 15 4 12 2 6 2 264"/><path d="M0 199h211" stroke-dasharray="0 2 4 1 4 1 17 1 12 1 23 1 5 3 4 4 2 3 2 2 2 11 3 9 2 50 2 1 2 248"/><path d="M0 200h211" stroke-dasharray="0 4 7 1 4 1 7 1 41 1 7 1 12 27 2 27 2 2 2 15 4 2 2 250"/><path d="M0 201h211" stroke-dasharray="0 6 6 1 11 1 32 1 10 1 7 1 3 2 2 7 2 1 2 14 2 18 2 7 2 2 2 18 2 12 2 243"/><path d="M0 202h211" stroke-dasharray="0 6 2 5 2 2 6 2 7 1 38 5 6 8 2 3 2 13 2 35 3 17 2 14 2 237"/><path d="M0 203h211" stroke-dasharray="0 12 3 4 2 1 44 1 11 4 3 9 2 12 6 7 2 17 2 280"/><path d="M0 204h211" stroke-dasharray="0 2 2 6 2 3 3 2 2 2 34 1 7 2 6 1 2 4 5 12 2 1 3 6 4 308"/><path d="M0 205h211" stroke-dasharray="0 16 2 2 4 2 2 2 2 1 4 1 12 1 4 1 8 6 4 1 6 6 2 8 2 39 2 26 2 254"/><path d="M0 206h211" stroke-dasharray="0 7 4 5 13 1 5 2 13 1 3 3 12 1 3 2 5 1 2 1 3 1 3 11 2 20 2 9 2 10 2 21 2 250"/><path d="M0 207h211" stroke-dasharray="0 8 2 3 3 1 2 3 7 2 4 2 2 3 2 1 14 1 13 5 5 6 2 41 2 8 2 62 2 214"/><path d="M0 208h211" stroke-dasharray="0 12 3 4 3 2 17 1 17 1 4 1 5 1 8 3 3 14 2 9 2 310"/><path d="M0 209h211" stroke-dasharray="0 10 2 9 2 4 4 1 2 2 5 1 25 1 2 1 2 1 2 5 2 4 2 72 2 259"/><path d="M0 210h211" stroke-dasharray="2 2 2 1 2 9 2 2 2 6 2 10 2 1 8 1 3 2 2 2 9 8 2 8 2 19 2 47 2 260"/><path d="M0 211h211" stroke-dasharray="0 9 2 10 5 2 4 1 2 3 2 2 6 1 10 1 2 1 2 1 2 3 3 1 2 10 2 22 2 46 2 15 2 244"/><path d="M0 212h211" stroke-dasharray="0 10 2 2 2 7 12 3 2 3 4 1 2 1 11 1 2 1 2 1 4 1 2 1 2 1 2 340"/></g>
<rect x="366.7" y="189.7" width="105.32" height="106.3" fill="none" stroke="#000" stroke-width="2.3"/>
<path d="M363.3 296L366.7 296" stroke="#000" stroke-width="1.6" stroke-linecap="butt"/>
<path d="M366.7 296L366.7 299.4" stroke="#000" stroke-width="1.6" stroke-linecap="butt"/>
<text x="356" y="301.4" font-size="11.6" text-anchor="end" textLength="11.2" lengthAdjust="spacingAndGlyphs" stroke="#000" stroke-width=".3">10</text>
<text x="356.2" y="294.1" font-size="9.8" text-anchor="start" stroke="#000" stroke-width=".25">0</text>
<text x="371.7" y="311.6" font-size="11.6" text-anchor="end" textLength="11.2" lengthAdjust="spacingAndGlyphs" stroke="#000" stroke-width=".3">10</text>
<text x="371.6" y="304.9" font-size="9.8" text-anchor="start" stroke="#000" stroke-width=".25">0</text>
<path d="M363.3 269.43L366.7 269.43" stroke="#000" stroke-width="1.6" stroke-linecap="butt"/>
<path d="M393.03 296L393.03 299.4" stroke="#000" stroke-width="1.6" stroke-linecap="butt"/>
<text x="356" y="274.82" font-size="11.6" text-anchor="end" textLength="11.2" lengthAdjust="spacingAndGlyphs" stroke="#000" stroke-width=".3">10</text>
<text x="356.2" y="267.53" font-size="9.8" text-anchor="start" stroke="#000" stroke-width=".25">1</text>
<text x="398.03" y="311.6" font-size="11.6" text-anchor="end" textLength="11.2" lengthAdjust="spacingAndGlyphs" stroke="#000" stroke-width=".3">10</text>
<text x="397.93" y="304.9" font-size="9.8" text-anchor="start" stroke="#000" stroke-width=".25">1</text>
<path d="M363.3 242.85L366.7 242.85" stroke="#000" stroke-width="1.6" stroke-linecap="butt"/>
<path d="M419.36 296L419.36 299.4" stroke="#000" stroke-width="1.6" stroke-linecap="butt"/>
<text x="356" y="248.25" font-size="11.6" text-anchor="end" textLength="11.2" lengthAdjust="spacingAndGlyphs" stroke="#000" stroke-width=".3">10</text>
<text x="356.2" y="240.95" font-size="9.8" text-anchor="start" stroke="#000" stroke-width=".25">2</text>
<text x="424.36" y="311.6" font-size="11.6" text-anchor="end" textLength="11.2" lengthAdjust="spacingAndGlyphs" stroke="#000" stroke-width=".3">10</text>
<text x="424.26" y="304.9" font-size="9.8" text-anchor="start" stroke="#000" stroke-width=".25">2</text>
<path d="M363.3 216.28L366.7 216.28" stroke="#000" stroke-width="1.6" stroke-linecap="butt"/>
<path d="M445.69 296L445.69 299.4" stroke="#000" stroke-width="1.6" stroke-linecap="butt"/>
<text x="356" y="221.68" font-size="11.6" text-anchor="end" textLength="11.2" lengthAdjust="spacingAndGlyphs" stroke="#000" stroke-width=".3">10</text>
<text x="356.2" y="214.38" font-size="9.8" text-anchor="start" stroke="#000" stroke-width=".25">3</text>
<text x="450.69" y="311.6" font-size="11.6" text-anchor="end" textLength="11.2" lengthAdjust="spacingAndGlyphs" stroke="#000" stroke-width=".3">10</text>
<text x="450.59" y="304.9" font-size="9.8" text-anchor="start" stroke="#000" stroke-width=".25">3</text>
<path d="M363.3 189.7L366.7 189.7" stroke="#000" stroke-width="1.6" stroke-linecap="butt"/>
<path d="M472.02 296L472.02 299.4" stroke="#000" stroke-width="1.6" stroke-linecap="butt"/>
<text x="356" y="195.1" font-size="11.6" text-anchor="end" textLength="11.2" lengthAdjust="spacingAndGlyphs" stroke="#000" stroke-width=".3">10</text>
<text x="356.2" y="187.8" font-size="9.8" text-anchor="start" stroke="#000" stroke-width=".25">4</text>
<text x="477.02" y="311.6" font-size="11.6" text-anchor="end" textLength="11.2" lengthAdjust="spacingAndGlyphs" stroke="#000" stroke-width=".3">10</text>
<text x="476.92" y="304.9" font-size="9.8" text-anchor="start" stroke="#000" stroke-width=".25">4</text>
<rect x="413.7" y="213.3" width="46.6" height="28.4" fill="none" stroke="#000" stroke-width="2"/>
<text x="413.2" y="208.1" font-size="14.3" text-anchor="start" stroke="#000" stroke-width=".2">0.046</text>
<text x="419.36" y="184" font-size="15.7" text-anchor="middle">GPIbaP</text>
</g>
<g stroke="#000" fill="none">
<path d="M50.8 271V319.2H100" stroke-width="1.9"/>
</g>
<path d="M50.8 262.3L56.6 275.4L50.8 271.6L45 275.4z"/>
<path d="M109 319.2L95.9 325L99.7 319.2L95.9 313.4z"/>
<text x="46.3" y="310" font-size="17.5" text-anchor="start" transform="rotate(-90 46.3 310)">cKit</text>
<text x="54.5" y="336.7" font-size="17.8" text-anchor="start">Sca1</text>
<g stroke="#000" fill="none">
<path d="M102.6 427V487" stroke-width="3.2"/>
<path d="M96 428H102.6" stroke-width="2.6"/>
<path d="M96 437.83H102.6" stroke-width="2.6"/>
<path d="M96 447.66H102.6" stroke-width="2.6"/>
<path d="M96 457.49H102.6" stroke-width="2.6"/>
<path d="M96 467.32H102.6" stroke-width="2.6"/>
<path d="M96 477.15H102.6" stroke-width="2.6"/>
<path d="M96 486.98H102.6" stroke-width="2.6"/>
<path d="M96 487H108" stroke-width="2.6"/>
<path d="M102.6 501V723.3" stroke-width="3.2"/>
<path d="M96 501.3H108" stroke-width="2.6"/>
<path d="M96 721.8H102.6" stroke-width="2.6"/>
<path d="M96 701.8H102.6" stroke-width="2.6"/>
<path d="M96 681.8H102.6" stroke-width="2.6"/>
<path d="M96 661.8H102.6" stroke-width="2.6"/>
<path d="M96 641.8H102.6" stroke-width="2.6"/>
<path d="M96 621.8H102.6" stroke-width="2.6"/>
<path d="M96 601.8H102.6" stroke-width="2.6"/>
<path d="M96 581.8H102.6" stroke-width="2.6"/>
<path d="M96 561.8H102.6" stroke-width="2.6"/>
<path d="M96 541.8H102.6" stroke-width="2.6"/>
<path d="M96 521.8H102.6" stroke-width="2.6"/>
<path d="M96 721.8H299" stroke-width="3.2"/>
<path d="M308.5 721.8H509.3" stroke-width="3.2"/>
<path d="M295.6 727.2L302.3 714.8M305.9 727.8L313 715.4" stroke-width="2.6"/>
<path d="M120.7 721.8V729.6" stroke-width="2.6"/>
<path d="M157.5 721.8V729.6" stroke-width="2.6"/>
<path d="M194.4 721.8V729.6" stroke-width="2.6"/>
<path d="M231.3 721.8V729.6" stroke-width="2.6"/>
<path d="M268.2 721.8V729.6" stroke-width="2.6"/>
<path d="M342 721.8V729.6" stroke-width="2.6"/>
<path d="M378.8 721.8V729.6" stroke-width="2.6"/>
<path d="M415.5 721.8V729.6" stroke-width="2.6"/>
<path d="M452.4 721.8V729.6" stroke-width="2.6"/>
<path d="M489.2 721.8V729.6" stroke-width="2.6"/>
<path d="M106.9 645.3H134.5" stroke-width="3.2"/>
<path d="M143.7 660.3H171.3" stroke-width="3.2"/>
<path d="M180.6 639.3H208.2" stroke-width="3.2"/>
<path d="M217.5 697.5H245.1" stroke-width="3.2"/>
<path d="M254.4 601.3H282" stroke-width="3.2"/>
<path d="M328.2 626.3H355.8" stroke-width="3.2"/>
<path d="M365 608.8H392.6" stroke-width="3.2"/>
<path d="M401.7 635.8H429.3" stroke-width="3.2"/>
<path d="M438.6 593.8H466.2" stroke-width="3.2"/>
<path d="M475.4 590.8H503" stroke-width="3.2"/>
<path d="M120 450V440.5H233" stroke-width="1.8"/>
<path d="M233 439.7V617.5" stroke-width="1.8"/>
<path d="M233 473.5H268.6V492" stroke-width="1.8"/>
<path d="M158.8 594V518.3H233" stroke-width="1.8"/>
<path d="M197 565V557H233" stroke-width="1.8"/>
</g>
<circle cx="120.7" cy="469" r="3.3"/>
<circle cx="120.7" cy="601.3" r="3.3"/>
<circle cx="120.7" cy="615.5" r="3.3"/>
<circle cx="109.6" cy="675" r="3.3"/>
<circle cx="120.7" cy="676.3" r="3.3"/>
<circle cx="120.7" cy="706.3" r="3.3"/>
<circle cx="157.5" cy="633" r="3.3"/>
<circle cx="163" cy="630.8" r="3.3"/>
<circle cx="157.5" cy="660.4" r="3.3"/>
<circle cx="163" cy="691.3" r="3.3"/>
<circle cx="157.5" cy="702.5" r="3.3"/>
<circle cx="194.4" cy="576.3" r="3.3"/>
<circle cx="194.4" cy="591.3" r="3.3"/>
<circle cx="189.4" cy="628.3" r="3.3"/>
<circle cx="199.6" cy="628.3" r="3.3"/>
<circle cx="194.4" cy="630.8" r="3.3"/>
<circle cx="199.8" cy="636.3" r="3.3"/>
<circle cx="183.6" cy="641.8" r="3.3"/>
<circle cx="194.4" cy="644.3" r="3.3"/>
<circle cx="194.4" cy="656.3" r="3.3"/>
<circle cx="194.4" cy="673.8" r="3.3"/>
<circle cx="200" cy="675.5" r="3.3"/>
<circle cx="194.4" cy="685.5" r="3.3"/>
<circle cx="220" cy="697" r="3.3"/>
<circle cx="225.7" cy="692.5" r="3.3"/>
<circle cx="234.3" cy="692" r="3.3"/>
<circle cx="228.7" cy="697" r="3.3"/>
<circle cx="237" cy="695.5" r="3.3"/>
<circle cx="237" cy="706.3" r="3.3"/>
<circle cx="231.3" cy="716.3" r="3.3"/>
<circle cx="268.2" cy="560.8" r="3.3"/>
<circle cx="257" cy="593" r="3.3"/>
<circle cx="268.2" cy="601.3" r="3.3"/>
<circle cx="273.8" cy="613.3" r="3.3"/>
<circle cx="268.2" cy="619.3" r="3.3"/>
<circle cx="342" cy="589.3" r="3.3"/>
<circle cx="342" cy="605.8" r="3.3"/>
<circle cx="330.8" cy="646.8" r="3.3"/>
<circle cx="342" cy="648" r="3.3"/>
<circle cx="342" cy="715.8" r="3.3"/>
<circle cx="378.8" cy="483.3" r="3.3"/>
<circle cx="378.8" cy="608.8" r="3.3"/>
<circle cx="384.3" cy="608.8" r="3.3"/>
<circle cx="378.8" cy="620" r="3.3"/>
<circle cx="378.8" cy="655" r="3.3"/>
<circle cx="415.5" cy="436.3" r="3.3"/>
<circle cx="415.5" cy="485.8" r="3.3"/>
<circle cx="415.5" cy="607.5" r="3.3"/>
<circle cx="415.5" cy="623.8" r="3.3"/>
<circle cx="404.5" cy="631" r="3.3"/>
<circle cx="415.5" cy="640" r="3.3"/>
<circle cx="421.3" cy="649" r="3.3"/>
<circle cx="415.5" cy="655" r="3.3"/>
<circle cx="415.5" cy="671.8" r="3.3"/>
<circle cx="415.5" cy="709.5" r="3.3"/>
<circle cx="452.4" cy="503" r="3.3"/>
<circle cx="452.4" cy="683.3" r="3.3"/>
<circle cx="495" cy="560" r="3.3"/>
<circle cx="489.2" cy="563.3" r="3.3"/>
<circle cx="478" cy="573.3" r="3.3"/>
<circle cx="489.2" cy="583" r="3.3"/>
<circle cx="489.2" cy="598" r="3.3"/>
<circle cx="489.2" cy="628.3" r="3.3"/>
<circle cx="495" cy="636.8" r="3.3"/>
<circle cx="489.2" cy="645" r="3.3"/>
<text x="173.8" y="443.4" font-size="20" text-anchor="middle" stroke="#000" stroke-width=".35">*</text>
<text x="193.2" y="520.6" font-size="20" text-anchor="middle" stroke="#000" stroke-width=".35">*</text>
<text x="252.5" y="477.2" font-size="20" text-anchor="middle" stroke="#000" stroke-width=".35">***</text>
<text x="215" y="560.2" font-size="20" text-anchor="middle" stroke="#000" stroke-width=".35">***</text>
<text transform="translate(96.7 433.1) scale(.95 1)" font-size="16" text-anchor="end" stroke="#000" stroke-width=".2">0.8</text>
<text transform="translate(96.7 452.8) scale(.95 1)" font-size="16" text-anchor="end" stroke="#000" stroke-width=".2">0.6</text>
<text transform="translate(96.7 472.4) scale(.95 1)" font-size="16" text-anchor="end" stroke="#000" stroke-width=".2">0.4</text>
<text transform="translate(96.7 492.1) scale(.95 1)" font-size="16" text-anchor="end" stroke="#000" stroke-width=".2">0.2</text>
<text transform="translate(96.7 727) scale(.95 1)" font-size="16" text-anchor="end" stroke="#000" stroke-width=".2">0.00</text>
<text transform="translate(96.7 687) scale(.95 1)" font-size="16" text-anchor="end" stroke="#000" stroke-width=".2">0.02</text>
<text transform="translate(96.7 647) scale(.95 1)" font-size="16" text-anchor="end" stroke="#000" stroke-width=".2">0.04</text>
<text transform="translate(96.7 607) scale(.95 1)" font-size="16" text-anchor="end" stroke="#000" stroke-width=".2">0.06</text>
<text transform="translate(96.7 567) scale(.95 1)" font-size="16" text-anchor="end" stroke="#000" stroke-width=".2">0.08</text>
<text transform="translate(96.7 527) scale(.95 1)" font-size="16" text-anchor="end" stroke="#000" stroke-width=".2">0.10</text>
<text x="47.7" y="564.5" font-size="19.8" text-anchor="middle" transform="rotate(-90 47.7 564.5)">LSK cells [% of nucleated BM]</text>
<text x="126.1" y="738.1" font-size="15.5" text-anchor="end" transform="rotate(-45 126.1 738.1)">mMplP</text>
<text x="162.9" y="738.1" font-size="15.5" text-anchor="end" transform="rotate(-45 162.9 738.1)">hMplP</text>
<text x="199.8" y="738.1" font-size="15.5" text-anchor="end" transform="rotate(-45 199.8 738.1)">GPIbaP</text>
<text x="236.7" y="738.1" font-size="15.5" text-anchor="end" transform="rotate(-45 236.7 738.1)">GFP</text>
<text x="273.6" y="738.1" font-size="15.5" text-anchor="end" transform="rotate(-45 273.6 738.1)">WT</text>
<text x="350.2" y="737.6" font-size="15.5" text-anchor="end" transform="rotate(-45 350.2 737.6)">mMplP sec</text>
<text x="387" y="737.6" font-size="15.5" text-anchor="end" transform="rotate(-45 387 737.6)">hMplP sec</text>
<text x="423.7" y="737.6" font-size="15.5" text-anchor="end" transform="rotate(-45 423.7 737.6)">GPIbaP sec</text>
<text x="460.6" y="737.6" font-size="15.5" text-anchor="end" transform="rotate(-45 460.6 737.6)">GFP sec</text>
<text x="497.4" y="737.6" font-size="15.5" text-anchor="end" transform="rotate(-45 497.4 737.6)">WT sec</text>
<g stroke="#000" fill="none">
<path d="M102.6 915V950.5" stroke-width="3.2"/>
<path d="M93.5 927.5H102.6" stroke-width="2.6"/>
<path d="M93.5 949.3H108.8" stroke-width="2.6"/>
<path d="M102.6 968.3V1185.3" stroke-width="3.2"/>
<path d="M93.5 969.5H108.8" stroke-width="2.6"/>
<path d="M93.5 1183.8H102.6" stroke-width="2.6"/>
<path d="M93.5 1130.2H102.6" stroke-width="2.6"/>
<path d="M93.5 1076.6H102.6" stroke-width="2.6"/>
<path d="M93.5 1023H102.6" stroke-width="2.6"/>
<path d="M93.5 1183.8H505" stroke-width="3.2"/>
<path d="M142.5 1183.8V1193" stroke-width="2.6"/>
<path d="M222.5 1183.8V1193" stroke-width="2.6"/>
<path d="M302.5 1183.8V1193" stroke-width="2.6"/>
<path d="M382.5 1183.8V1193" stroke-width="2.6"/>
<path d="M462.5 1183.8V1193" stroke-width="2.6"/>
<path d="M114.2 1028.8H170.8" stroke-width="3.2"/>
<path d="M194.2 1079.8H250.8" stroke-width="3.2"/>
<path d="M274.2 1081.5H330.8" stroke-width="3.2"/>
<path d="M354.2 1136H410.8" stroke-width="3.2"/>
<path d="M434.2 1054.5H490.8" stroke-width="3.2"/>
<path d="M143.3 875V857.5H382.8" stroke-width="1.6"/>
<path d="M382 856.7V958.5" stroke-width="1.6"/>
<path d="M226.3 889.3V871.8H382" stroke-width="1.6"/>
<path d="M305 903.8V886.5H382" stroke-width="1.6"/>
<path d="M382 860.5H463.3V878" stroke-width="1.6"/>
</g>
<circle cx="142.3" cy="921.3" r="3.3"/>
<circle cx="142.3" cy="1000.8" r="3.3"/>
<circle cx="142.3" cy="1020.5" r="3.3"/>
<circle cx="142.3" cy="1036.3" r="3.3"/>
<circle cx="142.3" cy="1052" r="3.3"/>
<circle cx="142.3" cy="1109.5" r="3.3"/>
<circle cx="222.5" cy="947" r="3.3"/>
<circle cx="222.5" cy="1065" r="3.3"/>
<circle cx="222.5" cy="1079.3" r="3.3"/>
<circle cx="222.5" cy="1100" r="3.3"/>
<circle cx="222.5" cy="1118.3" r="3.3"/>
<circle cx="302.5" cy="1031.8" r="3.3"/>
<circle cx="290.5" cy="1047.5" r="3.3"/>
<circle cx="290.5" cy="1052.5" r="3.3"/>
<circle cx="302.5" cy="1054.3" r="3.3"/>
<circle cx="314.3" cy="1050.5" r="3.3"/>
<circle cx="290.5" cy="1080.3" r="3.3"/>
<circle cx="314.3" cy="1081.3" r="3.3"/>
<circle cx="302.5" cy="1087" r="3.3"/>
<circle cx="290.5" cy="1097.5" r="3.3"/>
<circle cx="302.5" cy="1101.3" r="3.3"/>
<circle cx="314.3" cy="1128.3" r="3.3"/>
<circle cx="302.5" cy="1134.3" r="3.3"/>
<circle cx="394.5" cy="1113" r="3.3"/>
<circle cx="382.5" cy="1123" r="3.3"/>
<circle cx="370.5" cy="1125.5" r="3.3"/>
<circle cx="382.5" cy="1135.5" r="3.3"/>
<circle cx="370.5" cy="1146.3" r="3.3"/>
<circle cx="394.5" cy="1148.8" r="3.3"/>
<circle cx="382.5" cy="1158.3" r="3.3"/>
<circle cx="462.5" cy="993.8" r="3.3"/>
<circle cx="450.8" cy="1026.3" r="3.3"/>
<circle cx="462.5" cy="1028.3" r="3.3"/>
<circle cx="462.5" cy="1080" r="3.3"/>
<circle cx="462.5" cy="1095" r="3.3"/>
<circle cx="462.5" cy="1143.8" r="3.3"/>
<text x="249.5" y="859.2" font-size="17.5" text-anchor="middle" font-family='"Liberation Serif", serif' letter-spacing="-1" stroke="#000" stroke-width=".25">**</text>
<text x="302.2" y="872.6" font-size="17.5" text-anchor="middle" font-family='"Liberation Serif", serif' letter-spacing="-1" stroke="#000" stroke-width=".25">**</text>
<text x="344.7" y="886.4" font-size="17.5" text-anchor="middle" font-family='"Liberation Serif", serif' letter-spacing="-1" stroke="#000" stroke-width=".25">**</text>
<text x="428" y="862.1" font-size="17.5" text-anchor="middle" font-family='"Liberation Serif", serif' letter-spacing="-1" stroke="#000" stroke-width=".25">*</text>
<text transform="translate(93.9 932.7) scale(.95 1)" font-size="16" text-anchor="end" stroke="#000" stroke-width=".2">1.75</text>
<text transform="translate(93.9 954.5) scale(.95 1)" font-size="16" text-anchor="end" stroke="#000" stroke-width=".2">1.25</text>
<text transform="translate(93.9 974.7) scale(.95 1)" font-size="16" text-anchor="end" stroke="#000" stroke-width=".2">1.00</text>
<text transform="translate(93.9 1028.2) scale(.95 1)" font-size="16" text-anchor="end" stroke="#000" stroke-width=".2">0.75</text>
<text transform="translate(93.9 1081.8) scale(.95 1)" font-size="16" text-anchor="end" stroke="#000" stroke-width=".2">0.50</text>
<text transform="translate(93.9 1135.4) scale(.95 1)" font-size="16" text-anchor="end" stroke="#000" stroke-width=".2">0.25</text>
<text transform="translate(93.9 1189) scale(.95 1)" font-size="16" text-anchor="end" stroke="#000" stroke-width=".2">0.00</text>
<text x="42.9" y="1035.3" font-size="19.8" text-anchor="middle" transform="rotate(-90 42.9 1035.3)">LK cells [% of nucleated BM]</text>
<text x="148.3" y="1203" font-size="15.5" text-anchor="end" transform="rotate(-45 148.3 1203)">mMplP</text>
<text x="228.3" y="1203" font-size="15.5" text-anchor="end" transform="rotate(-45 228.3 1203)">hMplP</text>
<text x="308.3" y="1203" font-size="15.5" text-anchor="end" transform="rotate(-45 308.3 1203)">GPIbaP</text>
<text x="388.3" y="1203" font-size="15.5" text-anchor="end" transform="rotate(-45 388.3 1203)">GFP</text>
<text x="468.3" y="1203" font-size="15.5" text-anchor="end" transform="rotate(-45 468.3 1203)">WT</text>
</svg>
</body></html>
